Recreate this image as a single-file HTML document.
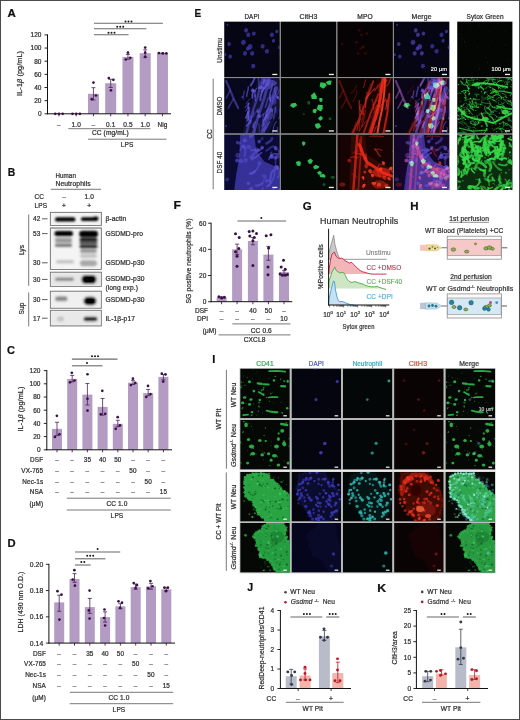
<!DOCTYPE html>
<html><head><meta charset="utf-8"><style>
html,body{margin:0;padding:0;background:#fff;}
svg.main{display:block;font-family:"Liberation Sans", sans-serif;}
svg.main text{stroke-width:0.22px;letter-spacing:0.1px;}
svg.main text:not([stroke]){stroke:#2e2e2e;}
</style></head><body>
<svg class="main" width="520" height="720" viewBox="0 0 520 720" fill="#2e2e2e" stroke="none">
<defs>
<filter id="blur06" x="-20%" y="-50%" width="140%" height="200%"><feGaussianBlur stdDeviation="0.9"/></filter>
<filter id="blurE" x="-10%" y="-10%" width="120%" height="120%"><feGaussianBlur stdDeviation="0.55"/></filter>
<filter id="blurI" x="-10%" y="-10%" width="120%" height="120%"><feGaussianBlur stdDeviation="0.7"/></filter>
<filter id="blur05" x="-10%" y="-10%" width="120%" height="120%"><feGaussianBlur stdDeviation="0.5"/></filter>
<filter id="blur04" x="-10%" y="-10%" width="120%" height="120%"><feGaussianBlur stdDeviation="0.4"/></filter>
<g id="e_dapi1"><ellipse cx="21.9" cy="8.8" rx="2.04" ry="2.28" fill="#4a44c8" opacity="0.62" transform="rotate(20 21.9 8.8)"/><ellipse cx="24.1" cy="13.2" rx="2.04" ry="2.28" fill="#4a44c8" opacity="0.62" transform="rotate(20 24.1 13.2)"/><ellipse cx="29.6" cy="12" rx="1.87" ry="2.09" fill="#4a44c8" opacity="0.62" transform="rotate(20 29.6 12)"/><ellipse cx="19.2" cy="20.8" rx="2.29" ry="2.56" fill="#4a44c8" opacity="0.62" transform="rotate(20 19.2 20.8)"/><ellipse cx="25.8" cy="25.2" rx="2.46" ry="2.75" fill="#4a44c8" opacity="0.62" transform="rotate(20 25.8 25.2)"/><ellipse cx="23.5" cy="27" rx="1.87" ry="2.09" fill="#4a44c8" opacity="0.62" transform="rotate(20 23.5 27)"/><ellipse cx="20.8" cy="31.8" rx="2.04" ry="2.28" fill="#4a44c8" opacity="0.62" transform="rotate(20 20.8 31.8)"/><ellipse cx="28" cy="31.8" rx="2.04" ry="2.28" fill="#4a44c8" opacity="0.62" transform="rotate(20 28 31.8)"/><ellipse cx="4.9" cy="22.5" rx="1.78" ry="1.99" fill="#4a44c8" opacity="0.62" transform="rotate(20 4.9 22.5)"/><ellipse cx="6" cy="35" rx="1.78" ry="1.99" fill="#4a44c8" opacity="0.62" transform="rotate(20 6 35)"/><ellipse cx="38.4" cy="24.7" rx="2.04" ry="2.28" fill="#4a44c8" opacity="0.62" transform="rotate(20 38.4 24.7)"/><ellipse cx="42.7" cy="29.6" rx="2.04" ry="2.28" fill="#4a44c8" opacity="0.62" transform="rotate(20 42.7 29.6)"/><ellipse cx="29" cy="44.4" rx="2.04" ry="2.28" fill="#4a44c8" opacity="0.62" transform="rotate(20 29 44.4)"/><ellipse cx="47.7" cy="13.2" rx="2.04" ry="2.28" fill="#4a44c8" opacity="0.62" transform="rotate(20 47.7 13.2)"/><ellipse cx="52.6" cy="9.9" rx="1.61" ry="1.8" fill="#4a44c8" opacity="0.62" transform="rotate(20 52.6 9.9)"/><ellipse cx="49.3" cy="19.2" rx="1.61" ry="1.8" fill="#4a44c8" opacity="0.62" transform="rotate(20 49.3 19.2)"/><ellipse cx="55.4" cy="25.8" rx="1.7" ry="1.9" fill="#4a44c8" opacity="0.62" transform="rotate(20 55.4 25.8)"/><ellipse cx="3.3" cy="3.3" rx="0.94" ry="1.04" fill="#4a44c8" opacity="0.62" transform="rotate(20 3.3 3.3)"/><ellipse cx="1" cy="33" rx="1.27" ry="1.42" fill="#4a44c8" opacity="0.62" transform="rotate(20 1 33)"/></g>
<g id="e_mpo1"><ellipse cx="21.9" cy="8.8" rx="1.44" ry="1.44" fill="#b01810" opacity="0.25"/><ellipse cx="24.1" cy="13.2" rx="1.44" ry="1.44" fill="#b01810" opacity="0.25"/><ellipse cx="29.6" cy="12" rx="1.32" ry="1.32" fill="#b01810" opacity="0.25"/><ellipse cx="19.2" cy="20.8" rx="1.62" ry="1.62" fill="#b01810" opacity="0.25"/><ellipse cx="25.8" cy="25.2" rx="1.74" ry="1.74" fill="#b01810" opacity="0.25"/><ellipse cx="23.5" cy="27" rx="1.32" ry="1.32" fill="#b01810" opacity="0.25"/><ellipse cx="20.8" cy="31.8" rx="1.44" ry="1.44" fill="#b01810" opacity="0.25"/><ellipse cx="28" cy="31.8" rx="1.44" ry="1.44" fill="#b01810" opacity="0.25"/><ellipse cx="4.9" cy="22.5" rx="1.26" ry="1.26" fill="#b01810" opacity="0.25"/></g>
<g id="e_cit1"></g>
<g id="e_syt1"><ellipse cx="25.15" cy="31.01" rx="0.58" ry="0.44" fill="#2a6a3a" opacity="0.35"/><ellipse cx="32.66" cy="10.23" rx="0.45" ry="0.49" fill="#2a6a3a" opacity="0.44"/><ellipse cx="5.23" cy="16.81" rx="0.33" ry="0.54" fill="#2a6a3a" opacity="0.41"/><ellipse cx="2.33" cy="54.41" rx="0.59" ry="0.5" fill="#2a6a3a" opacity="0.38"/><ellipse cx="8.76" cy="0.83" rx="0.46" ry="0.32" fill="#2a6a3a" opacity="0.26"/><ellipse cx="13.45" cy="1.67" rx="0.44" ry="0.43" fill="#2a6a3a" opacity="0.45"/><ellipse cx="28.86" cy="35.47" rx="0.45" ry="0.5" fill="#2a6a3a" opacity="0.34"/><ellipse cx="15.47" cy="55.27" rx="0.6" ry="0.55" fill="#2a6a3a" opacity="0.41"/><ellipse cx="17.53" cy="12.72" rx="0.39" ry="0.32" fill="#2a6a3a" opacity="0.43"/><ellipse cx="22.26" cy="46.9" rx="0.42" ry="0.59" fill="#2a6a3a" opacity="0.45"/><ellipse cx="0.03" cy="11.62" rx="0.57" ry="0.44" fill="#2a6a3a" opacity="0.49"/><ellipse cx="22.1" cy="4.05" rx="0.49" ry="0.53" fill="#2a6a3a" opacity="0.28"/><ellipse cx="4.85" cy="18.43" rx="0.59" ry="0.53" fill="#2a6a3a" opacity="0.24"/><ellipse cx="13.7" cy="5.6" rx="0.32" ry="0.54" fill="#2a6a3a" opacity="0.25"/><ellipse cx="31.1" cy="24.79" rx="0.36" ry="0.52" fill="#2a6a3a" opacity="0.24"/><ellipse cx="35.79" cy="6.45" rx="0.43" ry="0.36" fill="#2a6a3a" opacity="0.28"/><ellipse cx="53.98" cy="44.51" rx="0.39" ry="0.57" fill="#2a6a3a" opacity="0.26"/><ellipse cx="21.92" cy="47.33" rx="0.49" ry="0.33" fill="#2a6a3a" opacity="0.5"/><ellipse cx="11.86" cy="14.31" rx="0.53" ry="0.4" fill="#2a6a3a" opacity="0.29"/><ellipse cx="4.08" cy="4.99" rx="0.47" ry="0.37" fill="#2a6a3a" opacity="0.38"/><ellipse cx="20.67" cy="25.11" rx="0.59" ry="0.45" fill="#2a6a3a" opacity="0.37"/><ellipse cx="48.18" cy="10.13" rx="0.35" ry="0.57" fill="#2a6a3a" opacity="0.45"/><ellipse cx="13.87" cy="10.51" rx="0.52" ry="0.58" fill="#2a6a3a" opacity="0.26"/><ellipse cx="52.83" cy="48.87" rx="0.48" ry="0.43" fill="#2a6a3a" opacity="0.23"/><ellipse cx="2.15" cy="53.33" rx="0.37" ry="0.51" fill="#2a6a3a" opacity="0.28"/><ellipse cx="45.8" cy="33.04" rx="0.39" ry="0.35" fill="#2a6a3a" opacity="0.42"/><ellipse cx="3.82" cy="12.65" rx="0.47" ry="0.56" fill="#2a6a3a" opacity="0.38"/><ellipse cx="15.58" cy="50.82" rx="0.36" ry="0.3" fill="#2a6a3a" opacity="0.28"/><ellipse cx="24.78" cy="3.35" rx="0.35" ry="0.41" fill="#2a6a3a" opacity="0.37"/><ellipse cx="7.32" cy="20.06" rx="0.57" ry="0.59" fill="#2a6a3a" opacity="0.4"/><ellipse cx="38.43" cy="32.38" rx="0.34" ry="0.31" fill="#2a6a3a" opacity="0.21"/><ellipse cx="50.61" cy="38.83" rx="0.59" ry="0.31" fill="#2a6a3a" opacity="0.39"/><ellipse cx="26.81" cy="40.47" rx="0.4" ry="0.6" fill="#2a6a3a" opacity="0.22"/><ellipse cx="30.36" cy="40.83" rx="0.57" ry="0.52" fill="#2a6a3a" opacity="0.41"/><ellipse cx="44.11" cy="50.69" rx="0.41" ry="0.51" fill="#2a6a3a" opacity="0.47"/><ellipse cx="48.43" cy="23.11" rx="0.54" ry="0.56" fill="#2a6a3a" opacity="0.37"/><ellipse cx="34.75" cy="21.18" rx="0.47" ry="0.48" fill="#2a6a3a" opacity="0.22"/><ellipse cx="35.55" cy="55.03" rx="0.56" ry="0.52" fill="#2a6a3a" opacity="0.32"/><ellipse cx="40.87" cy="32.18" rx="0.43" ry="0.55" fill="#2a6a3a" opacity="0.23"/><ellipse cx="41.71" cy="1.65" rx="0.48" ry="0.44" fill="#2a6a3a" opacity="0.27"/></g>
<g id="e_dapi2"><path d="M38,1 L33,20 L27,38 L22,56" fill="none" stroke="#6258e0" stroke-width="2.4" stroke-linecap="round" stroke-linejoin="round" stroke-opacity="0.5"/><path d="M45,1 L40,20 L34,38 L29,56" fill="none" stroke="#6258e0" stroke-width="3" stroke-linecap="round" stroke-linejoin="round" stroke-opacity="0.55"/><path d="M52,10 L47,25 L42,40 L38,56" fill="none" stroke="#6258e0" stroke-width="4" stroke-linecap="round" stroke-linejoin="round" stroke-opacity="0.55"/><ellipse cx="45" cy="5" rx="8" ry="3.5" fill="#6258e0" opacity="0.6"/><ellipse cx="45" cy="36" rx="4" ry="6" fill="#6258e0" opacity="0.45"/><ellipse cx="50" cy="22" rx="2.5" ry="5" fill="#6258e0" opacity="0.4"/><path d="M2,3 L6,12 L10,22 L14,30" fill="none" stroke="#6258e0" stroke-width="2.2" stroke-linecap="round" stroke-linejoin="round" stroke-opacity="0.5"/><path d="M6,12 L2,20" fill="none" stroke="#6258e0" stroke-width="1.6" stroke-linecap="round" stroke-linejoin="round" stroke-opacity="0.45"/><path d="M9,21 L4,30" fill="none" stroke="#6258e0" stroke-width="1.6" stroke-linecap="round" stroke-linejoin="round" stroke-opacity="0.45"/><ellipse cx="18" cy="19" rx="1" ry="1" fill="#6258e0" opacity="0.5"/><ellipse cx="2" cy="48" rx="1.2" ry="1.2" fill="#6258e0" opacity="0.4"/><path d="M34,0 L56,0 L56,30 L44,56 L18,56 Z" fill="#6258e0" opacity="0.12"/><path d="M22.42,18.23 L22.94,14.87 L23.84,11.76 L24.2,8.82" fill="none" stroke="#6258e0" stroke-width="1.52" stroke-linecap="round" stroke-linejoin="round" stroke-opacity="0.61"/><path d="M53.25,55.15 L53.51,51.77 L53.15,49.19" fill="none" stroke="#6258e0" stroke-width="1.16" stroke-linecap="round" stroke-linejoin="round" stroke-opacity="0.52"/><path d="M26.51,42.18 L24.5,45.38 L22.18,47.92" fill="none" stroke="#6258e0" stroke-width="1.45" stroke-linecap="round" stroke-linejoin="round" stroke-opacity="0.78"/><path d="M55.52,31.24 L55.55,34.41 L55.49,38.2 L54.82,40.48" fill="none" stroke="#6258e0" stroke-width="1.35" stroke-linecap="round" stroke-linejoin="round" stroke-opacity="0.72"/><path d="M35.07,54.1 L35.16,50.68 L34.85,48.68 L34.73,45.42" fill="none" stroke="#6258e0" stroke-width="1.02" stroke-linecap="round" stroke-linejoin="round" stroke-opacity="0.52"/><path d="M53.31,16.91 L54.16,13.84 L55.11,10.94" fill="none" stroke="#6258e0" stroke-width="0.91" stroke-linecap="round" stroke-linejoin="round" stroke-opacity="0.57"/><path d="M51.45,28.65 L51.61,32.11 L51.72,34.11" fill="none" stroke="#6258e0" stroke-width="1.14" stroke-linecap="round" stroke-linejoin="round" stroke-opacity="0.62"/><path d="M36.6,48.75 L37.85,46.77 L38.56,43.94 L38.36,41.52" fill="none" stroke="#6258e0" stroke-width="0.9" stroke-linecap="round" stroke-linejoin="round" stroke-opacity="0.56"/><path d="M45.58,43.64 L43.61,47.04 L42.55,49.43 L41.47,51.22 L40.13,53.1" fill="none" stroke="#6258e0" stroke-width="1.11" stroke-linecap="round" stroke-linejoin="round" stroke-opacity="0.74"/><path d="M28.56,55.38 L27.27,57.52 L26.27,60.55 L25.15,63.88 L25.11,66.17" fill="none" stroke="#6258e0" stroke-width="1.57" stroke-linecap="round" stroke-linejoin="round" stroke-opacity="0.76"/><path d="M30.76,44.01 L29.19,47 L28.85,49.16" fill="none" stroke="#6258e0" stroke-width="1.83" stroke-linecap="round" stroke-linejoin="round" stroke-opacity="0.64"/><path d="M24.8,29.64 L24.37,31.93 L23.89,35.45 L24.46,38.22 L24.3,41.6" fill="none" stroke="#6258e0" stroke-width="1.92" stroke-linecap="round" stroke-linejoin="round" stroke-opacity="0.75"/><path d="M26.29,45.34 L26.87,43.21 L27.12,41.17 L26.9,38.07" fill="none" stroke="#6258e0" stroke-width="1.78" stroke-linecap="round" stroke-linejoin="round" stroke-opacity="0.41"/><path d="M30.78,18.57 L30.63,15.55 L31.32,12.48 L32.2,10.27" fill="none" stroke="#6258e0" stroke-width="1.02" stroke-linecap="round" stroke-linejoin="round" stroke-opacity="0.79"/><path d="M33.84,30.48 L32.12,33.46 L30.33,36.05 L29.49,37.95" fill="none" stroke="#6258e0" stroke-width="1.39" stroke-linecap="round" stroke-linejoin="round" stroke-opacity="0.4"/><path d="M23.87,30.5 L23.96,27.36 L24.55,24.94" fill="none" stroke="#6258e0" stroke-width="1.4" stroke-linecap="round" stroke-linejoin="round" stroke-opacity="0.66"/><path d="M24.03,25.05 L22.95,26.76 L20.77,29.46" fill="none" stroke="#6258e0" stroke-width="1.25" stroke-linecap="round" stroke-linejoin="round" stroke-opacity="0.51"/><path d="M44.36,19.49 L42.95,23.07 L42.29,26.3 L40.89,29.41" fill="none" stroke="#6258e0" stroke-width="1.34" stroke-linecap="round" stroke-linejoin="round" stroke-opacity="0.6"/><path d="M22.09,25.31 L23.78,22.61 L25.98,20.7" fill="none" stroke="#6258e0" stroke-width="0.99" stroke-linecap="round" stroke-linejoin="round" stroke-opacity="0.52"/><path d="M31.1,22.52 L31.15,20.19 L30.93,16.97" fill="none" stroke="#6258e0" stroke-width="1.54" stroke-linecap="round" stroke-linejoin="round" stroke-opacity="0.59"/><path d="M50.86,29.37 L50.77,32.48 L50.49,35.18 L49.67,38.46 L49.67,40.6" fill="none" stroke="#6258e0" stroke-width="1.54" stroke-linecap="round" stroke-linejoin="round" stroke-opacity="0.45"/><path d="M48.23,55.23 L48.84,52.83 L49.28,49.36 L50.25,46.38 L52.19,43.56" fill="none" stroke="#6258e0" stroke-width="1.07" stroke-linecap="round" stroke-linejoin="round" stroke-opacity="0.58"/><path d="M30.8,55.18 L30.61,51.89 L30.01,49.69 L29.37,46.2" fill="none" stroke="#6258e0" stroke-width="0.93" stroke-linecap="round" stroke-linejoin="round" stroke-opacity="0.47"/><path d="M22.68,42.89 L23.89,39.43 L24.12,36.08 L25.07,33.2" fill="none" stroke="#6258e0" stroke-width="1.86" stroke-linecap="round" stroke-linejoin="round" stroke-opacity="0.51"/><path d="M20.09,12.92 L19.69,15.03 L19.18,18.32 L19.17,20.92" fill="none" stroke="#6258e0" stroke-width="1.37" stroke-linecap="round" stroke-linejoin="round" stroke-opacity="0.45"/><path d="M39.82,0.48 L39.5,2.92 L39.1,5.91" fill="none" stroke="#6258e0" stroke-width="1.7" stroke-linecap="round" stroke-linejoin="round" stroke-opacity="0.68"/><path d="M21.45,32.9 L23.19,30.27 L23.95,27.73 L25.17,25.51" fill="none" stroke="#6258e0" stroke-width="1.06" stroke-linecap="round" stroke-linejoin="round" stroke-opacity="0.53"/><path d="M44.84,27.93 L43.73,30.83 L41.47,34.07 L39.66,35.86 L37.37,37.7" fill="none" stroke="#6258e0" stroke-width="0.94" stroke-linecap="round" stroke-linejoin="round" stroke-opacity="0.67"/><path d="M29.52,12.89 L28.27,16.01 L28.13,19.7" fill="none" stroke="#6258e0" stroke-width="1.67" stroke-linecap="round" stroke-linejoin="round" stroke-opacity="0.81"/><path d="M40.67,41.86 L41.31,39.51 L42.71,36.86" fill="none" stroke="#6258e0" stroke-width="1.75" stroke-linecap="round" stroke-linejoin="round" stroke-opacity="0.81"/><path d="M34.94,55.48 L33.4,58.39 L32.15,62.16 L31.55,64.27 L30.8,66.21" fill="none" stroke="#6258e0" stroke-width="0.92" stroke-linecap="round" stroke-linejoin="round" stroke-opacity="0.72"/><path d="M28.39,39.29 L29.07,35.65 L29.71,33.46" fill="none" stroke="#6258e0" stroke-width="1.16" stroke-linecap="round" stroke-linejoin="round" stroke-opacity="0.58"/><path d="M21.73,39.75 L23,37.17 L23.71,34.09" fill="none" stroke="#6258e0" stroke-width="1.99" stroke-linecap="round" stroke-linejoin="round" stroke-opacity="0.74"/><path d="M26.45,7.44 L27.86,5.19 L29.25,2.9 L30.27,0.3 L32.57,-2.51" fill="none" stroke="#6258e0" stroke-width="1.85" stroke-linecap="round" stroke-linejoin="round" stroke-opacity="0.76"/><path d="M45.77,16.43 L45.76,19.53 L45.94,22.59" fill="none" stroke="#6258e0" stroke-width="1.78" stroke-linecap="round" stroke-linejoin="round" stroke-opacity="0.82"/><path d="M44.35,42.28 L43.81,44.79 L42.44,47.86 L40.51,50 L38.47,52.18" fill="none" stroke="#6258e0" stroke-width="1.79" stroke-linecap="round" stroke-linejoin="round" stroke-opacity="0.41"/><path d="M39.07,42.9 L40.74,39.56 L42.05,36.79" fill="none" stroke="#6258e0" stroke-width="1.1" stroke-linecap="round" stroke-linejoin="round" stroke-opacity="0.51"/><path d="M39.25,43.67 L38.81,45.67 L38.39,47.88" fill="none" stroke="#6258e0" stroke-width="1.28" stroke-linecap="round" stroke-linejoin="round" stroke-opacity="0.42"/><path d="M36.22,21.87 L36.33,18.21 L37.4,15.12 L38.62,11.32 L40.29,9.08" fill="none" stroke="#6258e0" stroke-width="1.95" stroke-linecap="round" stroke-linejoin="round" stroke-opacity="0.75"/><path d="M48,6.05 L47.55,10.02 L46.47,12.78 L45.83,15.09" fill="none" stroke="#6258e0" stroke-width="1.6" stroke-linecap="round" stroke-linejoin="round" stroke-opacity="0.63"/><path d="M50.44,9.89 L50.58,13.49 L51.68,16.4 L53.25,18.82 L55.47,21.21" fill="none" stroke="#6258e0" stroke-width="1.2" stroke-linecap="round" stroke-linejoin="round" stroke-opacity="0.71"/><path d="M43.23,4.45 L41.99,7.48 L40.71,9.71 L39.32,11.21 L37.49,13.74" fill="none" stroke="#6258e0" stroke-width="1.91" stroke-linecap="round" stroke-linejoin="round" stroke-opacity="0.76"/><path d="M55.09,1.52 L56.1,-1.55 L58.28,-4.34" fill="none" stroke="#6258e0" stroke-width="1.12" stroke-linecap="round" stroke-linejoin="round" stroke-opacity="0.43"/><path d="M39.25,47.04 L39.39,44.95 L39.16,42.81 L39.27,39.42 L39.22,35.71" fill="none" stroke="#6258e0" stroke-width="1.68" stroke-linecap="round" stroke-linejoin="round" stroke-opacity="0.41"/><path d="M34.67,9.66 L34.79,5.82 L34.41,2.57 L34.02,0.55" fill="none" stroke="#6258e0" stroke-width="1.97" stroke-linecap="round" stroke-linejoin="round" stroke-opacity="0.4"/><g opacity="0.64"><ellipse cx="48.09" cy="32.85" rx="0.92" ry="1.2" fill="#6258e0" transform="rotate(6.494094594152628 48.09 32.85)"/><ellipse cx="47.37" cy="32.23" rx="1.33" ry="1.53" fill="#6258e0" transform="rotate(94.1338502958542 47.37 32.23)"/><ellipse cx="47.51" cy="31.49" rx="1.48" ry="1.73" fill="#6258e0" transform="rotate(127.42999299057578 47.51 31.49)"/></g><g opacity="0.59"><ellipse cx="29.53" cy="12.06" rx="0.83" ry="1.51" fill="#6258e0" transform="rotate(156.45601669560995 29.53 12.06)"/><ellipse cx="28.07" cy="11.97" rx="1.13" ry="1.83" fill="#6258e0" transform="rotate(22.45972845266386 28.07 11.97)"/><ellipse cx="28.62" cy="12.78" rx="0.73" ry="1.21" fill="#6258e0" transform="rotate(55.46791062591742 28.62 12.78)"/></g><g opacity="0.6"><ellipse cx="45.9" cy="9.07" rx="1.36" ry="1.07" fill="#6258e0" transform="rotate(35.0272542437054 45.9 9.07)"/><ellipse cx="44.93" cy="9.7" rx="1.01" ry="0.87" fill="#6258e0" transform="rotate(100.02656652123176 44.93 9.7)"/><ellipse cx="44.68" cy="10.28" rx="1.16" ry="0.74" fill="#6258e0" transform="rotate(172.2745831300631 44.68 10.28)"/></g><g opacity="0.84"><ellipse cx="53.71" cy="19.1" rx="1.11" ry="1" fill="#6258e0" transform="rotate(172.50062769630378 53.71 19.1)"/><ellipse cx="53.43" cy="20.12" rx="0.79" ry="0.83" fill="#6258e0" transform="rotate(100.27079451098236 53.43 20.12)"/><ellipse cx="52.67" cy="18.9" rx="0.82" ry="1.01" fill="#6258e0" transform="rotate(83.85441373689493 52.67 18.9)"/></g><g opacity="0.54"><ellipse cx="43.13" cy="0.49" rx="0.9" ry="1.4" fill="#6258e0" transform="rotate(172.78741535355115 43.13 0.49)"/><ellipse cx="42.91" cy="0.83" rx="1.36" ry="1.45" fill="#6258e0" transform="rotate(37.0875268742129 42.91 0.83)"/><ellipse cx="42.97" cy="1.38" rx="1.39" ry="1.19" fill="#6258e0" transform="rotate(141.34991479721924 42.97 1.38)"/></g><g opacity="0.66"><ellipse cx="33.35" cy="33.22" rx="1.4" ry="1.07" fill="#6258e0" transform="rotate(99.70840601160745 33.35 33.22)"/><ellipse cx="34" cy="33.79" rx="0.91" ry="0.83" fill="#6258e0" transform="rotate(156.79453340624352 34 33.79)"/><ellipse cx="34.11" cy="33.07" rx="1.71" ry="1.43" fill="#6258e0" transform="rotate(87.76014886251703 34.11 33.07)"/></g><g opacity="0.57"><ellipse cx="37.72" cy="8.11" rx="1.25" ry="1.2" fill="#6258e0" transform="rotate(99.95658130514458 37.72 8.11)"/><ellipse cx="38.28" cy="7.82" rx="0.88" ry="1.01" fill="#6258e0" transform="rotate(151.33900360476233 38.28 7.82)"/><ellipse cx="38.08" cy="8.43" rx="1.9" ry="1.44" fill="#6258e0" transform="rotate(75.207785749975 38.08 8.43)"/></g><g opacity="0.71"><ellipse cx="40.57" cy="2.33" rx="1.66" ry="1.46" fill="#6258e0" transform="rotate(104.19464870329233 40.57 2.33)"/><ellipse cx="40.67" cy="2.85" rx="1.08" ry="0.79" fill="#6258e0" transform="rotate(35.67258234534785 40.67 2.85)"/><ellipse cx="40.63" cy="2.53" rx="1.1" ry="1.09" fill="#6258e0" transform="rotate(146.2029217117023 40.63 2.53)"/></g><g opacity="0.84"><ellipse cx="36.13" cy="9.97" rx="0.63" ry="0.8" fill="#6258e0" transform="rotate(137.9525216304126 36.13 9.97)"/><ellipse cx="34.96" cy="9.45" rx="0.8" ry="1.19" fill="#6258e0" transform="rotate(66.00461611237773 34.96 9.45)"/><ellipse cx="34.83" cy="9.7" rx="1.41" ry="1.2" fill="#6258e0" transform="rotate(124.94722704464498 34.83 9.7)"/></g><g opacity="0.73"><ellipse cx="35.09" cy="37.3" rx="1.46" ry="1.33" fill="#6258e0" transform="rotate(51.40984681448549 35.09 37.3)"/><ellipse cx="35.03" cy="38.26" rx="1.71" ry="1.91" fill="#6258e0" transform="rotate(97.84965502742533 35.03 38.26)"/><ellipse cx="35.12" cy="38.16" rx="1.11" ry="1.25" fill="#6258e0" transform="rotate(108.88204770085918 35.12 38.16)"/></g><g opacity="0.72"><ellipse cx="36.58" cy="10.37" rx="0.87" ry="0.9" fill="#6258e0" transform="rotate(173.796462780237 36.58 10.37)"/><ellipse cx="36.72" cy="9.49" rx="1.5" ry="1.18" fill="#6258e0" transform="rotate(128.93126580128882 36.72 9.49)"/><ellipse cx="37.35" cy="9.43" rx="2.03" ry="1.76" fill="#6258e0" transform="rotate(31.548172879351576 37.35 9.43)"/></g><g opacity="0.7"><ellipse cx="28.34" cy="13.11" rx="0.86" ry="1.47" fill="#6258e0" transform="rotate(89.38049296698514 28.34 13.11)"/><ellipse cx="29.74" cy="12.77" rx="1.34" ry="1.48" fill="#6258e0" transform="rotate(36.691369274281875 29.74 12.77)"/><ellipse cx="28.48" cy="12.21" rx="1.3" ry="1.17" fill="#6258e0" transform="rotate(11.219468682217073 28.48 12.21)"/></g></g>
<g id="e_cit2"><path d="M44.67,4.88 L45.93,7.52 L42.58,10.57 L38.88,8.49 L39.69,4.13 Z" fill="#34d060" opacity="0.92"/><path d="M49.91,6.8 L47.03,6.71 L44.94,3.91 L48.4,2.31 L50.92,2.58 Z" fill="#34d060" opacity="0.92"/><path d="M35.97,18.08 L36.04,20.94 L30.99,20.87 L30.23,17.18 L33.73,14.25 Z" fill="#34d060" opacity="0.92"/><path d="M12.75,29.98 L9.37,28 L10.45,25.41 L14.61,24.76 L16.48,27.21 Z" fill="#34d060" opacity="0.92"/><path d="M40.58,24.17 L38.73,23.08 L38.47,19.82 L41.37,19.82 L41.9,22.05 Z" fill="#34d060" opacity="0.92"/><path d="M37.29,26.71 L41.86,26.93 L41.93,30.62 L40.23,33.36 L36.02,31.05 Z" fill="#34d060" opacity="0.92"/><path d="M35.17,30.57 L36.06,32.51 L34.66,35.41 L31.83,34.13 L32.25,31.28 Z" fill="#34d060" opacity="0.92"/><path d="M39.3,42.69 L37.35,40.28 L39.48,37.9 L41.9,39.02 L41.61,41.46 Z" fill="#34d060" opacity="0.92"/><path d="M36.94,50.94 L34.74,49.1 L34.18,45.86 L38.34,44.93 L40.46,48.66 Z" fill="#34d060" opacity="0.92"/><ellipse cx="28" cy="24.7" rx="1.5" ry="2" fill="#34d060" opacity="0.35"/><ellipse cx="49.3" cy="40.6" rx="1.5" ry="1.5" fill="#34d060" opacity="0.35"/><ellipse cx="23" cy="36" rx="1.2" ry="1.2" fill="#34d060" opacity="0.25"/></g>
<g id="e_mpo2"><path d="M40,0 L52,0 L56,20 L50,56 L14,56 L30,30 Z" fill="#f02a1a" opacity="0.08"/><path d="M46,0 L44,12 L42,25 L38,40 L33,56" fill="none" stroke="#f02a1a" stroke-width="3" stroke-linecap="round" stroke-linejoin="round" stroke-opacity="0.9"/><path d="M48,0 L47,14 L45,30 L42,44 L40,56" fill="none" stroke="#ff4a2a" stroke-width="2" stroke-linecap="round" stroke-linejoin="round" stroke-opacity="0.85"/><path d="M36,3 L28,25 L20,45 L15,56" fill="none" stroke="#f02a1a" stroke-width="1.8" stroke-linecap="round" stroke-linejoin="round" stroke-opacity="0.65"/><path d="M52,16 L50,35 L46,56" fill="none" stroke="#f02a1a" stroke-width="2" stroke-linecap="round" stroke-linejoin="round" stroke-opacity="0.7"/><path d="M41,16 L33,36 L26,56" fill="none" stroke="#f02a1a" stroke-width="1.8" stroke-linecap="round" stroke-linejoin="round" stroke-opacity="0.6"/><path d="M44,20 L36,40 L31,56" fill="none" stroke="#f02a1a" stroke-width="1.5" stroke-linecap="round" stroke-linejoin="round" stroke-opacity="0.55"/><ellipse cx="44" cy="10" rx="3" ry="6" fill="#f02a1a" opacity="0.45"/><path d="M2,3 L6,12 L10,22 L14,30" fill="none" stroke="#a01a10" stroke-width="2" stroke-linecap="round" stroke-linejoin="round" stroke-opacity="0.5"/><path d="M6,12 L2,20" fill="none" stroke="#a01a10" stroke-width="1.5" stroke-linecap="round" stroke-linejoin="round" stroke-opacity="0.4"/><path d="M9,21 L4,30" fill="none" stroke="#a01a10" stroke-width="1.5" stroke-linecap="round" stroke-linejoin="round" stroke-opacity="0.4"/><path d="M38.6,41.48 L39.7,38.21 L40.95,35.44 L42.47,31.53 L45.2,28.39" fill="none" stroke="#f02a1a" stroke-width="1.24" stroke-linecap="round" stroke-linejoin="round" stroke-opacity="0.55"/><path d="M48.51,20.64 L46.37,23.77 L43.87,27.21 L42.93,29.64" fill="none" stroke="#f02a1a" stroke-width="1.29" stroke-linecap="round" stroke-linejoin="round" stroke-opacity="0.59"/><path d="M41.48,29.28 L41.82,27.13 L42.05,24.11 L42.56,21.42 L43.65,18.92 L44.45,14.92" fill="none" stroke="#f02a1a" stroke-width="1.01" stroke-linecap="round" stroke-linejoin="round" stroke-opacity="0.46"/><path d="M28.04,29.77 L28.47,27.19 L28.47,24.31 L28.42,20.6 L29.73,16.6 L29.78,13.99" fill="none" stroke="#f02a1a" stroke-width="1.25" stroke-linecap="round" stroke-linejoin="round" stroke-opacity="0.67"/><path d="M37.48,12.49 L39.1,10.15 L40.98,6.93" fill="none" stroke="#f02a1a" stroke-width="1.27" stroke-linecap="round" stroke-linejoin="round" stroke-opacity="0.59"/><path d="M26.98,31.82 L26.21,34 L26.18,36.02 L25.31,40.24 L24.14,43.9" fill="none" stroke="#f02a1a" stroke-width="0.88" stroke-linecap="round" stroke-linejoin="round" stroke-opacity="0.49"/><path d="M24.64,48.76 L25.94,46.61 L27.79,44.12 L29.68,42.56" fill="none" stroke="#f02a1a" stroke-width="0.98" stroke-linecap="round" stroke-linejoin="round" stroke-opacity="0.51"/><path d="M29.5,20.41 L30.78,17.06 L31.05,12.74 L31.56,9.81 L33.49,5.88" fill="none" stroke="#f02a1a" stroke-width="0.68" stroke-linecap="round" stroke-linejoin="round" stroke-opacity="0.49"/><path d="M22.15,42.5 L22.06,45.6 L22.28,49.99 L22.06,52.55" fill="none" stroke="#f02a1a" stroke-width="1.05" stroke-linecap="round" stroke-linejoin="round" stroke-opacity="0.41"/><path d="M49.45,8.02 L52,4.35 L53.14,0.67 L53.05,-3.51 L52.9,-6.67" fill="none" stroke="#f02a1a" stroke-width="1.19" stroke-linecap="round" stroke-linejoin="round" stroke-opacity="0.55"/><path d="M39.37,27.01 L38.62,29 L37.12,33.09 L36.53,35.12" fill="none" stroke="#f02a1a" stroke-width="1.09" stroke-linecap="round" stroke-linejoin="round" stroke-opacity="0.6"/><path d="M35.94,31.57 L36.42,29.62 L35.95,25.32 L34.6,21.18" fill="none" stroke="#f02a1a" stroke-width="0.95" stroke-linecap="round" stroke-linejoin="round" stroke-opacity="0.59"/><path d="M18.44,43.86 L17.98,46.44 L16.87,49.4 L14.94,52.65 L14.01,54.54" fill="none" stroke="#f02a1a" stroke-width="0.81" stroke-linecap="round" stroke-linejoin="round" stroke-opacity="0.4"/><path d="M24.28,48.06 L25.69,43.96 L26.55,41.43 L27.05,38.41 L27.66,35.75 L28.32,31.71" fill="none" stroke="#f02a1a" stroke-width="1.07" stroke-linecap="round" stroke-linejoin="round" stroke-opacity="0.44"/><path d="M49.72,1.85 L48,4.71 L46.68,6.41" fill="none" stroke="#f02a1a" stroke-width="1.19" stroke-linecap="round" stroke-linejoin="round" stroke-opacity="0.7"/><path d="M19.53,12.38 L19.45,15.21 L18.02,19.04 L16.99,20.99 L15.54,23.84" fill="none" stroke="#f02a1a" stroke-width="0.88" stroke-linecap="round" stroke-linejoin="round" stroke-opacity="0.33"/><path d="M23.37,26.62 L22.52,30.22 L21.81,33.77 L22.34,37.34" fill="none" stroke="#f02a1a" stroke-width="1.18" stroke-linecap="round" stroke-linejoin="round" stroke-opacity="0.48"/><path d="M40.88,21.09 L39.55,22.99 L37.14,25.14 L34.93,26.98" fill="none" stroke="#f02a1a" stroke-width="0.94" stroke-linecap="round" stroke-linejoin="round" stroke-opacity="0.45"/><path d="M26.15,9.27 L26.91,7.39 L27.1,4.77 L28.46,1.68" fill="none" stroke="#f02a1a" stroke-width="0.86" stroke-linecap="round" stroke-linejoin="round" stroke-opacity="0.59"/><path d="M19.53,7.4 L17.52,11.14 L15.69,13.65 L13.34,15.35" fill="none" stroke="#f02a1a" stroke-width="0.72" stroke-linecap="round" stroke-linejoin="round" stroke-opacity="0.4"/><path d="M21.95,22.54 L21.96,25.06 L21.87,27.36 L22.56,30.89 L23.57,33.35 L25.92,36.57" fill="none" stroke="#f02a1a" stroke-width="1.24" stroke-linecap="round" stroke-linejoin="round" stroke-opacity="0.67"/><path d="M35.77,36.65 L34.77,38.53 L32.84,40.31" fill="none" stroke="#f02a1a" stroke-width="0.87" stroke-linecap="round" stroke-linejoin="round" stroke-opacity="0.37"/><path d="M24.83,47.9 L22.9,51.69 L21.35,53.72" fill="none" stroke="#f02a1a" stroke-width="0.7" stroke-linecap="round" stroke-linejoin="round" stroke-opacity="0.52"/><path d="M19.59,52.26 L20.47,48.72 L20.81,46.46 L21.91,43.41 L23.54,40.01" fill="none" stroke="#f02a1a" stroke-width="1.26" stroke-linecap="round" stroke-linejoin="round" stroke-opacity="0.56"/><path d="M50.79,20.64 L49.39,24.66 L49.02,28.45" fill="none" stroke="#f02a1a" stroke-width="1.11" stroke-linecap="round" stroke-linejoin="round" stroke-opacity="0.53"/><path d="M49.68,22.18 L49.44,24.7 L49.36,27.78 L48.24,31.24" fill="none" stroke="#f02a1a" stroke-width="1.29" stroke-linecap="round" stroke-linejoin="round" stroke-opacity="0.61"/><path d="M26.42,35.77 L26.39,32.84 L25.96,30.53 L24.45,26.33" fill="none" stroke="#f02a1a" stroke-width="0.75" stroke-linecap="round" stroke-linejoin="round" stroke-opacity="0.41"/><path d="M39.9,32.25 L41.48,29.08 L44.06,26.08 L47.02,23.88 L49.42,22.05" fill="none" stroke="#f02a1a" stroke-width="0.9" stroke-linecap="round" stroke-linejoin="round" stroke-opacity="0.58"/><path d="M39.13,48.13 L38,50.69 L36.77,53.66" fill="none" stroke="#f02a1a" stroke-width="1.23" stroke-linecap="round" stroke-linejoin="round" stroke-opacity="0.58"/><path d="M37.19,10.11 L36.11,11.89 L34.62,13.69 L31.64,16.66 L28.65,19.88" fill="none" stroke="#f02a1a" stroke-width="1.15" stroke-linecap="round" stroke-linejoin="round" stroke-opacity="0.62"/></g>
<g id="e_syt2"><path d="M15,7 L25,5 L35,6 L50,9" fill="none" stroke="#36d848" stroke-width="1.7" stroke-linecap="round" stroke-linejoin="round" stroke-opacity="0.95"/><path d="M35,13 L45,13 L55,15" fill="none" stroke="#36d848" stroke-width="1.2" stroke-linecap="round" stroke-linejoin="round" stroke-opacity="0.8"/><path d="M1,30 L9,38 L18,41 L26,42 L36,45 L45,40 L55,35" fill="none" stroke="#36d848" stroke-width="1.8" stroke-linecap="round" stroke-linejoin="round" stroke-opacity="0.95"/><path d="M24,35 L27,41 L30,48" fill="none" stroke="#36d848" stroke-width="1.5" stroke-linecap="round" stroke-linejoin="round" stroke-opacity="0.85"/><path d="M40,28 L47,30 L55,31" fill="none" stroke="#36d848" stroke-width="1.7" stroke-linecap="round" stroke-linejoin="round" stroke-opacity="0.85"/><path d="M2,50 L15,53 L30,52" fill="none" stroke="#36d848" stroke-width="1.2" stroke-linecap="round" stroke-linejoin="round" stroke-opacity="0.7"/><ellipse cx="28" cy="41" rx="3.5" ry="2" fill="#36d848" opacity="0.95"/><ellipse cx="48" cy="34" rx="3.5" ry="2.5" fill="#36d848" opacity="0.9"/><ellipse cx="20" cy="6" rx="3" ry="1.8" fill="#36d848" opacity="0.9"/><ellipse cx="6" cy="35" rx="2.5" ry="2.5" fill="#36d848" opacity="0.8"/><path d="M13.75,5.24 L11.35,3 L9.49,0.94" fill="none" stroke="#36d848" stroke-width="0.86" stroke-linecap="round" stroke-linejoin="round" stroke-opacity="0.47"/><path d="M15.25,4.67 L18.31,5.27 L19.39,6.55 L22.12,8.53" fill="none" stroke="#36d848" stroke-width="0.66" stroke-linecap="round" stroke-linejoin="round" stroke-opacity="0.86"/><path d="M34.42,38.87 L35.9,40.67 L37,43.89" fill="none" stroke="#36d848" stroke-width="0.89" stroke-linecap="round" stroke-linejoin="round" stroke-opacity="0.6"/><path d="M21.92,42.1 L20.83,40.51 L17.63,39.77" fill="none" stroke="#36d848" stroke-width="0.98" stroke-linecap="round" stroke-linejoin="round" stroke-opacity="0.78"/><path d="M21.35,10.24 L23.58,9.07 L24.67,5.87 L25.74,4.67 L27.6,4.48" fill="none" stroke="#36d848" stroke-width="0.88" stroke-linecap="round" stroke-linejoin="round" stroke-opacity="0.65"/><path d="M3.51,36.6 L4.89,38.45 L6.86,39.48" fill="none" stroke="#36d848" stroke-width="1.04" stroke-linecap="round" stroke-linejoin="round" stroke-opacity="0.61"/><path d="M53.05,1.21 L54.84,1.85 L57.23,2.17 L59.96,1.4 L62.08,0.96" fill="none" stroke="#36d848" stroke-width="1.08" stroke-linecap="round" stroke-linejoin="round" stroke-opacity="0.72"/><path d="M35.86,6.64 L32.63,7.47 L30.05,8.82 L27.41,10.52" fill="none" stroke="#36d848" stroke-width="0.84" stroke-linecap="round" stroke-linejoin="round" stroke-opacity="0.48"/><path d="M50.98,14.79 L53.42,14.74 L56.17,15.65 L57.54,16.75 L58.28,19.1" fill="none" stroke="#36d848" stroke-width="0.54" stroke-linecap="round" stroke-linejoin="round" stroke-opacity="0.67"/><path d="M33.17,26.45 L34.37,28.18 L37.43,29.77 L39.45,29.85 L41.76,29.12" fill="none" stroke="#36d848" stroke-width="0.97" stroke-linecap="round" stroke-linejoin="round" stroke-opacity="0.74"/><path d="M6.51,14.58 L7.71,16.22 L8.61,18.42 L8.77,21.37 L7.74,22.63" fill="none" stroke="#36d848" stroke-width="0.89" stroke-linecap="round" stroke-linejoin="round" stroke-opacity="0.79"/><path d="M22.04,41.88 L19.97,41.55 L18.12,40.91" fill="none" stroke="#36d848" stroke-width="0.78" stroke-linecap="round" stroke-linejoin="round" stroke-opacity="0.86"/><path d="M49.88,39.48 L51.65,40.05 L52.86,41.77 L53.99,43.04 L56.31,43.84" fill="none" stroke="#36d848" stroke-width="0.72" stroke-linecap="round" stroke-linejoin="round" stroke-opacity="0.82"/><path d="M1.15,33.61 L-0.54,32.99 L-2.54,31.17" fill="none" stroke="#36d848" stroke-width="0.84" stroke-linecap="round" stroke-linejoin="round" stroke-opacity="0.89"/><path d="M31.16,35.52 L29.03,33.87 L27.81,31.74 L27.48,29.56" fill="none" stroke="#36d848" stroke-width="0.9" stroke-linecap="round" stroke-linejoin="round" stroke-opacity="0.76"/><path d="M29.44,30.61 L31.09,29.66 L32.28,28.71 L33.14,25.85 L32,22.9" fill="none" stroke="#36d848" stroke-width="0.75" stroke-linecap="round" stroke-linejoin="round" stroke-opacity="0.7"/><path d="M4.97,30 L2.29,29.66 L-0.69,28.52" fill="none" stroke="#36d848" stroke-width="0.66" stroke-linecap="round" stroke-linejoin="round" stroke-opacity="0.55"/><path d="M50.18,55.21 L49.03,54.23 L48.18,52.36 L45.46,50.73 L42.99,50.4" fill="none" stroke="#36d848" stroke-width="0.82" stroke-linecap="round" stroke-linejoin="round" stroke-opacity="0.8"/><path d="M24.14,17.81 L26.64,19.78 L29.09,20.93 L31.33,21.42" fill="none" stroke="#36d848" stroke-width="0.6" stroke-linecap="round" stroke-linejoin="round" stroke-opacity="0.49"/><path d="M24.06,22.07 L26.95,21.62 L28.56,19.37 L30.84,18 L32.42,17.57" fill="none" stroke="#36d848" stroke-width="0.58" stroke-linecap="round" stroke-linejoin="round" stroke-opacity="0.6"/><path d="M9.96,40.41 L12,39.37 L14.5,39.33 L17.49,39.76" fill="none" stroke="#36d848" stroke-width="0.88" stroke-linecap="round" stroke-linejoin="round" stroke-opacity="0.47"/><path d="M18.54,47.31 L15.43,46.01 L12.99,44.78" fill="none" stroke="#36d848" stroke-width="1.03" stroke-linecap="round" stroke-linejoin="round" stroke-opacity="0.79"/><path d="M53.81,1.28 L51.88,0.48 L48.76,0.27" fill="none" stroke="#36d848" stroke-width="0.7" stroke-linecap="round" stroke-linejoin="round" stroke-opacity="0.62"/><path d="M50.71,0.89 L52.68,0.54 L54.21,-1.1 L54.69,-3.41 L53.92,-5.69" fill="none" stroke="#36d848" stroke-width="0.73" stroke-linecap="round" stroke-linejoin="round"/><path d="M46.31,2.92 L42.95,2.41 L41.19,3.27" fill="none" stroke="#36d848" stroke-width="0.69" stroke-linecap="round" stroke-linejoin="round" stroke-opacity="0.61"/><path d="M27.72,6.66 L29.84,5.28 L31.48,2.5" fill="none" stroke="#36d848" stroke-width="0.92" stroke-linecap="round" stroke-linejoin="round" stroke-opacity="0.82"/><path d="M44.77,15.08 L47.27,16.07 L48.91,17.41" fill="none" stroke="#36d848" stroke-width="0.71" stroke-linecap="round" stroke-linejoin="round" stroke-opacity="0.8"/><path d="M14.02,0.75 L16.38,-0.81 L17.12,-2.5" fill="none" stroke="#36d848" stroke-width="0.79" stroke-linecap="round" stroke-linejoin="round" stroke-opacity="0.75"/><path d="M3.26,3.07 L4.91,4.39 L6.07,6.26 L7.44,6.94" fill="none" stroke="#36d848" stroke-width="1.01" stroke-linecap="round" stroke-linejoin="round" stroke-opacity="0.76"/><path d="M41.05,25.72 L42.6,26.49 L44.35,26.15 L47.05,24.65" fill="none" stroke="#36d848" stroke-width="0.71" stroke-linecap="round" stroke-linejoin="round" stroke-opacity="0.82"/><path d="M38.35,1.71 L35.53,1.26 L34.05,0.77 L30.8,0.76 L28.22,-0.77" fill="none" stroke="#36d848" stroke-width="0.87" stroke-linecap="round" stroke-linejoin="round" stroke-opacity="0.83"/><path d="M33.07,32.06 L31.89,30.62 L31.61,28.98" fill="none" stroke="#36d848" stroke-width="1.08" stroke-linecap="round" stroke-linejoin="round" stroke-opacity="0.67"/><path d="M5.16,41.2 L2.04,40.62 L0.18,40.68 L-2.8,40.79 L-4.4,41.52" fill="none" stroke="#36d848" stroke-width="0.58" stroke-linecap="round" stroke-linejoin="round" stroke-opacity="0.56"/><path d="M43.74,23.6 L45.24,25.91 L45.96,27.29" fill="none" stroke="#36d848" stroke-width="0.62" stroke-linecap="round" stroke-linejoin="round" stroke-opacity="0.47"/><path d="M24.29,23.3 L25.3,24.43 L27.47,25.02 L30.9,25.36 L33,25.26" fill="none" stroke="#36d848" stroke-width="0.91" stroke-linecap="round" stroke-linejoin="round" stroke-opacity="0.53"/><path d="M33.6,42.69 L30.81,41.1 L28.75,38.62 L27.07,36.76" fill="none" stroke="#36d848" stroke-width="0.65" stroke-linecap="round" stroke-linejoin="round" stroke-opacity="0.61"/><path d="M3.37,28.62 L5.66,27.94 L6.88,25.69" fill="none" stroke="#36d848" stroke-width="0.91" stroke-linecap="round" stroke-linejoin="round" stroke-opacity="0.77"/><path d="M36.96,32.55 L35.03,33.69 L32.82,34.89" fill="none" stroke="#36d848" stroke-width="0.65" stroke-linecap="round" stroke-linejoin="round" stroke-opacity="0.75"/><path d="M4.45,34.68 L6.04,33.64 L7.5,32.94" fill="none" stroke="#36d848" stroke-width="0.62" stroke-linecap="round" stroke-linejoin="round" stroke-opacity="0.6"/><path d="M3.37,43.63 L5.8,43.95 L8.73,45.26 L10.43,48.2 L13.56,49.13" fill="none" stroke="#36d848" stroke-width="0.53" stroke-linecap="round" stroke-linejoin="round" stroke-opacity="0.8"/><path d="M15.51,28.6 L18.82,29.15 L21.53,28.84" fill="none" stroke="#36d848" stroke-width="0.78" stroke-linecap="round" stroke-linejoin="round" stroke-opacity="0.68"/><path d="M22.71,7.68 L24.06,9.36 L25.84,10.31 L26.44,11.79" fill="none" stroke="#36d848" stroke-width="1.07" stroke-linecap="round" stroke-linejoin="round" stroke-opacity="0.86"/><path d="M2.56,41.01 L4.43,39.8 L7.6,40.07" fill="none" stroke="#36d848" stroke-width="0.83" stroke-linecap="round" stroke-linejoin="round" stroke-opacity="0.98"/><path d="M10.02,36 L7.89,33.78 L7.17,30.89" fill="none" stroke="#36d848" stroke-width="0.5" stroke-linecap="round" stroke-linejoin="round" stroke-opacity="0.74"/><path d="M35.2,10.78 L37.33,11.36 L38.84,12.85 L38.93,15.11" fill="none" stroke="#36d848" stroke-width="1.06" stroke-linecap="round" stroke-linejoin="round" stroke-opacity="0.92"/><path d="M1.16,32.43 L2.98,31.5 L4.3,30.73" fill="none" stroke="#36d848" stroke-width="0.89" stroke-linecap="round" stroke-linejoin="round" stroke-opacity="0.49"/><path d="M17.27,1.44 L14.64,2.27 L11.77,2.13 L10.06,3.17 L8.15,5.65" fill="none" stroke="#36d848" stroke-width="0.8" stroke-linecap="round" stroke-linejoin="round" stroke-opacity="0.54"/><path d="M21.94,36.99 L18.83,38.13 L17.27,38.57 L14.34,38.24" fill="none" stroke="#36d848" stroke-width="0.7" stroke-linecap="round" stroke-linejoin="round" stroke-opacity="0.53"/><path d="M21.54,29.25 L20.01,29.17 L18.17,28.07 L15.82,25.51 L14.94,22.61" fill="none" stroke="#36d848" stroke-width="0.94" stroke-linecap="round" stroke-linejoin="round" stroke-opacity="0.89"/><path d="M46.63,19.5 L43.32,18.87 L40.47,20.01 L39.29,21.45" fill="none" stroke="#36d848" stroke-width="0.62" stroke-linecap="round" stroke-linejoin="round" stroke-opacity="0.7"/><path d="M1.14,37.27 L-0.38,36.5 L-2.76,36.34 L-5.01,36.72" fill="none" stroke="#36d848" stroke-width="1.03" stroke-linecap="round" stroke-linejoin="round" stroke-opacity="0.78"/><path d="M21.42,9.21 L19.11,8.6 L17.15,5.99" fill="none" stroke="#36d848" stroke-width="0.6" stroke-linecap="round" stroke-linejoin="round" stroke-opacity="0.85"/><path d="M2.74,38.26 L-0.42,36.95 L-2.54,35.72" fill="none" stroke="#36d848" stroke-width="0.79" stroke-linecap="round" stroke-linejoin="round" stroke-opacity="0.69"/><path d="M10.21,29.74 L8.32,29.12 L5.27,29.71 L4.02,31.03" fill="none" stroke="#36d848" stroke-width="0.63" stroke-linecap="round" stroke-linejoin="round" stroke-opacity="0.5"/><path d="M15.39,36.3 L14.08,35.47 L13.14,33.58 L11.05,31.17 L9.46,30.66" fill="none" stroke="#36d848" stroke-width="0.85" stroke-linecap="round" stroke-linejoin="round" stroke-opacity="0.66"/><path d="M36.92,3.83 L38.42,4.53 L39.6,5.49 L40.71,8.3 L43.34,10.5" fill="none" stroke="#36d848" stroke-width="1" stroke-linecap="round" stroke-linejoin="round" stroke-opacity="0.7"/><path d="M26.33,55.02 L27.97,53.97 L29.56,51.18" fill="none" stroke="#36d848" stroke-width="0.72" stroke-linecap="round" stroke-linejoin="round" stroke-opacity="0.91"/><path d="M16.87,23.93 L18.42,25.91 L20.7,26.17 L22.26,25.98 L25.3,26.8" fill="none" stroke="#36d848" stroke-width="0.91" stroke-linecap="round" stroke-linejoin="round" stroke-opacity="0.48"/><path d="M42.5,39.13 L44.02,39.21 L46.04,39.01" fill="none" stroke="#36d848" stroke-width="0.99" stroke-linecap="round" stroke-linejoin="round" stroke-opacity="0.91"/><path d="M2.49,14.7 L-0.13,15.61 L-3,14.25" fill="none" stroke="#36d848" stroke-width="0.71" stroke-linecap="round" stroke-linejoin="round" stroke-opacity="0.54"/><path d="M39.22,50.16 L41.13,49.42 L42.91,47.96" fill="none" stroke="#36d848" stroke-width="0.66" stroke-linecap="round" stroke-linejoin="round" stroke-opacity="0.52"/><path d="M31.81,35.26 L29.41,34.89 L27.39,34.9 L24.64,35.75" fill="none" stroke="#36d848" stroke-width="1.02" stroke-linecap="round" stroke-linejoin="round" stroke-opacity="0.6"/><path d="M52.21,30.88 L55.04,31.02 L57.21,33.46 L58.8,34.15 L60.52,33.72" fill="none" stroke="#36d848" stroke-width="0.71" stroke-linecap="round" stroke-linejoin="round" stroke-opacity="0.49"/><path d="M22.29,21.56 L18.96,21.78 L15.86,20.98 L13.01,21.08 L9.97,21.3" fill="none" stroke="#36d848" stroke-width="0.8" stroke-linecap="round" stroke-linejoin="round" stroke-opacity="0.54"/><path d="M23.33,4.5 L20.68,4.8 L18.98,6.6" fill="none" stroke="#36d848" stroke-width="0.61" stroke-linecap="round" stroke-linejoin="round" stroke-opacity="0.63"/><path d="M48.61,3.34 L49.87,4.76 L50.48,6.99" fill="none" stroke="#36d848" stroke-width="0.8" stroke-linecap="round" stroke-linejoin="round" stroke-opacity="0.86"/><path d="M45.55,27.68 L47.91,29.55 L48.17,31.5 L49.74,33.85 L52.24,35.63" fill="none" stroke="#36d848" stroke-width="1" stroke-linecap="round" stroke-linejoin="round" stroke-opacity="0.77"/><path d="M41.78,51.87 L44.1,51.15 L46.21,48.65 L46.32,46.6 L45.96,44.39" fill="none" stroke="#36d848" stroke-width="0.74" stroke-linecap="round" stroke-linejoin="round" stroke-opacity="0.6"/><path d="M47.79,36.21 L46.59,35.21 L44.69,33.11 L44.31,31.23 L42.19,29.81" fill="none" stroke="#36d848" stroke-width="0.75" stroke-linecap="round" stroke-linejoin="round" stroke-opacity="0.96"/><path d="M46.02,21.59 L49.29,21.78 L52.6,22.9 L54,24.07 L55.83,25.76" fill="none" stroke="#36d848" stroke-width="0.7" stroke-linecap="round" stroke-linejoin="round" stroke-opacity="0.59"/><path d="M33.92,1.48 L35.35,2.36 L36.57,5.63" fill="none" stroke="#36d848" stroke-width="0.62" stroke-linecap="round" stroke-linejoin="round" stroke-opacity="0.92"/><path d="M45.78,43.74 L48.5,45.22 L50.41,45.94 L53.02,47.8 L54.23,49.67" fill="none" stroke="#36d848" stroke-width="1.04" stroke-linecap="round" stroke-linejoin="round" stroke-opacity="0.57"/><path d="M44.14,2.62 L42.05,2.84 L40.34,4.04" fill="none" stroke="#36d848" stroke-width="0.92" stroke-linecap="round" stroke-linejoin="round" stroke-opacity="0.98"/><path d="M38.92,30.81 L42.24,29.88 L43.91,28.15 L46.22,27.95 L47.54,28.92" fill="none" stroke="#36d848" stroke-width="0.78" stroke-linecap="round" stroke-linejoin="round" stroke-opacity="0.89"/><path d="M13.34,7.31 L11.96,5.66 L9.47,3.55" fill="none" stroke="#36d848" stroke-width="0.57" stroke-linecap="round" stroke-linejoin="round" stroke-opacity="0.81"/><path d="M39.29,23.79 L36.68,21.89 L34.64,21.08 L31.55,20.08 L30.18,19.41" fill="none" stroke="#36d848" stroke-width="0.96" stroke-linecap="round" stroke-linejoin="round" stroke-opacity="0.68"/><path d="M32.17,37.66 L34.87,39.75 L36.4,42.17" fill="none" stroke="#36d848" stroke-width="1.07" stroke-linecap="round" stroke-linejoin="round" stroke-opacity="0.77"/><path d="M31.5,17.95 L33.65,19.04 L35.42,19.09" fill="none" stroke="#36d848" stroke-width="0.6" stroke-linecap="round" stroke-linejoin="round" stroke-opacity="0.97"/><path d="M26.47,3.75 L28.29,2.73 L30.62,1.85 L32.54,1.69" fill="none" stroke="#36d848" stroke-width="0.73" stroke-linecap="round" stroke-linejoin="round" stroke-opacity="0.91"/><path d="M8.43,6.79 L10.11,7.66 L10.87,9.14 L11.45,11.4" fill="none" stroke="#36d848" stroke-width="1.01" stroke-linecap="round" stroke-linejoin="round" stroke-opacity="0.94"/><path d="M17.04,46.04 L19.24,46.12 L21.77,44.97" fill="none" stroke="#36d848" stroke-width="0.62" stroke-linecap="round" stroke-linejoin="round" stroke-opacity="0.98"/><path d="M44.18,10.12 L46.46,9.15 L48.91,6.79 L49.99,4.24 L50.78,2.02" fill="none" stroke="#36d848" stroke-width="0.56" stroke-linecap="round" stroke-linejoin="round" stroke-opacity="0.63"/><path d="M18.04,21.52 L15.12,22.48 L13.43,23.86 L11.52,25.71 L10.22,28.93" fill="none" stroke="#36d848" stroke-width="0.61" stroke-linecap="round" stroke-linejoin="round" stroke-opacity="0.54"/><path d="M2.26,33.07 L4.86,32.71 L7.92,31.7 L9.88,30.67" fill="none" stroke="#36d848" stroke-width="0.68" stroke-linecap="round" stroke-linejoin="round" stroke-opacity="0.67"/><path d="M8.66,25.22 L11.27,26.61 L13.87,28.29 L16.99,28.82" fill="none" stroke="#36d848" stroke-width="0.55" stroke-linecap="round" stroke-linejoin="round" stroke-opacity="0.72"/><path d="M16.65,54.61 L17.97,56.05 L18.36,59.42 L19.5,60.59 L21.28,62.86" fill="none" stroke="#36d848" stroke-width="0.92" stroke-linecap="round" stroke-linejoin="round" stroke-opacity="0.59"/><path d="M54.95,25.91 L56.91,25.36 L58.23,23.72" fill="none" stroke="#36d848" stroke-width="0.69" stroke-linecap="round" stroke-linejoin="round" stroke-opacity="0.74"/><path d="M4.59,52.55 L7.43,53.86 L9.4,54.94" fill="none" stroke="#36d848" stroke-width="0.7" stroke-linecap="round" stroke-linejoin="round" stroke-opacity="0.66"/><path d="M39.81,39.14 L38.17,37.13 L35.39,35.82 L33.82,36.22 L31.05,36.98" fill="none" stroke="#36d848" stroke-width="0.59" stroke-linecap="round" stroke-linejoin="round" stroke-opacity="0.72"/><path d="M34.36,34.06 L32.51,31.42 L29.66,29.43" fill="none" stroke="#36d848" stroke-width="1.02" stroke-linecap="round" stroke-linejoin="round" stroke-opacity="0.72"/><path d="M12.26,23.52 L13.57,24.9 L14.45,26.52 L15.45,29.87" fill="none" stroke="#36d848" stroke-width="0.99" stroke-linecap="round" stroke-linejoin="round" stroke-opacity="0.77"/><path d="M40.29,6.93 L41.22,8.26 L41.34,10.91" fill="none" stroke="#36d848" stroke-width="0.64" stroke-linecap="round" stroke-linejoin="round" stroke-opacity="0.85"/><path d="M36.08,52.3 L38.61,50.72 L40.23,50.41 L43.25,50.04" fill="none" stroke="#36d848" stroke-width="0.85" stroke-linecap="round" stroke-linejoin="round" stroke-opacity="0.57"/><path d="M36.19,17.93 L38.91,16.5 L42.25,16.93 L44.13,18.89 L44.13,20.91" fill="none" stroke="#36d848" stroke-width="0.96" stroke-linecap="round" stroke-linejoin="round" stroke-opacity="0.93"/><path d="M42.28,0.36 L43.66,-0.57 L44.93,-1.7" fill="none" stroke="#36d848" stroke-width="0.99" stroke-linecap="round" stroke-linejoin="round" stroke-opacity="0.5"/><path d="M7.38,54.26 L5.74,54.45 L2.72,54.15 L0.59,54.83 L-0.43,56.79" fill="none" stroke="#36d848" stroke-width="0.78" stroke-linecap="round" stroke-linejoin="round" stroke-opacity="0.65"/><path d="M10.89,12.38 L9.28,12.88 L7.11,12.29 L4.28,13.67" fill="none" stroke="#36d848" stroke-width="0.98" stroke-linecap="round" stroke-linejoin="round" stroke-opacity="0.95"/><path d="M12.19,7.93 L10.97,6.04 L9.34,3.93 L9.33,1.11" fill="none" stroke="#36d848" stroke-width="0.93" stroke-linecap="round" stroke-linejoin="round" stroke-opacity="0.65"/><path d="M21.79,16.4 L19.29,16 L17.39,16.12" fill="none" stroke="#36d848" stroke-width="0.86" stroke-linecap="round" stroke-linejoin="round" stroke-opacity="0.61"/><path d="M33.36,15.25 L35.57,14.62 L37.53,13.55 L39.53,13.81 L41.58,15.12" fill="none" stroke="#36d848" stroke-width="1.03" stroke-linecap="round" stroke-linejoin="round" stroke-opacity="0.76"/><path d="M34.72,18.3 L32.05,19.96 L30.39,20.6" fill="none" stroke="#36d848" stroke-width="0.6" stroke-linecap="round" stroke-linejoin="round" stroke-opacity="0.76"/><path d="M50.8,22.97 L53.68,24.22 L55.34,26.91 L56.7,27.71 L57.2,29.59" fill="none" stroke="#36d848" stroke-width="1.08" stroke-linecap="round" stroke-linejoin="round" stroke-opacity="0.73"/><path d="M18.52,46.04 L17.08,44.65 L15.77,42.18" fill="none" stroke="#36d848" stroke-width="1.07" stroke-linecap="round" stroke-linejoin="round" stroke-opacity="0.5"/><path d="M3.21,31.5 L1.52,31.25 L-0.48,30.25" fill="none" stroke="#36d848" stroke-width="0.8" stroke-linecap="round" stroke-linejoin="round" stroke-opacity="0.65"/><path d="M42.4,50.66 L44.02,51.9 L44.76,54.43" fill="none" stroke="#36d848" stroke-width="0.92" stroke-linecap="round" stroke-linejoin="round" stroke-opacity="0.55"/><path d="M17.74,55.15 L16.33,53.55 L14.75,53.46" fill="none" stroke="#36d848" stroke-width="0.67" stroke-linecap="round" stroke-linejoin="round" stroke-opacity="0.63"/><path d="M52.93,8.1 L55.53,9.56 L57.91,9.9 L60.89,10.57 L63.55,12.28" fill="none" stroke="#36d848" stroke-width="0.65" stroke-linecap="round" stroke-linejoin="round" stroke-opacity="0.83"/><path d="M5.66,46.29 L4.05,45.19 L1.51,44.36" fill="none" stroke="#36d848" stroke-width="0.7" stroke-linecap="round" stroke-linejoin="round" stroke-opacity="0.63"/><path d="M16.45,32.03 L14.07,30.36 L13.64,28.79 L12,25.95" fill="none" stroke="#36d848" stroke-width="1.03" stroke-linecap="round" stroke-linejoin="round" stroke-opacity="0.79"/><path d="M53.7,26.23 L51.49,25.72 L49.8,24.62 L48.7,22.86 L46.25,21.2" fill="none" stroke="#36d848" stroke-width="0.76" stroke-linecap="round" stroke-linejoin="round" stroke-opacity="0.58"/><ellipse cx="43.3" cy="13.03" rx="0.55" ry="0.41" fill="#36d848" opacity="0.48"/><ellipse cx="41.16" cy="24.45" rx="0.44" ry="0.41" fill="#36d848" opacity="0.91"/><ellipse cx="3.95" cy="27.17" rx="0.66" ry="0.58" fill="#36d848" opacity="0.5"/><ellipse cx="18.68" cy="24.29" rx="0.62" ry="0.85" fill="#36d848" opacity="0.89"/><ellipse cx="3.5" cy="15.25" rx="0.41" ry="0.66" fill="#36d848" opacity="0.75"/><ellipse cx="28.14" cy="4.91" rx="0.56" ry="0.49" fill="#36d848" opacity="0.8"/><ellipse cx="45.15" cy="34.49" rx="0.66" ry="0.85" fill="#36d848" opacity="0.72"/><ellipse cx="11.15" cy="50.34" rx="0.71" ry="0.84" fill="#36d848" opacity="0.57"/><ellipse cx="30.56" cy="35.54" rx="0.67" ry="0.44" fill="#36d848" opacity="0.47"/><ellipse cx="19.87" cy="1.14" rx="0.42" ry="0.74" fill="#36d848" opacity="0.86"/><ellipse cx="41.6" cy="22.37" rx="0.83" ry="0.6" fill="#36d848" opacity="0.39"/><ellipse cx="16.84" cy="49.11" rx="0.84" ry="0.81" fill="#36d848" opacity="0.58"/><ellipse cx="9.59" cy="22.83" rx="0.66" ry="0.57" fill="#36d848" opacity="0.42"/><ellipse cx="6.16" cy="35.58" rx="0.42" ry="0.51" fill="#36d848" opacity="0.49"/><ellipse cx="10.49" cy="9.91" rx="0.81" ry="0.64" fill="#36d848" opacity="0.5"/><ellipse cx="47.22" cy="4.66" rx="0.41" ry="0.53" fill="#36d848" opacity="0.81"/><ellipse cx="40.35" cy="1.73" rx="0.83" ry="0.65" fill="#36d848" opacity="0.6"/><ellipse cx="42.6" cy="9.53" rx="0.65" ry="0.49" fill="#36d848" opacity="0.64"/><ellipse cx="36.54" cy="5.47" rx="0.76" ry="0.64" fill="#36d848" opacity="0.74"/><ellipse cx="31.25" cy="17.59" rx="0.68" ry="0.67" fill="#36d848" opacity="0.67"/><ellipse cx="21.85" cy="1.98" rx="0.52" ry="0.67" fill="#36d848" opacity="0.36"/><ellipse cx="32.32" cy="5.17" rx="0.62" ry="0.69" fill="#36d848" opacity="0.39"/><ellipse cx="9.62" cy="37.19" rx="0.66" ry="0.88" fill="#36d848" opacity="0.36"/><ellipse cx="34.55" cy="14.64" rx="0.65" ry="0.73" fill="#36d848" opacity="0.76"/><ellipse cx="4.47" cy="5.63" rx="0.75" ry="0.89" fill="#36d848" opacity="0.37"/><ellipse cx="24.28" cy="54.69" rx="0.47" ry="0.78" fill="#36d848" opacity="0.56"/><ellipse cx="27.28" cy="14.99" rx="0.7" ry="0.86" fill="#36d848" opacity="0.86"/><ellipse cx="21.53" cy="43.34" rx="0.55" ry="0.61" fill="#36d848" opacity="0.77"/><ellipse cx="3.8" cy="31.63" rx="0.68" ry="0.86" fill="#36d848" opacity="0.73"/><ellipse cx="24.79" cy="19.75" rx="0.51" ry="0.58" fill="#36d848" opacity="0.79"/><ellipse cx="34.79" cy="47.42" rx="0.41" ry="0.57" fill="#36d848" opacity="0.37"/><ellipse cx="47.59" cy="47.14" rx="0.46" ry="0.71" fill="#36d848" opacity="0.78"/><ellipse cx="10.43" cy="39.18" rx="0.7" ry="0.59" fill="#36d848" opacity="0.48"/><ellipse cx="18.6" cy="21.14" rx="0.57" ry="0.62" fill="#36d848" opacity="0.88"/><ellipse cx="51.68" cy="35.41" rx="0.72" ry="0.78" fill="#36d848" opacity="0.86"/><ellipse cx="51.33" cy="41.83" rx="0.78" ry="0.62" fill="#36d848" opacity="0.66"/><ellipse cx="54.35" cy="27.26" rx="0.7" ry="0.86" fill="#36d848" opacity="0.66"/><ellipse cx="54.46" cy="51.59" rx="0.57" ry="0.73" fill="#36d848" opacity="0.84"/><ellipse cx="16.67" cy="29.03" rx="0.68" ry="0.83" fill="#36d848" opacity="0.49"/><ellipse cx="29.77" cy="45.38" rx="0.62" ry="0.51" fill="#36d848" opacity="0.7"/><ellipse cx="46.15" cy="43.8" rx="0.65" ry="0.51" fill="#36d848" opacity="0.94"/><ellipse cx="4.23" cy="28.02" rx="0.76" ry="0.87" fill="#36d848" opacity="0.72"/><ellipse cx="50.43" cy="9.7" rx="0.56" ry="0.86" fill="#36d848" opacity="0.46"/><ellipse cx="1.23" cy="32.2" rx="0.68" ry="0.57" fill="#36d848" opacity="0.77"/><ellipse cx="17.59" cy="37.97" rx="0.44" ry="0.43" fill="#36d848" opacity="0.92"/><ellipse cx="39.53" cy="53.49" rx="0.55" ry="0.57" fill="#36d848" opacity="0.82"/><ellipse cx="49.38" cy="19.32" rx="0.48" ry="0.66" fill="#36d848" opacity="0.91"/><ellipse cx="51.43" cy="0.49" rx="0.42" ry="0.58" fill="#36d848" opacity="0.38"/><ellipse cx="44.25" cy="44.83" rx="0.78" ry="0.83" fill="#36d848" opacity="0.37"/><ellipse cx="25.84" cy="6.32" rx="0.44" ry="0.52" fill="#36d848" opacity="0.8"/><ellipse cx="47.02" cy="54.04" rx="0.62" ry="0.48" fill="#36d848" opacity="0.46"/><ellipse cx="35.84" cy="1.65" rx="0.58" ry="0.74" fill="#36d848" opacity="0.66"/><ellipse cx="44.77" cy="33.59" rx="0.43" ry="0.65" fill="#36d848" opacity="0.41"/><ellipse cx="29.57" cy="50.56" rx="0.73" ry="0.86" fill="#36d848" opacity="0.82"/><ellipse cx="46.13" cy="19.71" rx="0.78" ry="0.67" fill="#36d848" opacity="0.77"/><ellipse cx="44.23" cy="38.69" rx="0.51" ry="0.74" fill="#36d848" opacity="0.57"/><ellipse cx="53.23" cy="22.58" rx="0.77" ry="0.71" fill="#36d848" opacity="0.61"/><ellipse cx="12.88" cy="29.9" rx="0.71" ry="0.82" fill="#36d848" opacity="0.88"/><ellipse cx="38.61" cy="45.78" rx="0.68" ry="0.77" fill="#36d848" opacity="0.87"/><ellipse cx="27.81" cy="28.18" rx="0.6" ry="0.82" fill="#36d848" opacity="0.8"/><ellipse cx="46.38" cy="44.96" rx="0.69" ry="0.45" fill="#36d848" opacity="0.42"/><ellipse cx="4.76" cy="36.58" rx="0.58" ry="0.43" fill="#36d848" opacity="0.91"/><ellipse cx="54.35" cy="48.28" rx="0.45" ry="0.46" fill="#36d848" opacity="0.6"/><ellipse cx="21.07" cy="7.35" rx="0.61" ry="0.56" fill="#36d848" opacity="0.39"/><ellipse cx="9.32" cy="33.71" rx="0.82" ry="0.45" fill="#36d848" opacity="0.61"/><ellipse cx="30.22" cy="16.41" rx="0.47" ry="0.86" fill="#36d848" opacity="0.47"/><ellipse cx="33.85" cy="35.9" rx="0.72" ry="0.89" fill="#36d848" opacity="0.44"/><ellipse cx="30.64" cy="21.75" rx="0.68" ry="0.49" fill="#36d848" opacity="0.91"/><ellipse cx="8.25" cy="19.97" rx="0.66" ry="0.62" fill="#36d848" opacity="0.91"/><ellipse cx="34.85" cy="9.71" rx="0.73" ry="0.42" fill="#36d848" opacity="0.73"/><ellipse cx="45.38" cy="6.38" rx="0.43" ry="0.49" fill="#36d848" opacity="0.61"/><ellipse cx="27.82" cy="14.02" rx="0.76" ry="0.84" fill="#36d848" opacity="0.78"/><ellipse cx="38.97" cy="27.98" rx="0.87" ry="0.42" fill="#36d848" opacity="0.54"/><ellipse cx="37.44" cy="29.05" rx="0.64" ry="0.66" fill="#36d848" opacity="0.9"/><ellipse cx="13.44" cy="40.33" rx="0.5" ry="0.76" fill="#36d848" opacity="0.38"/><ellipse cx="29.31" cy="29.74" rx="0.6" ry="0.61" fill="#36d848" opacity="0.43"/><ellipse cx="27.51" cy="40.72" rx="0.69" ry="0.5" fill="#36d848" opacity="0.42"/><ellipse cx="6.2" cy="47.37" rx="0.59" ry="0.41" fill="#36d848" opacity="0.35"/><ellipse cx="19.52" cy="25.79" rx="0.53" ry="0.87" fill="#36d848" opacity="0.66"/><ellipse cx="51.98" cy="39.69" rx="0.67" ry="0.43" fill="#36d848" opacity="0.74"/><ellipse cx="45.7" cy="8.79" rx="0.5" ry="0.77" fill="#36d848" opacity="0.48"/><ellipse cx="26.25" cy="39.01" rx="0.81" ry="0.56" fill="#36d848" opacity="0.75"/><ellipse cx="35.66" cy="44.42" rx="0.62" ry="0.81" fill="#36d848" opacity="0.59"/><ellipse cx="33.17" cy="9.51" rx="0.65" ry="0.75" fill="#36d848" opacity="0.87"/><ellipse cx="35.5" cy="43.63" rx="0.66" ry="0.45" fill="#36d848" opacity="0.53"/><ellipse cx="19.3" cy="17.71" rx="0.8" ry="0.73" fill="#36d848" opacity="0.52"/><ellipse cx="44.64" cy="40.03" rx="0.59" ry="0.56" fill="#36d848" opacity="0.48"/><ellipse cx="14.3" cy="41.42" rx="0.43" ry="0.42" fill="#36d848" opacity="0.59"/><ellipse cx="29.57" cy="46.15" rx="0.68" ry="0.48" fill="#36d848" opacity="0.39"/><ellipse cx="22.74" cy="44.63" rx="0.72" ry="0.54" fill="#36d848" opacity="0.73"/><ellipse cx="45.54" cy="53.39" rx="0.44" ry="0.43" fill="#36d848" opacity="0.46"/><ellipse cx="20.3" cy="3.66" rx="0.58" ry="0.56" fill="#36d848" opacity="0.39"/><ellipse cx="35.08" cy="28.83" rx="0.57" ry="0.78" fill="#36d848" opacity="0.79"/><ellipse cx="24.58" cy="24.72" rx="0.69" ry="0.85" fill="#36d848" opacity="0.56"/><ellipse cx="39.4" cy="5.86" rx="0.72" ry="0.85" fill="#36d848" opacity="0.64"/><ellipse cx="45.87" cy="8.72" rx="0.74" ry="0.79" fill="#36d848" opacity="0.56"/><ellipse cx="15.28" cy="25.88" rx="0.57" ry="0.84" fill="#36d848" opacity="0.65"/><ellipse cx="21.63" cy="45.2" rx="0.49" ry="0.75" fill="#36d848" opacity="0.61"/><ellipse cx="39.19" cy="33.26" rx="0.8" ry="0.45" fill="#36d848" opacity="0.55"/><ellipse cx="2.95" cy="23.13" rx="0.53" ry="0.85" fill="#36d848" opacity="0.42"/><ellipse cx="42.51" cy="35.24" rx="0.5" ry="0.82" fill="#36d848" opacity="0.68"/><ellipse cx="16.05" cy="2.52" rx="0.49" ry="0.76" fill="#36d848" opacity="0.67"/><ellipse cx="20.49" cy="46.47" rx="0.45" ry="0.57" fill="#36d848" opacity="0.71"/><ellipse cx="17.64" cy="20.34" rx="0.46" ry="0.5" fill="#36d848" opacity="0.48"/><ellipse cx="33.58" cy="19.23" rx="0.41" ry="0.58" fill="#36d848" opacity="0.36"/><ellipse cx="52.45" cy="51.71" rx="0.49" ry="0.84" fill="#36d848" opacity="0.36"/><ellipse cx="37.99" cy="41.09" rx="0.7" ry="0.69" fill="#36d848" opacity="0.47"/><ellipse cx="39.51" cy="38.61" rx="0.56" ry="0.68" fill="#36d848" opacity="0.77"/><ellipse cx="42.72" cy="45.67" rx="0.77" ry="0.73" fill="#36d848" opacity="0.93"/><ellipse cx="16.47" cy="20.65" rx="0.71" ry="0.84" fill="#36d848" opacity="0.77"/><ellipse cx="33.39" cy="12.49" rx="0.71" ry="0.6" fill="#36d848" opacity="0.57"/><ellipse cx="21.26" cy="44.36" rx="0.61" ry="0.68" fill="#36d848" opacity="0.92"/><ellipse cx="24.62" cy="52.23" rx="0.69" ry="0.7" fill="#36d848" opacity="0.52"/><ellipse cx="30.34" cy="13.76" rx="0.51" ry="0.48" fill="#36d848" opacity="0.5"/><ellipse cx="12.16" cy="15.37" rx="0.81" ry="0.89" fill="#36d848" opacity="0.91"/><ellipse cx="13.27" cy="20.33" rx="0.77" ry="0.69" fill="#36d848" opacity="0.93"/><ellipse cx="48.56" cy="10.24" rx="0.84" ry="0.44" fill="#36d848" opacity="0.77"/><ellipse cx="18.15" cy="8.08" rx="0.74" ry="0.62" fill="#36d848" opacity="0.5"/><ellipse cx="48.16" cy="18.73" rx="0.84" ry="0.71" fill="#36d848" opacity="0.55"/><ellipse cx="25.43" cy="15.91" rx="0.84" ry="0.56" fill="#36d848" opacity="0.36"/><ellipse cx="49.8" cy="50.64" rx="0.52" ry="0.42" fill="#36d848" opacity="0.53"/><ellipse cx="29.9" cy="39.73" rx="0.5" ry="0.84" fill="#36d848" opacity="0.49"/><ellipse cx="30.18" cy="1.82" rx="0.45" ry="0.43" fill="#36d848" opacity="0.47"/><ellipse cx="47.68" cy="33.67" rx="0.43" ry="0.46" fill="#36d848" opacity="0.7"/><ellipse cx="23.26" cy="28.06" rx="0.51" ry="0.46" fill="#36d848" opacity="0.37"/><ellipse cx="35.94" cy="33.99" rx="0.84" ry="0.7" fill="#36d848" opacity="0.93"/><ellipse cx="5.65" cy="42.32" rx="0.69" ry="0.75" fill="#36d848" opacity="0.36"/><ellipse cx="17.87" cy="41.21" rx="0.67" ry="0.69" fill="#36d848" opacity="0.76"/><ellipse cx="32.27" cy="36.47" rx="0.82" ry="0.45" fill="#36d848" opacity="0.74"/><ellipse cx="35.8" cy="19.25" rx="0.74" ry="0.89" fill="#36d848" opacity="0.9"/><ellipse cx="19.28" cy="27.71" rx="0.89" ry="0.64" fill="#36d848" opacity="0.78"/><ellipse cx="22" cy="35.81" rx="0.47" ry="0.85" fill="#36d848" opacity="0.37"/><ellipse cx="0.62" cy="29.67" rx="0.55" ry="0.89" fill="#36d848" opacity="0.93"/><ellipse cx="41.12" cy="39.67" rx="0.56" ry="0.74" fill="#36d848" opacity="0.79"/><ellipse cx="8.64" cy="49.45" rx="0.71" ry="0.42" fill="#36d848" opacity="0.71"/><ellipse cx="12.7" cy="28.17" rx="0.78" ry="0.6" fill="#36d848" opacity="0.5"/><ellipse cx="51.84" cy="31.21" rx="0.73" ry="0.72" fill="#36d848" opacity="0.41"/><ellipse cx="28.89" cy="10.77" rx="0.7" ry="0.73" fill="#36d848" opacity="0.4"/><ellipse cx="49.8" cy="46.96" rx="0.82" ry="0.59" fill="#36d848" opacity="0.81"/><ellipse cx="13.53" cy="43.62" rx="0.83" ry="0.56" fill="#36d848" opacity="0.84"/><ellipse cx="48.38" cy="36.87" rx="0.81" ry="0.83" fill="#36d848" opacity="0.91"/><ellipse cx="37.47" cy="6.18" rx="0.6" ry="0.75" fill="#36d848" opacity="0.6"/><ellipse cx="53.09" cy="17.51" rx="0.59" ry="0.76" fill="#36d848" opacity="0.74"/><ellipse cx="51.87" cy="42.67" rx="0.5" ry="0.72" fill="#36d848" opacity="0.93"/><ellipse cx="28.71" cy="14.24" rx="0.75" ry="0.83" fill="#36d848" opacity="0.54"/><ellipse cx="12.56" cy="50.87" rx="0.68" ry="0.51" fill="#36d848" opacity="0.89"/><ellipse cx="20.22" cy="43.63" rx="0.51" ry="0.47" fill="#36d848" opacity="0.6"/><ellipse cx="46.78" cy="12.31" rx="0.69" ry="0.82" fill="#36d848" opacity="0.38"/><ellipse cx="1.46" cy="6.48" rx="0.63" ry="0.72" fill="#36d848" opacity="0.82"/><ellipse cx="55.19" cy="54.37" rx="0.49" ry="0.54" fill="#36d848" opacity="0.7"/><ellipse cx="43.78" cy="39.94" rx="0.58" ry="0.52" fill="#36d848" opacity="0.55"/><ellipse cx="5.64" cy="0.54" rx="0.73" ry="0.86" fill="#36d848" opacity="0.77"/><ellipse cx="1.31" cy="41.27" rx="0.7" ry="0.84" fill="#36d848" opacity="0.51"/><ellipse cx="35.81" cy="0.65" rx="0.85" ry="0.57" fill="#36d848" opacity="0.61"/><ellipse cx="12" cy="32.67" rx="0.81" ry="0.51" fill="#36d848" opacity="0.88"/><ellipse cx="24.4" cy="13.53" rx="0.55" ry="0.8" fill="#36d848" opacity="0.66"/><ellipse cx="47.14" cy="10.68" rx="0.5" ry="0.59" fill="#36d848" opacity="0.57"/><ellipse cx="54.02" cy="16.17" rx="0.7" ry="0.64" fill="#36d848" opacity="0.62"/><ellipse cx="50.93" cy="1.23" rx="0.59" ry="0.57" fill="#36d848" opacity="0.58"/><ellipse cx="42.27" cy="0.59" rx="0.64" ry="0.46" fill="#36d848" opacity="0.55"/><ellipse cx="29.18" cy="50.53" rx="0.84" ry="0.85" fill="#36d848" opacity="0.5"/><ellipse cx="44.63" cy="53.64" rx="0.44" ry="0.43" fill="#36d848" opacity="0.54"/><ellipse cx="24.41" cy="9.58" rx="0.61" ry="0.73" fill="#36d848" opacity="0.85"/><ellipse cx="50.83" cy="1.71" rx="0.57" ry="0.52" fill="#36d848" opacity="0.44"/><ellipse cx="42.74" cy="15.66" rx="0.5" ry="0.64" fill="#36d848" opacity="0.48"/><ellipse cx="11.53" cy="13.22" rx="0.77" ry="0.5" fill="#36d848" opacity="0.89"/><ellipse cx="18.09" cy="43.34" rx="0.72" ry="0.5" fill="#36d848" opacity="0.42"/><ellipse cx="48.26" cy="46.07" rx="0.45" ry="0.85" fill="#36d848" opacity="0.62"/><ellipse cx="50.73" cy="41.71" rx="0.42" ry="0.52" fill="#36d848" opacity="0.64"/><ellipse cx="48.93" cy="45.57" rx="0.5" ry="0.83" fill="#36d848" opacity="0.41"/><ellipse cx="32.15" cy="8.9" rx="0.44" ry="0.68" fill="#36d848" opacity="0.81"/><ellipse cx="33.32" cy="6.81" rx="0.44" ry="0.48" fill="#36d848" opacity="0.42"/><ellipse cx="1.06" cy="30.02" rx="0.62" ry="0.84" fill="#36d848" opacity="0.74"/><ellipse cx="35.96" cy="22.42" rx="0.54" ry="0.58" fill="#36d848" opacity="0.84"/><ellipse cx="23.65" cy="26.27" rx="0.49" ry="0.85" fill="#36d848" opacity="0.47"/><ellipse cx="7.65" cy="37.54" rx="0.54" ry="0.88" fill="#36d848" opacity="0.43"/><ellipse cx="50.25" cy="25.33" rx="0.43" ry="0.42" fill="#36d848" opacity="0.95"/><ellipse cx="11.07" cy="41.27" rx="0.66" ry="0.7" fill="#36d848" opacity="0.47"/><ellipse cx="12.32" cy="10.09" rx="0.87" ry="0.52" fill="#36d848" opacity="0.79"/><ellipse cx="19.32" cy="17.89" rx="0.68" ry="0.42" fill="#36d848" opacity="0.63"/><ellipse cx="21.29" cy="9.81" rx="0.69" ry="0.75" fill="#36d848" opacity="0.67"/><ellipse cx="54.51" cy="6.28" rx="0.61" ry="0.41" fill="#36d848" opacity="0.7"/><ellipse cx="24.64" cy="47.92" rx="0.83" ry="0.7" fill="#36d848" opacity="0.87"/><ellipse cx="52.67" cy="33.89" rx="0.76" ry="0.57" fill="#36d848" opacity="0.71"/><ellipse cx="36.9" cy="22.28" rx="0.74" ry="0.52" fill="#36d848" opacity="0.61"/><ellipse cx="18.46" cy="32.51" rx="0.79" ry="0.48" fill="#36d848" opacity="0.95"/><ellipse cx="43.79" cy="20.62" rx="0.85" ry="0.47" fill="#36d848" opacity="0.43"/><ellipse cx="14.19" cy="52.48" rx="0.73" ry="0.51" fill="#36d848" opacity="0.62"/><ellipse cx="7.51" cy="19.49" rx="0.56" ry="0.53" fill="#36d848" opacity="0.82"/><ellipse cx="14.81" cy="42.88" rx="0.77" ry="0.75" fill="#36d848" opacity="0.56"/><ellipse cx="11.78" cy="16.45" rx="0.66" ry="0.75" fill="#36d848" opacity="0.79"/><ellipse cx="18.95" cy="44.11" rx="0.8" ry="0.69" fill="#36d848" opacity="0.58"/><ellipse cx="11.93" cy="33.01" rx="0.64" ry="0.84" fill="#36d848" opacity="0.94"/><ellipse cx="48.7" cy="6.26" rx="0.66" ry="0.58" fill="#36d848" opacity="0.36"/><ellipse cx="41.03" cy="15.6" rx="0.64" ry="0.47" fill="#36d848" opacity="0.55"/><ellipse cx="17.15" cy="7.11" rx="0.89" ry="0.54" fill="#36d848" opacity="0.95"/><ellipse cx="54.51" cy="2.58" rx="0.62" ry="0.66" fill="#36d848" opacity="0.72"/><ellipse cx="8.24" cy="41.31" rx="0.64" ry="0.65" fill="#36d848" opacity="0.93"/><ellipse cx="0.92" cy="41.06" rx="0.8" ry="0.87" fill="#36d848" opacity="0.72"/><ellipse cx="37.82" cy="32.7" rx="0.54" ry="0.89" fill="#36d848" opacity="0.7"/><ellipse cx="35.16" cy="50.21" rx="0.86" ry="0.48" fill="#36d848" opacity="0.46"/><ellipse cx="6.67" cy="35.34" rx="0.68" ry="0.44" fill="#36d848" opacity="0.52"/><ellipse cx="25.57" cy="11.73" rx="0.67" ry="0.44" fill="#36d848" opacity="0.72"/><ellipse cx="16.24" cy="51.77" rx="0.48" ry="0.55" fill="#36d848" opacity="0.59"/><ellipse cx="36.75" cy="13.29" rx="0.78" ry="0.71" fill="#36d848" opacity="0.7"/><ellipse cx="11.57" cy="31.82" rx="0.41" ry="0.8" fill="#36d848" opacity="0.55"/><ellipse cx="52.71" cy="33.16" rx="0.55" ry="0.62" fill="#36d848" opacity="0.77"/><ellipse cx="7.69" cy="45.47" rx="0.83" ry="0.63" fill="#36d848" opacity="0.37"/><ellipse cx="23.11" cy="26.3" rx="0.57" ry="0.77" fill="#36d848" opacity="0.51"/><ellipse cx="12.21" cy="35.06" rx="0.74" ry="0.69" fill="#36d848" opacity="0.63"/><ellipse cx="5.09" cy="33.23" rx="0.79" ry="0.41" fill="#36d848" opacity="0.65"/><ellipse cx="22.75" cy="42.51" rx="0.77" ry="0.87" fill="#36d848" opacity="0.91"/><ellipse cx="9.17" cy="3.93" rx="0.44" ry="0.64" fill="#36d848" opacity="0.86"/><ellipse cx="51.81" cy="3.91" rx="0.64" ry="0.76" fill="#36d848" opacity="0.8"/><ellipse cx="20.05" cy="39.07" rx="0.49" ry="0.74" fill="#36d848" opacity="0.94"/><ellipse cx="8.35" cy="14.3" rx="0.71" ry="0.86" fill="#36d848" opacity="0.93"/><ellipse cx="13.78" cy="28.73" rx="0.88" ry="0.52" fill="#36d848" opacity="0.68"/><ellipse cx="18.48" cy="50.6" rx="0.83" ry="0.51" fill="#36d848" opacity="0.49"/><ellipse cx="51.86" cy="33.36" rx="0.61" ry="0.41" fill="#36d848" opacity="0.93"/><ellipse cx="15.44" cy="49.11" rx="0.44" ry="0.41" fill="#36d848" opacity="0.64"/></g>
<g id="e_dapi3"><path d="M16,0 L30,0 L32,16 L40,27 L56,34 L56,56 L10,56 L12,40 L15,24 Z" fill="#4a42c8" opacity="0.68"/><ellipse cx="35" cy="7" rx="1.8" ry="1.8" fill="#6258e0" opacity="0.6"/><ellipse cx="38" cy="13" rx="1.8" ry="1.8" fill="#6258e0" opacity="0.6"/><ellipse cx="13" cy="26" rx="2" ry="2" fill="#6258e0" opacity="0.6"/><ellipse cx="3" cy="45" rx="2" ry="2" fill="#6258e0" opacity="0.35"/><path d="M49.89,53.88 L47.06,56.47 L45.17,59.48 L43.63,61.6" fill="none" stroke="#6258e0" stroke-width="1.95" stroke-linecap="round" stroke-linejoin="round" stroke-opacity="0.4"/><path d="M53.73,42.85 L55.2,40.07 L55.23,37.74 L55.93,35.31 L57.33,33.86" fill="none" stroke="#6258e0" stroke-width="2.21" stroke-linecap="round" stroke-linejoin="round" stroke-opacity="0.48"/><path d="M30.41,36.93 L28.57,37.95 L25.66,38.92" fill="none" stroke="#6258e0" stroke-width="2.35" stroke-linecap="round" stroke-linejoin="round" stroke-opacity="0.51"/><path d="M28.49,20.16 L30.57,18.53 L33.07,17.45" fill="none" stroke="#6258e0" stroke-width="2.25" stroke-linecap="round" stroke-linejoin="round" stroke-opacity="0.45"/><path d="M37.32,18.1 L34.65,19.97 L31.72,22.47 L29.27,23.72 L27.24,25.26" fill="none" stroke="#6258e0" stroke-width="1.81" stroke-linecap="round" stroke-linejoin="round" stroke-opacity="0.58"/><path d="M19.18,0.34 L20.94,-0.82 L22.66,-2.19 L25.61,-4.77" fill="none" stroke="#6258e0" stroke-width="1.67" stroke-linecap="round" stroke-linejoin="round" stroke-opacity="0.53"/><path d="M45.21,22.96 L46.99,20.56 L50.13,19.1 L53.33,19.24 L55.94,19.51" fill="none" stroke="#6258e0" stroke-width="1.54" stroke-linecap="round" stroke-linejoin="round" stroke-opacity="0.58"/><path d="M37.83,13.74 L35.05,15.58 L31.65,15.97 L29.13,15.44 L27.03,15.69" fill="none" stroke="#6258e0" stroke-width="2.08" stroke-linecap="round" stroke-linejoin="round" stroke-opacity="0.51"/><path d="M40.63,43.14 L39.38,45.47 L38.78,47.44 L38.48,50.68" fill="none" stroke="#6258e0" stroke-width="1.53" stroke-linecap="round" stroke-linejoin="round" stroke-opacity="0.34"/><path d="M20.31,21.12 L21.33,17.54 L20.64,13.7" fill="none" stroke="#6258e0" stroke-width="2.15" stroke-linecap="round" stroke-linejoin="round" stroke-opacity="0.47"/><path d="M38.68,53.21 L37.64,56.82 L36.57,59.8" fill="none" stroke="#6258e0" stroke-width="1.94" stroke-linecap="round" stroke-linejoin="round" stroke-opacity="0.43"/><path d="M51.8,23.35 L51.29,26.93 L51.38,29.46" fill="none" stroke="#6258e0" stroke-width="1.87" stroke-linecap="round" stroke-linejoin="round" stroke-opacity="0.4"/><path d="M34.36,31.22 L33.08,34.05 L30.95,36.61 L29.71,38.36 L27.12,39.74" fill="none" stroke="#6258e0" stroke-width="1.69" stroke-linecap="round" stroke-linejoin="round" stroke-opacity="0.51"/><path d="M37.67,49.03 L34.89,50.62 L31.72,50.88" fill="none" stroke="#6258e0" stroke-width="2.46" stroke-linecap="round" stroke-linejoin="round" stroke-opacity="0.53"/><path d="M45.4,46.86 L46.46,43.24 L46.53,40.91 L47.71,37.53 L50.25,34.99" fill="none" stroke="#6258e0" stroke-width="2.25" stroke-linecap="round" stroke-linejoin="round" stroke-opacity="0.58"/><path d="M50.65,36.38 L50.21,40.25 L49.04,43.95 L48.15,45.74" fill="none" stroke="#6258e0" stroke-width="1.55" stroke-linecap="round" stroke-linejoin="round" stroke-opacity="0.55"/><path d="M15.96,15.71 L17.28,12.92 L17.31,10.73" fill="none" stroke="#6258e0" stroke-width="1.54" stroke-linecap="round" stroke-linejoin="round" stroke-opacity="0.42"/><path d="M47.88,3.57 L46.98,5.63 L44.41,7.71 L42.14,8.76" fill="none" stroke="#6258e0" stroke-width="2.46" stroke-linecap="round" stroke-linejoin="round" stroke-opacity="0.48"/><path d="M55.72,38.4 L56.62,34.77 L58.39,31.86 L60.46,29.61 L62.53,27.78" fill="none" stroke="#6258e0" stroke-width="1.42" stroke-linecap="round" stroke-linejoin="round" stroke-opacity="0.42"/><path d="M47.22,47.15 L45.09,50.48 L43.1,51.67" fill="none" stroke="#6258e0" stroke-width="2.46" stroke-linecap="round" stroke-linejoin="round" stroke-opacity="0.57"/><path d="M42.12,16.13 L45.08,14.23 L46.75,12.74 L49.25,11.69" fill="none" stroke="#6258e0" stroke-width="2.04" stroke-linecap="round" stroke-linejoin="round" stroke-opacity="0.4"/><path d="M44.5,24.81 L46.54,21.79 L47.25,17.86" fill="none" stroke="#6258e0" stroke-width="1.79" stroke-linecap="round" stroke-linejoin="round" stroke-opacity="0.47"/><g opacity="0.38"><ellipse cx="23.8" cy="12.52" rx="2.4" ry="1.75" fill="#6258e0" transform="rotate(90.03600053157913 23.8 12.52)"/><ellipse cx="24" cy="12.84" rx="0.85" ry="0.98" fill="#6258e0" transform="rotate(80.18566774387368 24 12.84)"/><ellipse cx="24.73" cy="12.27" rx="1.95" ry="2.39" fill="#6258e0" transform="rotate(123.97264801485697 24.73 12.27)"/></g><g opacity="0.38"><ellipse cx="38.22" cy="3.57" rx="1.61" ry="0.95" fill="#6258e0" transform="rotate(100.07526806019015 38.22 3.57)"/><ellipse cx="37.77" cy="4.66" rx="1.57" ry="0.88" fill="#6258e0" transform="rotate(3.4201847998150336 37.77 4.66)"/><ellipse cx="37.74" cy="4.47" rx="0.95" ry="1.26" fill="#6258e0" transform="rotate(100.96086095915979 37.74 4.47)"/></g><g opacity="0.52"><ellipse cx="17.66" cy="26.79" rx="1.64" ry="1.14" fill="#6258e0" transform="rotate(78.88818007308774 17.66 26.79)"/><ellipse cx="16.14" cy="26.13" rx="1.46" ry="2.06" fill="#6258e0" transform="rotate(14.469381839583557 16.14 26.13)"/><ellipse cx="16.4" cy="26.92" rx="1.68" ry="1.17" fill="#6258e0" transform="rotate(19.540221064403674 16.4 26.92)"/></g><g opacity="0.54"><ellipse cx="23.7" cy="48.06" rx="1.03" ry="1.28" fill="#6258e0" transform="rotate(57.098903822854496 23.7 48.06)"/><ellipse cx="24.05" cy="49.48" rx="1.04" ry="1.11" fill="#6258e0" transform="rotate(107.97509915568148 24.05 49.48)"/><ellipse cx="24.38" cy="48.77" rx="1.94" ry="1.23" fill="#6258e0" transform="rotate(166.0974007515564 24.38 48.77)"/></g><g opacity="0.57"><ellipse cx="19.37" cy="11.63" rx="1.71" ry="1.71" fill="#6258e0" transform="rotate(17.412207444653415 19.37 11.63)"/><ellipse cx="19.73" cy="12.47" rx="1.43" ry="1.99" fill="#6258e0" transform="rotate(105.41194308155332 19.73 12.47)"/><ellipse cx="19" cy="12.46" rx="0.87" ry="1.35" fill="#6258e0" transform="rotate(126.56770377242698 19 12.46)"/></g><g opacity="0.53"><ellipse cx="52.3" cy="31.55" rx="1.02" ry="1.22" fill="#6258e0" transform="rotate(77.17099241024687 52.3 31.55)"/><ellipse cx="53.39" cy="33.14" rx="1.74" ry="1.39" fill="#6258e0" transform="rotate(63.04427723413032 53.39 33.14)"/><ellipse cx="52.18" cy="32.09" rx="1.66" ry="1.21" fill="#6258e0" transform="rotate(41.82348960769849 52.18 32.09)"/></g><g opacity="0.57"><ellipse cx="20.67" cy="6.08" rx="1.41" ry="2.34" fill="#6258e0" transform="rotate(77.04145134327109 20.67 6.08)"/><ellipse cx="20.08" cy="4.62" rx="1.33" ry="1.01" fill="#6258e0" transform="rotate(107.32924900111618 20.08 4.62)"/><ellipse cx="21.46" cy="6" rx="1.41" ry="1.22" fill="#6258e0" transform="rotate(106.84888460960944 21.46 6)"/></g><g opacity="0.58"><ellipse cx="52.95" cy="32.74" rx="2.04" ry="1.95" fill="#6258e0" transform="rotate(110.62702443663304 52.95 32.74)"/><ellipse cx="51.75" cy="32.73" rx="1.62" ry="1.5" fill="#6258e0" transform="rotate(59.20702379911653 51.75 32.73)"/><ellipse cx="52.32" cy="32.99" rx="2.5" ry="2.11" fill="#6258e0" transform="rotate(48.06025186709972 52.32 32.99)"/></g><g opacity="0.45"><ellipse cx="55.16" cy="16.69" rx="1.37" ry="1.78" fill="#6258e0" transform="rotate(145.63084847877198 55.16 16.69)"/><ellipse cx="56.35" cy="17.15" rx="0.8" ry="0.93" fill="#6258e0" transform="rotate(106.55666168569304 56.35 17.15)"/><ellipse cx="55.67" cy="17.14" rx="1.79" ry="2.25" fill="#6258e0" transform="rotate(140.7707298454297 55.67 17.14)"/></g><g opacity="0.62"><ellipse cx="55.81" cy="54.89" rx="1.04" ry="1.93" fill="#6258e0" transform="rotate(147.67484394788963 55.81 54.89)"/><ellipse cx="55.77" cy="55.17" rx="1.48" ry="1.03" fill="#6258e0" transform="rotate(94.9573376100812 55.77 55.17)"/><ellipse cx="55.4" cy="55.24" rx="1.39" ry="1.28" fill="#6258e0" transform="rotate(136.34160660522537 55.4 55.24)"/></g><g opacity="0.55"><ellipse cx="33.27" cy="15.26" rx="1.6" ry="0.98" fill="#6258e0" transform="rotate(105.06448627266843 33.27 15.26)"/><ellipse cx="34.63" cy="15.98" rx="1.2" ry="1.6" fill="#6258e0" transform="rotate(56.451747997272875 34.63 15.98)"/><ellipse cx="33.77" cy="15.47" rx="0.98" ry="1.18" fill="#6258e0" transform="rotate(156.76896518731243 33.77 15.47)"/></g><g opacity="0.49"><ellipse cx="28.57" cy="21.75" rx="1.5" ry="1.56" fill="#6258e0" transform="rotate(159.50992936532037 28.57 21.75)"/><ellipse cx="27.57" cy="21.65" rx="0.91" ry="0.96" fill="#6258e0" transform="rotate(150.96059775555074 27.57 21.65)"/><ellipse cx="26.95" cy="22.56" rx="1.89" ry="1.82" fill="#6258e0" transform="rotate(144.79380454874314 26.95 22.56)"/></g><g opacity="0.4"><ellipse cx="32.61" cy="15.28" rx="2.31" ry="1.57" fill="#6258e0" transform="rotate(164.98932672465784 32.61 15.28)"/><ellipse cx="31.87" cy="15.38" rx="1.08" ry="1.67" fill="#6258e0" transform="rotate(67.12512313089837 31.87 15.38)"/><ellipse cx="32.12" cy="14.9" rx="2.01" ry="2.32" fill="#6258e0" transform="rotate(156.33204470364473 32.12 14.9)"/></g><g opacity="0.5"><ellipse cx="52.66" cy="20.92" rx="1.27" ry="1.65" fill="#6258e0" transform="rotate(75.22381780488901 52.66 20.92)"/><ellipse cx="53.85" cy="22.06" rx="1.34" ry="1.39" fill="#6258e0" transform="rotate(158.48374743397733 53.85 22.06)"/><ellipse cx="53.6" cy="22.28" rx="1.82" ry="1.5" fill="#6258e0" transform="rotate(105.30075383581774 53.6 22.28)"/></g><g opacity="0.53"><ellipse cx="14.79" cy="8.26" rx="1.19" ry="2.31" fill="#6258e0" transform="rotate(119.5063546166898 14.79 8.26)"/><ellipse cx="14.34" cy="8.22" rx="1.28" ry="1.36" fill="#6258e0" transform="rotate(106.0691001103589 14.34 8.22)"/><ellipse cx="13.34" cy="8.19" rx="1.59" ry="1.85" fill="#6258e0" transform="rotate(123.20385747911887 13.34 8.19)"/></g><g opacity="0.58"><ellipse cx="27.38" cy="2.34" rx="0.95" ry="1.12" fill="#6258e0" transform="rotate(39.032215972259564 27.38 2.34)"/><ellipse cx="26.17" cy="1.47" rx="1.49" ry="1.73" fill="#6258e0" transform="rotate(18.02908843633316 26.17 1.47)"/><ellipse cx="27.68" cy="0.66" rx="2.58" ry="1.49" fill="#6258e0" transform="rotate(149.8425115534867 27.68 0.66)"/></g><g opacity="0.37"><ellipse cx="39.25" cy="41.69" rx="2.07" ry="1.29" fill="#6258e0" transform="rotate(26.54030858202668 39.25 41.69)"/><ellipse cx="39.82" cy="41.25" rx="1.3" ry="2.04" fill="#6258e0" transform="rotate(91.8933612762682 39.82 41.25)"/><ellipse cx="40.8" cy="41.9" rx="1.99" ry="1.91" fill="#6258e0" transform="rotate(163.53273498865934 40.8 41.9)"/></g><g opacity="0.5"><ellipse cx="41.76" cy="46.27" rx="1.29" ry="1.42" fill="#6258e0" transform="rotate(116.18672094334052 41.76 46.27)"/><ellipse cx="42.77" cy="46.14" rx="1.67" ry="1.73" fill="#6258e0" transform="rotate(121.7486052103883 42.77 46.14)"/><ellipse cx="43.33" cy="45.97" rx="1.4" ry="1.11" fill="#6258e0" transform="rotate(171.34698680438504 43.33 45.97)"/></g><g opacity="0.42"><ellipse cx="13.53" cy="21.55" rx="2.44" ry="1.67" fill="#6258e0" transform="rotate(20.5530572320677 13.53 21.55)"/><ellipse cx="14.16" cy="20.24" rx="1.77" ry="1.69" fill="#6258e0" transform="rotate(35.254498853331526 14.16 20.24)"/><ellipse cx="13.71" cy="20.52" rx="2.47" ry="2.22" fill="#6258e0" transform="rotate(41.68771165088422 13.71 20.52)"/></g><g opacity="0.69"><ellipse cx="50.96" cy="13.05" rx="1.38" ry="2.02" fill="#6258e0" transform="rotate(8.36520594957312 50.96 13.05)"/><ellipse cx="51.72" cy="13.37" rx="1.44" ry="1.12" fill="#6258e0" transform="rotate(123.18442524742217 51.72 13.37)"/><ellipse cx="51.84" cy="14.02" rx="1.77" ry="1.69" fill="#6258e0" transform="rotate(119.16136658788825 51.84 14.02)"/></g><g opacity="0.48"><ellipse cx="35.04" cy="27.86" rx="1.47" ry="1.06" fill="#6258e0" transform="rotate(2.4871964798505353 35.04 27.86)"/><ellipse cx="35.25" cy="28.87" rx="2.03" ry="1.99" fill="#6258e0" transform="rotate(6.053419638954032 35.25 28.87)"/><ellipse cx="36.38" cy="28.01" rx="0.93" ry="0.9" fill="#6258e0" transform="rotate(22.66526446600038 36.38 28.01)"/></g><g opacity="0.41"><ellipse cx="22.45" cy="25.56" rx="1.28" ry="1.25" fill="#6258e0" transform="rotate(164.0242265807047 22.45 25.56)"/><ellipse cx="21.32" cy="25.8" rx="2.31" ry="2.35" fill="#6258e0" transform="rotate(3.298056819386699 21.32 25.8)"/><ellipse cx="21.25" cy="25.54" rx="1.18" ry="0.93" fill="#6258e0" transform="rotate(178.90732884676063 21.25 25.54)"/></g><g opacity="0.62"><ellipse cx="27.34" cy="53.71" rx="1.31" ry="1.75" fill="#6258e0" transform="rotate(20.417494957388737 27.34 53.71)"/><ellipse cx="27.02" cy="54.81" rx="1.77" ry="2.25" fill="#6258e0" transform="rotate(142.61404539557608 27.02 54.81)"/><ellipse cx="26.2" cy="55.31" rx="1.72" ry="1.2" fill="#6258e0" transform="rotate(137.96112236894385 26.2 55.31)"/></g><g opacity="0.69"><ellipse cx="47.12" cy="21.6" rx="1.34" ry="1.1" fill="#6258e0" transform="rotate(1.4986433705657243 47.12 21.6)"/><ellipse cx="46.85" cy="21.31" rx="0.98" ry="0.91" fill="#6258e0" transform="rotate(160.52502847020904 46.85 21.31)"/><ellipse cx="47.67" cy="21.8" rx="1.68" ry="2.51" fill="#6258e0" transform="rotate(8.76430836771946 47.67 21.8)"/></g><g opacity="0.62"><ellipse cx="50.13" cy="22.64" rx="1.41" ry="1.09" fill="#6258e0" transform="rotate(34.7533858567426 50.13 22.64)"/><ellipse cx="50.61" cy="22.92" rx="1.14" ry="1.49" fill="#6258e0" transform="rotate(77.29847203863311 50.61 22.92)"/><ellipse cx="51.34" cy="23.18" rx="2.02" ry="1.37" fill="#6258e0" transform="rotate(128.69320965601366 51.34 23.18)"/></g></g>
<g id="e_cit3"><path d="M24.77,7.57 L24,10.51 L22.13,11.33 L21.21,8.17 L22.2,6.74 Z" fill="#34d060" opacity="0.9"/><path d="M19.34,31.66 L16.2,30.86 L15.08,27.29 L18.32,26.25 L20.32,28.18 Z" fill="#34d060" opacity="0.9"/><path d="M32.24,25.96 L30.75,29.02 L28.55,29.3 L26.53,26.11 L29.6,23.93 Z" fill="#34d060" opacity="0.9"/><path d="M38.54,31.71 L37.78,33.63 L33.7,34.62 L32.27,32.44 L34.47,30.1 Z" fill="#34d060" opacity="0.9"/><path d="M38.93,36.2 L41.14,37.85 L40.46,39.92 L37.87,40.25 L36.31,37.85 Z" fill="#34d060" opacity="0.9"/><path d="M39.12,42.52 L38.79,40.21 L42.83,39.11 L44.99,41.39 L43.85,43.15 Z" fill="#34d060" opacity="0.9"/><ellipse cx="52" cy="42.7" rx="2" ry="1.5" fill="#34d060" opacity="0.35"/><ellipse cx="43.3" cy="49.9" rx="1.5" ry="1.5" fill="#34d060" opacity="0.35"/></g>
<g id="e_mpo3"><path d="M14,0 L28,0 L30,20 L45,30 L56,34 L56,56 L12,56 Z" fill="#f02a1a" opacity="0.12"/><path d="M20,1 L19,15 L18,30 L16,56" fill="none" stroke="#f02a1a" stroke-width="2.5" stroke-linecap="round" stroke-linejoin="round" stroke-opacity="0.7"/><path d="M24,2 L23,25 L21,56" fill="none" stroke="#f02a1a" stroke-width="1.8" stroke-linecap="round" stroke-linejoin="round" stroke-opacity="0.5"/><path d="M22,10 L26,20 L30,28 L38,33 L45,38 L56,42" fill="none" stroke="#f02a1a" stroke-width="3" stroke-linecap="round" stroke-linejoin="round" stroke-opacity="0.9"/><ellipse cx="44" cy="38" rx="9" ry="5" fill="#f02a1a" opacity="0.6"/><ellipse cx="42" cy="50" rx="7" ry="4" fill="#f02a1a" opacity="0.45"/><ellipse cx="28" cy="24" rx="2" ry="2" fill="#f02a1a" opacity="0.7"/><ellipse cx="12" cy="26" rx="2" ry="2" fill="#f02a1a" opacity="0.5"/><ellipse cx="5" cy="50" rx="3" ry="2" fill="#f02a1a" opacity="0.4"/><path d="M42.9,42.18 L41.67,40.45 L39.93,37.13 L39.95,33.87 L41.52,30.77" fill="none" stroke="#f02a1a" stroke-width="1.58" stroke-linecap="round" stroke-linejoin="round" stroke-opacity="0.57"/><path d="M14.59,39.09 L17.2,40.57 L19.7,42.35" fill="none" stroke="#f02a1a" stroke-width="1.13" stroke-linecap="round" stroke-linejoin="round" stroke-opacity="0.37"/><path d="M54.49,36.68 L57.2,36.65 L60.02,38.39 L62.05,38.77 L64.23,38.82" fill="none" stroke="#f02a1a" stroke-width="1.4" stroke-linecap="round" stroke-linejoin="round" stroke-opacity="0.6"/><path d="M52.48,33.32 L53.95,35.16 L56.52,36.63 L58.86,36.21 L61.23,35.26" fill="none" stroke="#f02a1a" stroke-width="1.37" stroke-linecap="round" stroke-linejoin="round" stroke-opacity="0.37"/><path d="M43.02,21.61 L40.67,19.3 L40.1,17.13 L37.28,14.36" fill="none" stroke="#f02a1a" stroke-width="1.25" stroke-linecap="round" stroke-linejoin="round" stroke-opacity="0.61"/><path d="M53.34,35.74 L55.66,38.1 L58.24,41.04 L61.12,41.75" fill="none" stroke="#f02a1a" stroke-width="1.04" stroke-linecap="round" stroke-linejoin="round" stroke-opacity="0.43"/><path d="M24.86,20.26 L21.2,18.99 L18.34,18.52" fill="none" stroke="#f02a1a" stroke-width="1.66" stroke-linecap="round" stroke-linejoin="round" stroke-opacity="0.56"/><path d="M18.95,55.21 L21.47,56.11 L23.73,57.76 L26.49,59.87 L29.64,61.54" fill="none" stroke="#f02a1a" stroke-width="1.51" stroke-linecap="round" stroke-linejoin="round" stroke-opacity="0.37"/><path d="M46.42,1.92 L42.65,1.72 L39.22,1.49 L35.26,1.45 L32.55,1.99" fill="none" stroke="#f02a1a" stroke-width="1.08" stroke-linecap="round" stroke-linejoin="round" stroke-opacity="0.47"/><path d="M47.19,30.3 L44.73,29.91 L42.19,29.51" fill="none" stroke="#f02a1a" stroke-width="1.25" stroke-linecap="round" stroke-linejoin="round" stroke-opacity="0.46"/><path d="M31.66,30.66 L28.67,28.27 L27.87,25.39 L28.72,21.84 L28.35,19.63" fill="none" stroke="#f02a1a" stroke-width="1.53" stroke-linecap="round" stroke-linejoin="round" stroke-opacity="0.61"/><path d="M25.2,13.77 L22.39,11.46 L21.67,8.74 L22.33,6.78 L22.66,4.78" fill="none" stroke="#f02a1a" stroke-width="1.51" stroke-linecap="round" stroke-linejoin="round" stroke-opacity="0.43"/><path d="M23.25,16.42 L20.69,16.07 L18.5,16.21 L15.7,18.58" fill="none" stroke="#f02a1a" stroke-width="1.15" stroke-linecap="round" stroke-linejoin="round" stroke-opacity="0.39"/><path d="M44.73,15.67 L41.6,14.67 L38.1,14.46" fill="none" stroke="#f02a1a" stroke-width="1.32" stroke-linecap="round" stroke-linejoin="round" stroke-opacity="0.46"/><path d="M55.44,16.48 L57.84,18.99 L59.41,22.62" fill="none" stroke="#f02a1a" stroke-width="1.74" stroke-linecap="round" stroke-linejoin="round" stroke-opacity="0.47"/><path d="M21.23,22.55 L18.89,22.8 L16.33,22.06 L13.49,23.01" fill="none" stroke="#f02a1a" stroke-width="1.05" stroke-linecap="round" stroke-linejoin="round" stroke-opacity="0.61"/><g opacity="0.88"><ellipse cx="35.42" cy="40.92" rx="0.98" ry="1.22" fill="#ff4020" transform="rotate(37.77702060210962 35.42 40.92)"/><ellipse cx="35.16" cy="41.05" rx="1.77" ry="1.27" fill="#ff4020" transform="rotate(77.44600161962738 35.16 41.05)"/><ellipse cx="34.67" cy="40.22" rx="1.08" ry="0.98" fill="#ff4020" transform="rotate(11.619744873288528 34.67 40.22)"/></g><g opacity="0.53"><ellipse cx="28.88" cy="31.37" rx="1.9" ry="1.93" fill="#ff4020" transform="rotate(96.79950930730911 28.88 31.37)"/><ellipse cx="29.1" cy="32.7" rx="1.46" ry="1.09" fill="#ff4020" transform="rotate(127.80197538806955 29.1 32.7)"/><ellipse cx="29.03" cy="31.6" rx="0.94" ry="0.93" fill="#ff4020" transform="rotate(46.76217578663366 29.03 31.6)"/></g><g opacity="0.74"><ellipse cx="51.44" cy="43.69" rx="0.88" ry="1.08" fill="#ff4020" transform="rotate(101.95846531792655 51.44 43.69)"/><ellipse cx="51.74" cy="44.09" rx="1.49" ry="2.13" fill="#ff4020" transform="rotate(127.21733188815159 51.74 44.09)"/><ellipse cx="51.91" cy="44.43" rx="0.92" ry="0.91" fill="#ff4020" transform="rotate(128.90179753802983 51.91 44.43)"/></g><g opacity="0.88"><ellipse cx="26.47" cy="50.94" rx="1.5" ry="1.23" fill="#ff4020" transform="rotate(32.519824965631635 26.47 50.94)"/><ellipse cx="26.36" cy="51.48" rx="1.23" ry="1.92" fill="#ff4020" transform="rotate(33.34349163768823 26.36 51.48)"/><ellipse cx="27.04" cy="50.35" rx="1.38" ry="1.11" fill="#ff4020" transform="rotate(5.609434275829532 27.04 50.35)"/></g><g opacity="0.9"><ellipse cx="25.26" cy="42.8" rx="0.69" ry="1.24" fill="#ff4020" transform="rotate(99.16660014316741 25.26 42.8)"/><ellipse cx="26.12" cy="43.56" rx="0.94" ry="1.78" fill="#ff4020" transform="rotate(1.0314107069064238 26.12 43.56)"/><ellipse cx="25.95" cy="42.74" rx="1.12" ry="1.02" fill="#ff4020" transform="rotate(68.22955385870739 25.95 42.74)"/></g><g opacity="0.57"><ellipse cx="46.45" cy="43.02" rx="1.27" ry="1.29" fill="#ff4020" transform="rotate(88.7410854452454 46.45 43.02)"/><ellipse cx="47.39" cy="43.25" rx="1.93" ry="2.02" fill="#ff4020" transform="rotate(120.10538987986138 47.39 43.25)"/><ellipse cx="46.95" cy="42.95" rx="1.33" ry="1.38" fill="#ff4020" transform="rotate(24.548737778835832 46.95 42.95)"/></g><g opacity="0.87"><ellipse cx="43.88" cy="33.91" rx="1.29" ry="1.05" fill="#ff4020" transform="rotate(69.11818297670925 43.88 33.91)"/><ellipse cx="43.06" cy="34.75" rx="1.22" ry="1.79" fill="#ff4020" transform="rotate(122.1166432646859 43.06 34.75)"/><ellipse cx="44.09" cy="34.67" rx="0.96" ry="1.01" fill="#ff4020" transform="rotate(73.37041752489509 44.09 34.67)"/></g><g opacity="0.89"><ellipse cx="45.29" cy="27.89" rx="1.33" ry="0.74" fill="#ff4020" transform="rotate(106.65901274252809 45.29 27.89)"/><ellipse cx="46.37" cy="27.82" rx="0.94" ry="0.94" fill="#ff4020" transform="rotate(177.01031468108624 46.37 27.82)"/><ellipse cx="46.36" cy="28.76" rx="1.42" ry="1.21" fill="#ff4020" transform="rotate(103.31578786208162 46.36 28.76)"/></g><g opacity="0.86"><ellipse cx="37.48" cy="48.8" rx="1.22" ry="1.07" fill="#ff4020" transform="rotate(20.590198541615486 37.48 48.8)"/><ellipse cx="37.37" cy="48.43" rx="0.95" ry="1.16" fill="#ff4020" transform="rotate(96.80070426938613 37.37 48.43)"/><ellipse cx="36.06" cy="48.85" rx="1.38" ry="1.94" fill="#ff4020" transform="rotate(96.22130857031878 36.06 48.85)"/></g><g opacity="0.61"><ellipse cx="27.6" cy="37.84" rx="1.01" ry="0.82" fill="#ff4020" transform="rotate(49.0117596095008 27.6 37.84)"/><ellipse cx="27.24" cy="37.39" rx="1.33" ry="1.24" fill="#ff4020" transform="rotate(139.48676329406902 27.24 37.39)"/><ellipse cx="28" cy="37.27" rx="0.83" ry="1.17" fill="#ff4020" transform="rotate(140.12610138449685 28 37.27)"/></g><g opacity="0.9"><ellipse cx="52.86" cy="34.06" rx="1.07" ry="2.03" fill="#ff4020" transform="rotate(52.23869019220354 52.86 34.06)"/><ellipse cx="53.89" cy="33.52" rx="1.42" ry="1.69" fill="#ff4020" transform="rotate(27.980150032159926 53.89 33.52)"/><ellipse cx="53.83" cy="33.79" rx="1.33" ry="1.33" fill="#ff4020" transform="rotate(138.63419177718123 53.83 33.79)"/></g><g opacity="0.55"><ellipse cx="49.2" cy="51.1" rx="1.89" ry="2.11" fill="#ff4020" transform="rotate(54.81911643820322 49.2 51.1)"/><ellipse cx="49.92" cy="52.19" rx="1.6" ry="1.19" fill="#ff4020" transform="rotate(15.451938873255504 49.92 52.19)"/><ellipse cx="48.95" cy="52.25" rx="1.22" ry="1.19" fill="#ff4020" transform="rotate(25.940918217903565 48.95 52.25)"/></g><g opacity="0.74"><ellipse cx="40.8" cy="49.51" rx="1.15" ry="0.79" fill="#ff4020" transform="rotate(97.23810274463672 40.8 49.51)"/><ellipse cx="41.91" cy="50.35" rx="1.62" ry="1.62" fill="#ff4020" transform="rotate(90.01999896379604 41.91 50.35)"/><ellipse cx="41.5" cy="50.18" rx="2.15" ry="1.39" fill="#ff4020" transform="rotate(150.97402731679261 41.5 50.18)"/></g><g opacity="0.72"><ellipse cx="33.08" cy="36.59" rx="2.32" ry="1.84" fill="#ff4020" transform="rotate(42.278218330883966 33.08 36.59)"/><ellipse cx="33.15" cy="36.72" rx="2.11" ry="1.56" fill="#ff4020" transform="rotate(75.46828412363308 33.15 36.72)"/><ellipse cx="32.13" cy="36.59" rx="1.13" ry="1.16" fill="#ff4020" transform="rotate(151.73083984431977 32.13 36.59)"/></g></g>
<g id="e_syt3"><path d="M0,5 L40,0 L56,10 L56,56 L0,56 Z" fill="#36d848" opacity="0.14"/><path d="M24.91,21.42 L21.99,21.32 L20.53,22.54 L19.12,23.92" fill="none" stroke="#36d848" stroke-width="2.5" stroke-linecap="round" stroke-linejoin="round" stroke-opacity="0.81"/><path d="M9.02,17.41 L8.57,15.66 L6.31,14.63" fill="none" stroke="#36d848" stroke-width="2.32" stroke-linecap="round" stroke-linejoin="round" stroke-opacity="0.93"/><path d="M11.44,33.41 L10.52,36.69 L8.74,38.97" fill="none" stroke="#36d848" stroke-width="2.12" stroke-linecap="round" stroke-linejoin="round" stroke-opacity="0.73"/><path d="M3.99,42.67 L4.71,40.05 L3.88,36.71" fill="none" stroke="#36d848" stroke-width="1.62" stroke-linecap="round" stroke-linejoin="round" stroke-opacity="0.87"/><path d="M24.34,53.8 L25.68,55.41 L27.31,57.54 L29.52,58.49" fill="none" stroke="#36d848" stroke-width="2.41" stroke-linecap="round" stroke-linejoin="round" stroke-opacity="0.74"/><path d="M46.25,12.65 L46.35,16.12 L45.08,17.83" fill="none" stroke="#36d848" stroke-width="1.25" stroke-linecap="round" stroke-linejoin="round" stroke-opacity="0.77"/><path d="M17.71,34.37 L14.76,33.38 L12.06,34.24 L10.24,34.92" fill="none" stroke="#36d848" stroke-width="1.36" stroke-linecap="round" stroke-linejoin="round" stroke-opacity="0.56"/><path d="M37.52,8.83 L36.44,6.22 L35.44,3.88" fill="none" stroke="#36d848" stroke-width="2.47" stroke-linecap="round" stroke-linejoin="round" stroke-opacity="0.74"/><path d="M35.07,42.82 L35.93,44.74 L37.23,46.09" fill="none" stroke="#36d848" stroke-width="1.82" stroke-linecap="round" stroke-linejoin="round" stroke-opacity="0.86"/><path d="M32.01,50.87 L31.67,47.56 L30.86,45.96 L31.39,44.42" fill="none" stroke="#36d848" stroke-width="1.51" stroke-linecap="round" stroke-linejoin="round" stroke-opacity="0.52"/><path d="M28.92,55.35 L30.52,55.28 L31.72,53.72" fill="none" stroke="#36d848" stroke-width="1.53" stroke-linecap="round" stroke-linejoin="round" stroke-opacity="0.85"/><path d="M17.09,38.12 L15.24,36.44 L14.13,34.61" fill="none" stroke="#36d848" stroke-width="1.49" stroke-linecap="round" stroke-linejoin="round" stroke-opacity="0.94"/><path d="M3.74,1.29 L3,3.06 L3,4.84 L1.76,5.91" fill="none" stroke="#36d848" stroke-width="2.36" stroke-linecap="round" stroke-linejoin="round" stroke-opacity="0.67"/><path d="M14.3,9.51 L17.68,9.96 L19.11,11.93 L22.36,12.71 L23.43,13.94" fill="none" stroke="#36d848" stroke-width="1.69" stroke-linecap="round" stroke-linejoin="round" stroke-opacity="0.7"/><path d="M49.34,51.63 L49,50.01 L50.7,47.15 L52.27,45.35" fill="none" stroke="#36d848" stroke-width="1.55" stroke-linecap="round" stroke-linejoin="round" stroke-opacity="0.84"/><path d="M36.76,1.89 L39.48,3.17 L42.75,2.32" fill="none" stroke="#36d848" stroke-width="1.94" stroke-linecap="round" stroke-linejoin="round" stroke-opacity="0.84"/><path d="M29.21,20.1 L28.23,17.95 L27.95,14.84 L26.19,13.08" fill="none" stroke="#36d848" stroke-width="2.52" stroke-linecap="round" stroke-linejoin="round" stroke-opacity="0.77"/><path d="M11.68,26.42 L10.73,29.41 L9.29,32.29" fill="none" stroke="#36d848" stroke-width="2.35" stroke-linecap="round" stroke-linejoin="round" stroke-opacity="0.57"/><path d="M28.12,38.81 L27.34,36.75 L24.38,35.39 L22.02,33.9 L20.35,32.73" fill="none" stroke="#36d848" stroke-width="2.02" stroke-linecap="round" stroke-linejoin="round" stroke-opacity="0.6"/><path d="M28.18,35.53 L25.45,35.9 L22.79,34.9" fill="none" stroke="#36d848" stroke-width="1.79" stroke-linecap="round" stroke-linejoin="round" stroke-opacity="0.95"/><path d="M9.93,0.24 L8.51,-2.14 L6.68,-4.38 L5.05,-6.89 L4.5,-10.3" fill="none" stroke="#36d848" stroke-width="1.5" stroke-linecap="round" stroke-linejoin="round" stroke-opacity="0.96"/><path d="M9.15,23.27 L11.01,25.48 L12.02,27.73 L14.35,28.96 L17.15,28.06" fill="none" stroke="#36d848" stroke-width="2.12" stroke-linecap="round" stroke-linejoin="round" stroke-opacity="0.87"/><path d="M35,45.79 L32.37,46 L29.52,45.36 L27.97,44.11" fill="none" stroke="#36d848" stroke-width="2.36" stroke-linecap="round" stroke-linejoin="round" stroke-opacity="0.56"/><path d="M13.62,11.19 L14.37,8.52 L17.34,7.16 L20.65,7.06 L23.48,6.66" fill="none" stroke="#36d848" stroke-width="1.39" stroke-linecap="round" stroke-linejoin="round" stroke-opacity="0.93"/><path d="M34.52,1.23 L35.82,-1.35 L34.72,-4.35 L35.34,-7.36 L37.72,-9.55" fill="none" stroke="#36d848" stroke-width="2.06" stroke-linecap="round" stroke-linejoin="round" stroke-opacity="0.99"/><path d="M47.34,11.15 L46.15,9.96 L45.14,7.15" fill="none" stroke="#36d848" stroke-width="2.21" stroke-linecap="round" stroke-linejoin="round" stroke-opacity="0.89"/><path d="M49.08,49.97 L49.42,46.51 L47.99,44.65" fill="none" stroke="#36d848" stroke-width="1.53" stroke-linecap="round" stroke-linejoin="round" stroke-opacity="0.53"/><path d="M3.89,0.79 L3.93,-2.28 L3.33,-4.89 L4.27,-6.99" fill="none" stroke="#36d848" stroke-width="1.89" stroke-linecap="round" stroke-linejoin="round"/><path d="M21.42,4.16 L20.09,3.15 L19.63,0.99" fill="none" stroke="#36d848" stroke-width="1.39" stroke-linecap="round" stroke-linejoin="round" stroke-opacity="0.96"/><path d="M3.04,47.14 L-0.01,46.67 L-3.33,45.56 L-5.61,45.13 L-7.84,44.23" fill="none" stroke="#36d848" stroke-width="1.93" stroke-linecap="round" stroke-linejoin="round" stroke-opacity="0.68"/><path d="M45.67,2.78 L42.59,1.7 L40.95,2.69 L37.95,3.71" fill="none" stroke="#36d848" stroke-width="1.91" stroke-linecap="round" stroke-linejoin="round" stroke-opacity="0.95"/><path d="M29.04,14.41 L27.78,15.81 L25.77,16.01 L23.19,16.78 L20.56,15.6" fill="none" stroke="#36d848" stroke-width="1.36" stroke-linecap="round" stroke-linejoin="round" stroke-opacity="0.98"/><path d="M3.9,41.52 L5.8,40.65 L7.17,39.2" fill="none" stroke="#36d848" stroke-width="1.89" stroke-linecap="round" stroke-linejoin="round" stroke-opacity="0.64"/><path d="M8.92,11.14 L12.07,11.39 L13.84,13.03 L15.61,14.71" fill="none" stroke="#36d848" stroke-width="1.25" stroke-linecap="round" stroke-linejoin="round" stroke-opacity="0.59"/><path d="M36.56,15.83 L35.79,17.16 L33.48,18.08 L31.27,17.86" fill="none" stroke="#36d848" stroke-width="1.84" stroke-linecap="round" stroke-linejoin="round" stroke-opacity="0.98"/><path d="M54.69,52.12 L55.56,49.92 L56.35,46.69 L56.07,45.11" fill="none" stroke="#36d848" stroke-width="2.43" stroke-linecap="round" stroke-linejoin="round" stroke-opacity="0.77"/><path d="M35.28,52.76 L32.79,53.9 L30.65,52.85" fill="none" stroke="#36d848" stroke-width="1.28" stroke-linecap="round" stroke-linejoin="round" stroke-opacity="0.8"/><path d="M28.48,4.42 L27.03,6.5 L26.39,9.68 L28.57,12.34 L28.17,14.61" fill="none" stroke="#36d848" stroke-width="1.64" stroke-linecap="round" stroke-linejoin="round" stroke-opacity="0.96"/><path d="M43.16,5.01 L43.35,1.68 L44.47,0.3" fill="none" stroke="#36d848" stroke-width="2.49" stroke-linecap="round" stroke-linejoin="round" stroke-opacity="0.86"/><path d="M0.13,29.02 L1.3,27.57 L0.71,24.9 L0.22,21.83" fill="none" stroke="#36d848" stroke-width="2" stroke-linecap="round" stroke-linejoin="round" stroke-opacity="0.56"/><path d="M53.39,55.78 L52.31,57.41 L52.59,59.46 L54.58,61.86" fill="none" stroke="#36d848" stroke-width="2.27" stroke-linecap="round" stroke-linejoin="round" stroke-opacity="0.54"/><path d="M51.05,3.96 L52.41,4.72 L54.73,5.18 L56.43,7.95 L57.97,10.75" fill="none" stroke="#36d848" stroke-width="1.77" stroke-linecap="round" stroke-linejoin="round" stroke-opacity="0.99"/><path d="M44.53,25.38 L44.42,22.92 L45.61,21.14" fill="none" stroke="#36d848" stroke-width="2.19" stroke-linecap="round" stroke-linejoin="round" stroke-opacity="0.73"/><path d="M39.2,15.83 L42,14.99 L43.12,12.71 L43.19,10.94 L42.33,9.66" fill="none" stroke="#36d848" stroke-width="1.79" stroke-linecap="round" stroke-linejoin="round" stroke-opacity="0.71"/><path d="M16.82,52.21 L19.78,51.39 L21.53,49.2 L22.31,47.25 L22.24,44.41" fill="none" stroke="#36d848" stroke-width="1.76" stroke-linecap="round" stroke-linejoin="round" stroke-opacity="0.83"/><path d="M4.24,21.74 L6.99,23.52 L8.77,23.53 L10.64,21.44" fill="none" stroke="#36d848" stroke-width="2.38" stroke-linecap="round" stroke-linejoin="round" stroke-opacity="0.89"/><path d="M3.08,4.07 L0.93,6.08 L1.11,9.32" fill="none" stroke="#36d848" stroke-width="1.67" stroke-linecap="round" stroke-linejoin="round" stroke-opacity="0.87"/><path d="M44.44,50.66 L41.8,52.31 L39.88,52.73 L37.26,54.99 L35.59,57.93" fill="none" stroke="#36d848" stroke-width="1.55" stroke-linecap="round" stroke-linejoin="round" stroke-opacity="0.85"/><path d="M40.14,12.14 L40.53,14.25 L41.71,15.93 L41.99,18.67" fill="none" stroke="#36d848" stroke-width="1.69" stroke-linecap="round" stroke-linejoin="round" stroke-opacity="0.98"/><path d="M42.45,40.45 L42.02,42.67 L42.01,44.52 L41.88,46.04 L44.11,48.45" fill="none" stroke="#36d848" stroke-width="1.8" stroke-linecap="round" stroke-linejoin="round" stroke-opacity="0.58"/><path d="M0.63,26.19 L-1.47,28.45 L-3.98,28.33" fill="none" stroke="#36d848" stroke-width="1.39" stroke-linecap="round" stroke-linejoin="round" stroke-opacity="0.58"/><path d="M46.11,19.77 L45.44,16.85 L42.51,15.05 L39.92,15.38 L37.68,16.29" fill="none" stroke="#36d848" stroke-width="2.39" stroke-linecap="round" stroke-linejoin="round" stroke-opacity="0.66"/><path d="M51.81,54.44 L53.04,56.93 L55.7,58.55 L58.39,60.04" fill="none" stroke="#36d848" stroke-width="1.64" stroke-linecap="round" stroke-linejoin="round" stroke-opacity="0.82"/><path d="M5.27,24.97 L8.2,23.77 L9.84,24.22 L11.32,23.44" fill="none" stroke="#36d848" stroke-width="1.35" stroke-linecap="round" stroke-linejoin="round" stroke-opacity="0.96"/><path d="M47.7,13.8 L46.82,15.06 L46.99,17.28" fill="none" stroke="#36d848" stroke-width="2.28" stroke-linecap="round" stroke-linejoin="round" stroke-opacity="0.75"/><path d="M26.98,4.14 L28.55,5.71 L30.88,6.23 L32.74,7.78 L35.55,8.78" fill="none" stroke="#36d848" stroke-width="2.4" stroke-linecap="round" stroke-linejoin="round" stroke-opacity="0.51"/><path d="M31.15,11.4 L28.94,13.99 L26.37,16.24" fill="none" stroke="#36d848" stroke-width="1.56" stroke-linecap="round" stroke-linejoin="round" stroke-opacity="0.6"/><path d="M32.52,10.89 L30.87,13.3 L31.42,16.03 L31,17.66 L29.1,18.62" fill="none" stroke="#36d848" stroke-width="2.28" stroke-linecap="round" stroke-linejoin="round" stroke-opacity="0.68"/><path d="M1.66,39.74 L1.71,36.6 L1.41,34.81 L-0.5,33.25" fill="none" stroke="#36d848" stroke-width="2.35" stroke-linecap="round" stroke-linejoin="round" stroke-opacity="0.73"/><path d="M10.04,7.84 L10.91,6.18 L13.2,4.63" fill="none" stroke="#36d848" stroke-width="2.38" stroke-linecap="round" stroke-linejoin="round" stroke-opacity="0.65"/><path d="M32.65,25.2 L33.34,27.38 L34.16,30.01 L33.96,33.1" fill="none" stroke="#36d848" stroke-width="1.95" stroke-linecap="round" stroke-linejoin="round" stroke-opacity="0.59"/><path d="M29.51,1.37 L28.41,2.48 L27.21,3.41" fill="none" stroke="#36d848" stroke-width="2.58" stroke-linecap="round" stroke-linejoin="round" stroke-opacity="0.8"/><path d="M15.66,1.52 L12.69,0.97 L10.26,1.73 L7.54,2.35 L5.17,3.09" fill="none" stroke="#36d848" stroke-width="1.33" stroke-linecap="round" stroke-linejoin="round" stroke-opacity="0.92"/><path d="M47.24,50.68 L49.54,51.78 L51.82,52.26 L55.11,51.84 L57.07,49.68" fill="none" stroke="#36d848" stroke-width="2.32" stroke-linecap="round" stroke-linejoin="round" stroke-opacity="0.65"/><path d="M32.89,19.54 L31.55,16.57 L30.98,14.89" fill="none" stroke="#36d848" stroke-width="2.38" stroke-linecap="round" stroke-linejoin="round" stroke-opacity="0.89"/><path d="M52.35,8.48 L52.87,10.87 L54.86,12.32 L57.91,13.16" fill="none" stroke="#36d848" stroke-width="1.68" stroke-linecap="round" stroke-linejoin="round" stroke-opacity="0.88"/><path d="M46.01,6.65 L42.74,6.26 L39.75,6.76 L38.03,6.26" fill="none" stroke="#36d848" stroke-width="1.77" stroke-linecap="round" stroke-linejoin="round" stroke-opacity="0.89"/><path d="M39.16,12.55 L36.76,12.25 L34.65,10.87 L32.43,8.27 L32.46,6.73" fill="none" stroke="#36d848" stroke-width="2.15" stroke-linecap="round" stroke-linejoin="round" stroke-opacity="0.8"/><path d="M0.32,40.13 L-1.7,38.08 L-2.52,35.71 L-3.31,33.63" fill="none" stroke="#36d848" stroke-width="2.53" stroke-linecap="round" stroke-linejoin="round" stroke-opacity="0.98"/><path d="M34.57,39.32 L32.05,40.84 L30.39,43.65 L30.41,45.53 L32.11,47.19" fill="none" stroke="#36d848" stroke-width="1.49" stroke-linecap="round" stroke-linejoin="round" stroke-opacity="0.62"/><path d="M49.81,29.78 L48.16,30.73 L45.72,30.62 L44.12,30.37 L41.61,29.74" fill="none" stroke="#36d848" stroke-width="1.84" stroke-linecap="round" stroke-linejoin="round" stroke-opacity="0.73"/><path d="M19.3,12.13 L20.57,14.74 L20.82,17.61 L19.58,19.3" fill="none" stroke="#36d848" stroke-width="2.46" stroke-linecap="round" stroke-linejoin="round" stroke-opacity="0.96"/><path d="M37.66,6.24 L36.3,7.12 L34.04,7.29 L31.41,7.11" fill="none" stroke="#36d848" stroke-width="2.33" stroke-linecap="round" stroke-linejoin="round" stroke-opacity="0.94"/><path d="M11.06,12.45 L12.59,12.21 L14.79,13.49 L16.05,14.85" fill="none" stroke="#36d848" stroke-width="1.46" stroke-linecap="round" stroke-linejoin="round" stroke-opacity="0.69"/><path d="M12.8,30.28 L10.95,32.01 L9.41,32.87" fill="none" stroke="#36d848" stroke-width="2.2" stroke-linecap="round" stroke-linejoin="round" stroke-opacity="0.91"/><path d="M21.39,53.58 L18.07,53.89 L15.9,52.04 L13.73,52.04 L11.86,53.31" fill="none" stroke="#36d848" stroke-width="2.59" stroke-linecap="round" stroke-linejoin="round" stroke-opacity="0.83"/><path d="M10.53,10.22 L8.47,7.66 L7.28,4.98 L7.94,2.13" fill="none" stroke="#36d848" stroke-width="1.86" stroke-linecap="round" stroke-linejoin="round" stroke-opacity="0.7"/><path d="M43.65,7.8 L45.11,9.77 L44.65,11.9" fill="none" stroke="#36d848" stroke-width="2.29" stroke-linecap="round" stroke-linejoin="round" stroke-opacity="0.85"/><path d="M27.59,8.34 L26.46,11.1 L26.25,13.8 L27.27,14.9 L28.79,15.55" fill="none" stroke="#36d848" stroke-width="2.4" stroke-linecap="round" stroke-linejoin="round" stroke-opacity="0.75"/><path d="M25.56,4.98 L23.75,6.58 L21.72,7.77" fill="none" stroke="#36d848" stroke-width="1.62" stroke-linecap="round" stroke-linejoin="round" stroke-opacity="0.71"/><path d="M28.05,53.79 L26.8,52.33 L23.85,51.83" fill="none" stroke="#36d848" stroke-width="1.99" stroke-linecap="round" stroke-linejoin="round" stroke-opacity="0.51"/><path d="M6.52,19.31 L7.3,21.16 L6.71,24.32" fill="none" stroke="#36d848" stroke-width="1.58" stroke-linecap="round" stroke-linejoin="round" stroke-opacity="0.87"/><path d="M41.66,50.53 L42.77,49.33 L42.51,45.89 L42.61,42.47" fill="none" stroke="#36d848" stroke-width="2.06" stroke-linecap="round" stroke-linejoin="round" stroke-opacity="0.55"/><path d="M55.4,48.48 L52.83,48.53 L50.72,49.58" fill="none" stroke="#36d848" stroke-width="2.55" stroke-linecap="round" stroke-linejoin="round" stroke-opacity="0.73"/><path d="M7.35,11.12 L7.63,14.27 L6.43,16.77 L3.94,18.13 L2.84,20.64" fill="none" stroke="#36d848" stroke-width="2.42" stroke-linecap="round" stroke-linejoin="round" stroke-opacity="0.66"/><path d="M53.34,28.21 L56.12,28.26 L57.87,26.56" fill="none" stroke="#36d848" stroke-width="1.53" stroke-linecap="round" stroke-linejoin="round" stroke-opacity="0.54"/><path d="M43.08,4.54 L43.96,2.69 L44.3,1.07 L44.4,-2.41" fill="none" stroke="#36d848" stroke-width="1.96" stroke-linecap="round" stroke-linejoin="round" stroke-opacity="0.59"/><path d="M19.73,44.77 L22.24,45.43 L23.52,47.89" fill="none" stroke="#36d848" stroke-width="1.46" stroke-linecap="round" stroke-linejoin="round" stroke-opacity="0.52"/><path d="M27.35,41.45 L26.93,39.8 L27.64,37.28" fill="none" stroke="#36d848" stroke-width="2.49" stroke-linecap="round" stroke-linejoin="round" stroke-opacity="0.64"/><path d="M37.06,55.94 L38.73,54.93 L40.41,53.63" fill="none" stroke="#36d848" stroke-width="2.11" stroke-linecap="round" stroke-linejoin="round" stroke-opacity="0.64"/><path d="M9.83,39.15 L9.53,37.38 L8.23,36.32 L7.57,34.48 L8.14,31.87" fill="none" stroke="#36d848" stroke-width="1.35" stroke-linecap="round" stroke-linejoin="round" stroke-opacity="0.8"/><path d="M19.42,19.54 L20.84,18.16 L22.38,17.23 L23.53,15.27 L22.82,11.98" fill="none" stroke="#36d848" stroke-width="1.58" stroke-linecap="round" stroke-linejoin="round" stroke-opacity="0.73"/><path d="M2.52,51.74 L1.05,53.34 L-0.44,56 L-0.91,59 L-0.65,61.12" fill="none" stroke="#36d848" stroke-width="1.73" stroke-linecap="round" stroke-linejoin="round" stroke-opacity="0.51"/><path d="M9.88,4.87 L12.57,5.13 L14.67,6.32" fill="none" stroke="#36d848" stroke-width="1.6" stroke-linecap="round" stroke-linejoin="round" stroke-opacity="0.73"/><path d="M35.88,27.17 L37.1,29.44 L38.95,31.81 L41.31,34.12 L43.73,35.35" fill="none" stroke="#36d848" stroke-width="2.08" stroke-linecap="round" stroke-linejoin="round" stroke-opacity="0.57"/><path d="M6.27,18.65 L8.21,17.52 L10.73,17.34" fill="none" stroke="#36d848" stroke-width="2.2" stroke-linecap="round" stroke-linejoin="round" stroke-opacity="0.7"/><path d="M40.86,17.21 L43.06,16.41 L43.83,14.79 L45.56,13.63 L47.96,13.49" fill="none" stroke="#36d848" stroke-width="2.54" stroke-linecap="round" stroke-linejoin="round" stroke-opacity="0.78"/><path d="M20.46,26.36 L20.68,28.28 L19.16,30.08 L18.79,31.66 L17.92,34.31" fill="none" stroke="#36d848" stroke-width="2.67" stroke-linecap="round" stroke-linejoin="round" stroke-opacity="0.65"/><path d="M16.19,20.79 L15.36,23.21 L16.32,25.73" fill="none" stroke="#36d848" stroke-width="1.79" stroke-linecap="round" stroke-linejoin="round" stroke-opacity="0.69"/><path d="M14.34,20.65 L12.1,22.78 L9.09,24.25 L5.76,25.22" fill="none" stroke="#36d848" stroke-width="2.57" stroke-linecap="round" stroke-linejoin="round" stroke-opacity="0.82"/><path d="M43.96,3.23 L41.87,3.74 L38.52,3.24" fill="none" stroke="#36d848" stroke-width="1.52" stroke-linecap="round" stroke-linejoin="round" stroke-opacity="0.91"/><path d="M38.06,13.87 L37.99,17.35 L38.14,19.45 L40.61,21.3" fill="none" stroke="#36d848" stroke-width="2.46" stroke-linecap="round" stroke-linejoin="round" stroke-opacity="0.76"/><path d="M33.09,4.19 L34.54,3.73 L37.23,3.08 L39.12,3.36" fill="none" stroke="#36d848" stroke-width="2.67" stroke-linecap="round" stroke-linejoin="round" stroke-opacity="0.78"/><path d="M5.39,12.59 L5.97,14 L8.23,16.11 L9.39,18.37 L10.38,21.62" fill="none" stroke="#36d848" stroke-width="1.69" stroke-linecap="round" stroke-linejoin="round" stroke-opacity="0.91"/><path d="M8.96,9.72 L8.65,11.31 L7.1,13.73 L6.34,16.82 L5.82,19.77" fill="none" stroke="#36d848" stroke-width="1.95" stroke-linecap="round" stroke-linejoin="round" stroke-opacity="0.68"/><path d="M8.87,5.39 L7.48,7.71 L7.91,10.98 L6.72,13.72 L6.04,16.25" fill="none" stroke="#36d848" stroke-width="2.24" stroke-linecap="round" stroke-linejoin="round" stroke-opacity="0.75"/><path d="M7.07,23.48 L7.67,26.39 L6.39,29.01" fill="none" stroke="#36d848" stroke-width="2.53" stroke-linecap="round" stroke-linejoin="round" stroke-opacity="0.99"/><path d="M42.6,15.94 L43.49,14.45 L43.45,12.75 L43.75,9.85 L44.78,7.52" fill="none" stroke="#36d848" stroke-width="2.18" stroke-linecap="round" stroke-linejoin="round"/><path d="M39.91,16.08 L39.24,18.29 L38.35,21.68 L37.55,23.26" fill="none" stroke="#36d848" stroke-width="2.44" stroke-linecap="round" stroke-linejoin="round" stroke-opacity="0.65"/><path d="M21.9,27.65 L24.35,28.55 L26.83,30.31 L28.74,32.48" fill="none" stroke="#36d848" stroke-width="2.76" stroke-linecap="round" stroke-linejoin="round" stroke-opacity="0.8"/><path d="M5.83,17.34 L5.22,15.3 L5.68,13.32" fill="none" stroke="#36d848" stroke-width="2.45" stroke-linecap="round" stroke-linejoin="round" stroke-opacity="0.8"/><path d="M42.09,24.18 L44.44,24.73 L46.98,23.56 L49.1,24.13" fill="none" stroke="#36d848" stroke-width="1.85" stroke-linecap="round" stroke-linejoin="round" stroke-opacity="0.97"/><path d="M13.31,7.29 L14.03,8.61 L15.27,11.38 L15.62,14.23 L14.47,17.5" fill="none" stroke="#36d848" stroke-width="2.76" stroke-linecap="round" stroke-linejoin="round" stroke-opacity="0.89"/><path d="M19.92,16.71 L22.49,14.36 L24.33,13.84" fill="none" stroke="#36d848" stroke-width="2.71" stroke-linecap="round" stroke-linejoin="round" stroke-opacity="0.76"/><path d="M38.18,22.67 L39.76,22.43 L41.96,20.25 L44.86,19.31" fill="none" stroke="#36d848" stroke-width="2.39" stroke-linecap="round" stroke-linejoin="round" stroke-opacity="0.86"/><path d="M19.25,21.07 L20.6,20.23 L22.25,20.55 L24.28,20.43" fill="none" stroke="#36d848" stroke-width="1.65" stroke-linecap="round" stroke-linejoin="round" stroke-opacity="0.79"/><path d="M16.47,3.03 L13.41,3.73 L10.83,5.39 L10.02,6.8 L7.58,7.54" fill="none" stroke="#36d848" stroke-width="2.13" stroke-linecap="round" stroke-linejoin="round" stroke-opacity="0.96"/><path d="M37.9,5.96 L39.41,4.53 L41.27,3.9" fill="none" stroke="#36d848" stroke-width="1.86" stroke-linecap="round" stroke-linejoin="round" stroke-opacity="0.92"/><path d="M38.92,18.25 L40.31,18.89 L41.16,22.2 L40.27,23.58" fill="none" stroke="#36d848" stroke-width="1.93" stroke-linecap="round" stroke-linejoin="round" stroke-opacity="0.97"/><path d="M15.5,15.65 L18.78,16.76 L20.23,16.03 L22.18,16.43 L24.38,18.55" fill="none" stroke="#36d848" stroke-width="1.73" stroke-linecap="round" stroke-linejoin="round" stroke-opacity="0.8"/><path d="M11.72,18.01 L10.67,21.06 L10.8,23.65" fill="none" stroke="#36d848" stroke-width="2.31" stroke-linecap="round" stroke-linejoin="round" stroke-opacity="0.64"/><path d="M5.15,17.52 L4.99,15.49 L5.35,13.5" fill="none" stroke="#36d848" stroke-width="1.74" stroke-linecap="round" stroke-linejoin="round" stroke-opacity="0.64"/><path d="M31.88,8.67 L30.26,11.18 L30.63,13.61 L30.14,15.36 L28.32,17.52" fill="none" stroke="#36d848" stroke-width="2.75" stroke-linecap="round" stroke-linejoin="round" stroke-opacity="0.7"/><path d="M30.19,25.83 L31.73,28.57 L33.36,31.34 L33.57,33.1 L32.46,36.06" fill="none" stroke="#36d848" stroke-width="2.69" stroke-linecap="round" stroke-linejoin="round" stroke-opacity="0.68"/><path d="M10.33,24.25 L10.49,22.68 L10.21,20.5" fill="none" stroke="#36d848" stroke-width="2.35" stroke-linecap="round" stroke-linejoin="round" stroke-opacity="0.76"/><path d="M18.26,21.72 L17.72,18.73 L17,15.57 L17.78,13.13 L20.91,11.71" fill="none" stroke="#36d848" stroke-width="2.32" stroke-linecap="round" stroke-linejoin="round" stroke-opacity="0.79"/><path d="M10.17,7.14 L8.89,4.45 L9.03,1.07 L8.85,-1.23" fill="none" stroke="#36d848" stroke-width="2.42" stroke-linecap="round" stroke-linejoin="round" stroke-opacity="0.69"/><path d="M8.97,22.47 L7.6,24.41 L7.11,26.26 L8.17,28.93 L9.01,31.28" fill="none" stroke="#36d848" stroke-width="2.58" stroke-linecap="round" stroke-linejoin="round" stroke-opacity="0.87"/><path d="M40.72,2.88 L38.59,1.68 L35.67,1.89" fill="none" stroke="#36d848" stroke-width="2.64" stroke-linecap="round" stroke-linejoin="round" stroke-opacity="0.97"/><path d="M15.51,23.67 L17.98,25.94 L20.31,26.15 L21.78,25.13 L22.4,23.61" fill="none" stroke="#36d848" stroke-width="2.41" stroke-linecap="round" stroke-linejoin="round"/><path d="M27.66,5.83 L29,8.66 L28.17,11.33" fill="none" stroke="#36d848" stroke-width="2.51" stroke-linecap="round" stroke-linejoin="round" stroke-opacity="0.9"/><path d="M15.12,12.47 L14.85,9.77 L14.82,8.27 L14.11,6.79" fill="none" stroke="#36d848" stroke-width="2.3" stroke-linecap="round" stroke-linejoin="round" stroke-opacity="0.68"/><path d="M21.16,16.85 L18.33,16.82 L15.86,14.96" fill="none" stroke="#36d848" stroke-width="2.54" stroke-linecap="round" stroke-linejoin="round" stroke-opacity="0.62"/><path d="M37.48,24.89 L34.88,23.85 L33.14,24.51 L31.07,25.28" fill="none" stroke="#36d848" stroke-width="2.14" stroke-linecap="round" stroke-linejoin="round" stroke-opacity="0.96"/><path d="M23.37,7.27 L24.13,4.8 L26.31,2.77" fill="none" stroke="#36d848" stroke-width="1.68" stroke-linecap="round" stroke-linejoin="round" stroke-opacity="0.63"/><g opacity="0.87"><ellipse cx="44.2" cy="0.55" rx="1.61" ry="1.4" fill="#36d848" transform="rotate(146.66638582910994 44.2 0.55)"/><ellipse cx="44.66" cy="1.15" rx="2.06" ry="2.19" fill="#36d848" transform="rotate(142.83250909028533 44.66 1.15)"/><ellipse cx="42.36" cy="0.26" rx="2.25" ry="2.13" fill="#36d848" transform="rotate(106.3049622139637 42.36 0.26)"/></g><g opacity="0.71"><ellipse cx="7.45" cy="36.77" rx="1.02" ry="0.84" fill="#36d848" transform="rotate(38.0972345752308 7.45 36.77)"/><ellipse cx="6.66" cy="37.92" rx="1.33" ry="1.1" fill="#36d848" transform="rotate(44.050826382954476 6.66 37.92)"/><ellipse cx="7.28" cy="36.19" rx="1.9" ry="2.39" fill="#36d848" transform="rotate(24.19994183823802 7.28 36.19)"/></g><g opacity="0.67"><ellipse cx="40.05" cy="19.22" rx="1.32" ry="2.03" fill="#36d848" transform="rotate(15.237735530117533 40.05 19.22)"/><ellipse cx="40.85" cy="19.12" rx="0.8" ry="0.98" fill="#36d848" transform="rotate(35.56766466028131 40.85 19.12)"/><ellipse cx="40.42" cy="20.02" rx="0.97" ry="1.78" fill="#36d848" transform="rotate(171.35399604911504 40.42 20.02)"/></g><g opacity="0.72"><ellipse cx="15.76" cy="1.23" rx="1.77" ry="2.39" fill="#36d848" transform="rotate(25.4934465931291 15.76 1.23)"/><ellipse cx="16" cy="0.38" rx="1.07" ry="1.05" fill="#36d848" transform="rotate(149.85340548642262 16 0.38)"/><ellipse cx="16.19" cy="0.21" rx="1.48" ry="2.37" fill="#36d848" transform="rotate(150.91861033532751 16.19 0.21)"/></g><g opacity="1.0"><ellipse cx="44.5" cy="55.67" rx="1.45" ry="0.83" fill="#36d848" transform="rotate(28.548132190404296 44.5 55.67)"/><ellipse cx="44.84" cy="54.14" rx="1.06" ry="1.14" fill="#36d848" transform="rotate(156.97954970080684 44.84 54.14)"/><ellipse cx="44.17" cy="55.88" rx="1.84" ry="1.99" fill="#36d848" transform="rotate(55.19607499363621 44.17 55.88)"/></g><g opacity="0.78"><ellipse cx="36.88" cy="4.49" rx="1.79" ry="1.36" fill="#36d848" transform="rotate(115.13848679874933 36.88 4.49)"/><ellipse cx="36.66" cy="2.77" rx="2.16" ry="1.55" fill="#36d848" transform="rotate(112.96048881589724 36.66 2.77)"/><ellipse cx="37.3" cy="4.27" rx="1.37" ry="1.1" fill="#36d848" transform="rotate(164.00805849291592 37.3 4.27)"/></g><g opacity="0.84"><ellipse cx="12.51" cy="52.73" rx="2.1" ry="2.23" fill="#36d848" transform="rotate(65.09477568658575 12.51 52.73)"/><ellipse cx="11.64" cy="52.37" rx="1.68" ry="1.34" fill="#36d848" transform="rotate(121.49019192926976 11.64 52.37)"/><ellipse cx="12.24" cy="52" rx="1.33" ry="1.12" fill="#36d848" transform="rotate(91.78987845619548 12.24 52)"/></g><g opacity="0.65"><ellipse cx="28.54" cy="27.59" rx="2.17" ry="1.27" fill="#36d848" transform="rotate(59.54121375994896 28.54 27.59)"/><ellipse cx="28.73" cy="27" rx="1.54" ry="1.19" fill="#36d848" transform="rotate(9.231314133151994 28.73 27)"/><ellipse cx="29.13" cy="28.24" rx="1.15" ry="1.46" fill="#36d848" transform="rotate(108.04186700542907 29.13 28.24)"/></g><g opacity="0.72"><ellipse cx="46.27" cy="51.76" rx="2.08" ry="2.34" fill="#36d848" transform="rotate(172.2736471011247 46.27 51.76)"/><ellipse cx="47.28" cy="53.03" rx="1.87" ry="1.25" fill="#36d848" transform="rotate(29.541688417942837 47.28 53.03)"/><ellipse cx="46.8" cy="52.78" rx="1.85" ry="1.57" fill="#36d848" transform="rotate(167.03488982766117 46.8 52.78)"/></g><g opacity="0.86"><ellipse cx="52.24" cy="26.85" rx="2.31" ry="1.93" fill="#36d848" transform="rotate(118.80958506849844 52.24 26.85)"/><ellipse cx="53.82" cy="27.93" rx="1.81" ry="2.75" fill="#36d848" transform="rotate(143.0826849825478 53.82 27.93)"/><ellipse cx="52.85" cy="25.85" rx="0.9" ry="1.21" fill="#36d848" transform="rotate(25.297887326147915 52.85 25.85)"/></g><ellipse cx="20.84" cy="13.9" rx="0.83" ry="0.61" fill="#36d848" opacity="0.66"/><ellipse cx="39.36" cy="17.97" rx="0.74" ry="0.79" fill="#36d848" opacity="0.39"/><ellipse cx="1.15" cy="3.57" rx="0.93" ry="0.92" fill="#36d848" opacity="0.62"/><ellipse cx="40.19" cy="6.65" rx="0.67" ry="0.77" fill="#36d848" opacity="0.32"/><ellipse cx="21.6" cy="22.05" rx="0.82" ry="0.86" fill="#36d848" opacity="0.43"/><ellipse cx="13.1" cy="30.06" rx="0.72" ry="0.99" fill="#36d848" opacity="0.77"/><ellipse cx="10.13" cy="19.5" rx="0.8" ry="0.88" fill="#36d848" opacity="0.54"/><ellipse cx="53.19" cy="2.44" rx="0.85" ry="0.89" fill="#36d848" opacity="0.74"/><ellipse cx="21.27" cy="24.99" rx="0.9" ry="0.78" fill="#36d848" opacity="0.54"/><ellipse cx="55.38" cy="9.58" rx="0.96" ry="0.85" fill="#36d848" opacity="0.78"/><ellipse cx="5.26" cy="24.72" rx="0.57" ry="0.89" fill="#36d848" opacity="0.58"/><ellipse cx="34.08" cy="10.64" rx="0.75" ry="0.57" fill="#36d848" opacity="0.66"/><ellipse cx="48.78" cy="38.2" rx="0.99" ry="0.89" fill="#36d848" opacity="0.77"/><ellipse cx="18.15" cy="44.73" rx="0.5" ry="0.65" fill="#36d848" opacity="0.45"/><ellipse cx="0.28" cy="30.26" rx="0.96" ry="0.54" fill="#36d848" opacity="0.53"/><ellipse cx="31.59" cy="10.03" rx="0.94" ry="0.59" fill="#36d848" opacity="0.47"/><ellipse cx="14.89" cy="2" rx="0.64" ry="0.56" fill="#36d848" opacity="0.79"/><ellipse cx="51.25" cy="23.3" rx="0.75" ry="0.51" fill="#36d848" opacity="0.77"/><ellipse cx="2.49" cy="37.44" rx="0.68" ry="0.67" fill="#36d848" opacity="0.48"/><ellipse cx="41.43" cy="17.54" rx="0.63" ry="0.56" fill="#36d848" opacity="0.38"/><ellipse cx="44.14" cy="44.64" rx="0.73" ry="0.95" fill="#36d848" opacity="0.36"/><ellipse cx="5.47" cy="5.15" rx="0.58" ry="0.59" fill="#36d848" opacity="0.7"/><ellipse cx="9.58" cy="30.22" rx="0.89" ry="0.59" fill="#36d848" opacity="0.8"/><ellipse cx="6.12" cy="35.3" rx="0.99" ry="0.58" fill="#36d848" opacity="0.72"/><ellipse cx="44.89" cy="25.94" rx="0.56" ry="0.69" fill="#36d848" opacity="0.34"/><ellipse cx="29.03" cy="16.36" rx="0.54" ry="0.97" fill="#36d848" opacity="0.56"/><ellipse cx="38.32" cy="13.96" rx="0.75" ry="0.74" fill="#36d848" opacity="0.71"/><ellipse cx="6.56" cy="18.92" rx="0.77" ry="0.78" fill="#36d848" opacity="0.46"/><ellipse cx="29.67" cy="3.66" rx="0.66" ry="0.57" fill="#36d848" opacity="0.45"/><ellipse cx="36.52" cy="23.84" rx="0.96" ry="0.9" fill="#36d848" opacity="0.41"/><ellipse cx="7.92" cy="33.35" rx="0.65" ry="0.74" fill="#36d848" opacity="0.34"/><ellipse cx="30.85" cy="42.46" rx="0.69" ry="0.88" fill="#36d848" opacity="0.73"/><ellipse cx="55.05" cy="46.16" rx="0.85" ry="0.56" fill="#36d848" opacity="0.59"/><ellipse cx="18.43" cy="23.98" rx="0.7" ry="0.74" fill="#36d848" opacity="0.33"/><ellipse cx="37.84" cy="14.59" rx="0.63" ry="0.61" fill="#36d848" opacity="0.4"/><ellipse cx="15.02" cy="4.31" rx="0.59" ry="0.73" fill="#36d848" opacity="0.78"/><ellipse cx="13.47" cy="1.29" rx="0.82" ry="0.5" fill="#36d848" opacity="0.4"/><ellipse cx="9.72" cy="40.55" rx="0.65" ry="0.7" fill="#36d848" opacity="0.41"/><ellipse cx="31.18" cy="21.19" rx="0.94" ry="0.71" fill="#36d848" opacity="0.8"/><ellipse cx="7.67" cy="29.47" rx="0.61" ry="0.81" fill="#36d848" opacity="0.74"/><ellipse cx="13.5" cy="15.19" rx="0.65" ry="0.79" fill="#36d848" opacity="0.47"/><ellipse cx="31.16" cy="42.5" rx="0.71" ry="0.89" fill="#36d848" opacity="0.64"/><ellipse cx="35.67" cy="4.81" rx="0.71" ry="0.73" fill="#36d848" opacity="0.42"/><ellipse cx="25.98" cy="10.6" rx="0.86" ry="0.53" fill="#36d848" opacity="0.6"/><ellipse cx="53.4" cy="25.59" rx="0.66" ry="0.5" fill="#36d848" opacity="0.36"/><ellipse cx="18.99" cy="16.6" rx="0.77" ry="0.63" fill="#36d848" opacity="0.46"/><ellipse cx="28.48" cy="13.1" rx="0.64" ry="0.67" fill="#36d848" opacity="0.73"/><ellipse cx="44.2" cy="38.15" rx="0.7" ry="0.79" fill="#36d848" opacity="0.46"/><ellipse cx="41.23" cy="44.72" rx="0.91" ry="0.63" fill="#36d848" opacity="0.71"/><ellipse cx="0.05" cy="37.48" rx="0.98" ry="0.93" fill="#36d848" opacity="0.37"/><ellipse cx="30.75" cy="53.65" rx="1" ry="0.77" fill="#36d848" opacity="0.5"/><ellipse cx="23.6" cy="22.22" rx="0.8" ry="0.69" fill="#36d848" opacity="0.73"/><ellipse cx="37.5" cy="18.07" rx="0.62" ry="0.51" fill="#36d848" opacity="0.65"/><ellipse cx="5.67" cy="46.05" rx="0.75" ry="0.61" fill="#36d848" opacity="0.75"/><ellipse cx="51.8" cy="11.95" rx="0.81" ry="0.75" fill="#36d848" opacity="0.34"/><ellipse cx="39.61" cy="50.96" rx="0.52" ry="0.9" fill="#36d848" opacity="0.43"/><ellipse cx="27.81" cy="23.19" rx="0.97" ry="0.93" fill="#36d848" opacity="0.4"/><ellipse cx="51.9" cy="35.21" rx="0.92" ry="0.81" fill="#36d848" opacity="0.37"/><ellipse cx="22.89" cy="52.15" rx="0.61" ry="0.67" fill="#36d848" opacity="0.39"/><ellipse cx="37.87" cy="27.36" rx="0.51" ry="0.66" fill="#36d848" opacity="0.48"/><ellipse cx="52.41" cy="27.88" rx="0.71" ry="0.87" fill="#36d848" opacity="0.31"/><ellipse cx="11.44" cy="0.52" rx="0.67" ry="0.98" fill="#36d848" opacity="0.54"/><ellipse cx="44.28" cy="6.63" rx="0.93" ry="1" fill="#36d848" opacity="0.44"/><ellipse cx="4.89" cy="22.98" rx="0.53" ry="0.54" fill="#36d848" opacity="0.42"/><ellipse cx="37.17" cy="4.53" rx="0.65" ry="0.61" fill="#36d848" opacity="0.7"/><ellipse cx="17.87" cy="32.46" rx="0.59" ry="0.83" fill="#36d848" opacity="0.55"/><ellipse cx="52.71" cy="17.71" rx="0.93" ry="0.97" fill="#36d848" opacity="0.79"/><ellipse cx="18.95" cy="35.86" rx="0.97" ry="0.78" fill="#36d848" opacity="0.38"/><ellipse cx="1.97" cy="0.81" rx="0.81" ry="0.57" fill="#36d848" opacity="0.75"/><ellipse cx="24.29" cy="26.19" rx="0.97" ry="0.96" fill="#36d848" opacity="0.55"/><ellipse cx="36.01" cy="48.75" rx="0.88" ry="0.51" fill="#36d848" opacity="0.63"/><ellipse cx="8.41" cy="8.2" rx="0.81" ry="0.77" fill="#36d848" opacity="0.45"/><ellipse cx="53.29" cy="21.08" rx="0.81" ry="0.58" fill="#36d848" opacity="0.33"/><ellipse cx="23.88" cy="30.4" rx="0.55" ry="0.61" fill="#36d848" opacity="0.46"/><ellipse cx="43.99" cy="20.05" rx="0.66" ry="0.61" fill="#36d848" opacity="0.73"/><ellipse cx="42.58" cy="20.07" rx="0.67" ry="0.88" fill="#36d848" opacity="0.68"/><ellipse cx="8.88" cy="2.84" rx="0.63" ry="0.68" fill="#36d848" opacity="0.77"/><ellipse cx="37.52" cy="49.84" rx="0.53" ry="0.88" fill="#36d848" opacity="0.36"/><ellipse cx="52.35" cy="18.36" rx="0.78" ry="0.91" fill="#36d848" opacity="0.5"/><ellipse cx="14.28" cy="54.99" rx="0.77" ry="0.81" fill="#36d848" opacity="0.62"/></g>
<g id="i_cd1"><path d="M29,2.5 L37,2.2 L45,3" fill="none" stroke="#2aa844" stroke-width="1.8" stroke-linecap="round" stroke-linejoin="round"/><path d="M17.6,14.7 L21.6,15.2" fill="none" stroke="#2aa844" stroke-width="2.2" stroke-linecap="round" stroke-linejoin="round"/><path d="M23.5,15.7 L28.4,16" fill="none" stroke="#2aa844" stroke-width="2" stroke-linecap="round" stroke-linejoin="round"/><ellipse cx="9.3" cy="13.2" rx="1.5" ry="1.5" fill="#2aa844"/><path d="M41,17.6 L45,17.8" fill="none" stroke="#2aa844" stroke-width="2.2" stroke-linecap="round" stroke-linejoin="round"/><ellipse cx="33.8" cy="11.8" rx="1.2" ry="1.2" fill="#2aa844"/><ellipse cx="47.5" cy="12.7" rx="1.2" ry="1.5" fill="#2aa844"/><ellipse cx="13.7" cy="22.5" rx="1.3" ry="1.3" fill="#2aa844"/><path d="M18.6,23.5 L23.5,26.5" fill="none" stroke="#2aa844" stroke-width="1.8" stroke-linecap="round" stroke-linejoin="round"/><ellipse cx="4.4" cy="28.9" rx="1.7" ry="1.3" fill="#2aa844"/><ellipse cx="10.8" cy="30.9" rx="1.5" ry="1.3" fill="#2aa844"/><ellipse cx="19.6" cy="31.4" rx="1.2" ry="1.2" fill="#2aa844"/><path d="M28.4,28.9 L32,28.4 L37.3,28.5" fill="none" stroke="#2aa844" stroke-width="1.7" stroke-linecap="round" stroke-linejoin="round"/><ellipse cx="2.5" cy="34.3" rx="1.7" ry="1.3" fill="#2aa844"/><ellipse cx="9.3" cy="35.8" rx="1.5" ry="1.3" fill="#2aa844"/><path d="M26.5,42 L31,43.2 L37.3,43.6" fill="none" stroke="#2aa844" stroke-width="1.9" stroke-linecap="round" stroke-linejoin="round"/><ellipse cx="11.8" cy="43.6" rx="1.3" ry="1.1" fill="#2aa844"/><path d="M3,46.6 L7.8,46" fill="none" stroke="#2aa844" stroke-width="1.8" stroke-linecap="round" stroke-linejoin="round"/><ellipse cx="47" cy="39.7" rx="1.2" ry="1.2" fill="#2aa844"/><ellipse cx="0.5" cy="18.6" rx="0.8" ry="1.2" fill="#2aa844"/><g opacity="0.88"><ellipse cx="40.44" cy="10.53" rx="0.52" ry="0.53" fill="#2aa844" transform="rotate(75.89610085364704 40.44 10.53)"/><ellipse cx="40.66" cy="10.36" rx="0.51" ry="0.47" fill="#2aa844" transform="rotate(39.74194470892313 40.66 10.36)"/></g><g opacity="0.64"><ellipse cx="34.89" cy="44.51" rx="0.67" ry="0.85" fill="#2aa844" transform="rotate(73.3399134243248 34.89 44.51)"/><ellipse cx="35.39" cy="43.78" rx="0.62" ry="0.82" fill="#2aa844" transform="rotate(38.7503193418319 35.39 43.78)"/></g><g opacity="0.88"><ellipse cx="11.36" cy="46.68" rx="0.59" ry="0.58" fill="#2aa844" transform="rotate(124.73507787404579 11.36 46.68)"/><ellipse cx="11.64" cy="46.59" rx="0.97" ry="0.58" fill="#2aa844" transform="rotate(122.82370282984405 11.64 46.59)"/></g><g opacity="0.81"><ellipse cx="35.58" cy="7.82" rx="0.51" ry="0.56" fill="#2aa844" transform="rotate(175.30267553733324 35.58 7.82)"/><ellipse cx="35.01" cy="7.79" rx="0.78" ry="0.47" fill="#2aa844" transform="rotate(137.54959729502588 35.01 7.79)"/></g><g opacity="0.69"><ellipse cx="19.14" cy="34.23" rx="1.15" ry="0.66" fill="#2aa844" transform="rotate(168.85879813459073 19.14 34.23)"/><ellipse cx="18.68" cy="33.76" rx="0.67" ry="0.55" fill="#2aa844" transform="rotate(10.348347101269912 18.68 33.76)"/></g><g opacity="0.53"><ellipse cx="18.14" cy="42.7" rx="0.82" ry="0.76" fill="#2aa844" transform="rotate(137.05563933504843 18.14 42.7)"/><ellipse cx="18.21" cy="42.75" rx="0.54" ry="0.5" fill="#2aa844" transform="rotate(46.2627759504348 18.21 42.75)"/></g><g opacity="0.55"><ellipse cx="6.08" cy="46.07" rx="0.58" ry="0.66" fill="#2aa844" transform="rotate(168.43449876924714 6.08 46.07)"/><ellipse cx="6.02" cy="45.79" rx="0.44" ry="0.58" fill="#2aa844" transform="rotate(63.09173440029639 6.02 45.79)"/></g><g opacity="0.73"><ellipse cx="9.89" cy="31.3" rx="0.59" ry="0.73" fill="#2aa844" transform="rotate(69.92950001658059 9.89 31.3)"/><ellipse cx="10.52" cy="31.21" rx="0.79" ry="0.54" fill="#2aa844" transform="rotate(149.30138524281017 10.52 31.21)"/></g><g opacity="0.72"><ellipse cx="26.32" cy="28.74" rx="0.4" ry="0.5" fill="#2aa844" transform="rotate(166.17290154119274 26.32 28.74)"/><ellipse cx="26.48" cy="28.91" rx="0.79" ry="0.82" fill="#2aa844" transform="rotate(42.16832602178784 26.48 28.91)"/></g><g opacity="0.53"><ellipse cx="4.39" cy="16.89" rx="0.49" ry="0.53" fill="#2aa844" transform="rotate(103.4048579961813 4.39 16.89)"/><ellipse cx="4.93" cy="16.53" rx="0.56" ry="0.57" fill="#2aa844" transform="rotate(13.333790312015648 4.93 16.53)"/></g><g opacity="0.75"><ellipse cx="0.86" cy="13.16" rx="0.63" ry="0.44" fill="#2aa844" transform="rotate(81.14758775533804 0.86 13.16)"/><ellipse cx="1.11" cy="13.73" rx="0.53" ry="0.77" fill="#2aa844" transform="rotate(34.4274196417151 1.11 13.73)"/></g><g opacity="0.82"><ellipse cx="43.9" cy="12.47" rx="0.85" ry="0.86" fill="#2aa844" transform="rotate(72.76053749685784 43.9 12.47)"/><ellipse cx="44.08" cy="12.5" rx="0.72" ry="0.92" fill="#2aa844" transform="rotate(140.73186775912217 44.08 12.5)"/></g><g opacity="0.67"><ellipse cx="21.4" cy="22.19" rx="0.66" ry="0.73" fill="#2aa844" transform="rotate(132.85134209896398 21.4 22.19)"/><ellipse cx="21.51" cy="21.46" rx="0.8" ry="0.9" fill="#2aa844" transform="rotate(69.2257368089285 21.51 21.46)"/></g><g opacity="0.83"><ellipse cx="23.15" cy="20.8" rx="0.81" ry="0.81" fill="#2aa844" transform="rotate(112.50330557187976 23.15 20.8)"/><ellipse cx="23.09" cy="21.1" rx="0.61" ry="0.78" fill="#2aa844" transform="rotate(74.81318873168493 23.09 21.1)"/></g><g opacity="0.5"><ellipse cx="12.8" cy="0.48" rx="0.61" ry="0.52" fill="#2aa844" transform="rotate(80.90337774158372 12.8 0.48)"/><ellipse cx="12.13" cy="0.4" rx="0.37" ry="0.48" fill="#2aa844" transform="rotate(152.292707921076 12.13 0.4)"/></g><g opacity="0.7"><ellipse cx="23.52" cy="19.07" rx="0.71" ry="0.93" fill="#2aa844" transform="rotate(6.428052711541117 23.52 19.07)"/><ellipse cx="23.7" cy="18.96" rx="0.39" ry="0.54" fill="#2aa844" transform="rotate(55.45212876522703 23.7 18.96)"/></g><g opacity="0.8"><ellipse cx="41.36" cy="43.86" rx="0.46" ry="0.37" fill="#2aa844" transform="rotate(130.95742958358375 41.36 43.86)"/><ellipse cx="42.06" cy="44.35" rx="0.86" ry="0.83" fill="#2aa844" transform="rotate(178.46146540485566 42.06 44.35)"/></g><g opacity="0.62"><ellipse cx="18.86" cy="38" rx="1.08" ry="0.94" fill="#2aa844" transform="rotate(91.79857175250993 18.86 38)"/><ellipse cx="18.51" cy="37.13" rx="0.56" ry="0.42" fill="#2aa844" transform="rotate(3.1407584344447748 18.51 37.13)"/></g><g opacity="0.53"><ellipse cx="29.31" cy="32.8" rx="0.67" ry="0.47" fill="#2aa844" transform="rotate(8.578810676987182 29.31 32.8)"/><ellipse cx="29.09" cy="32.74" rx="0.53" ry="0.81" fill="#2aa844" transform="rotate(151.36305457221525 29.09 32.74)"/></g><g opacity="0.57"><ellipse cx="23.53" cy="24.93" rx="0.81" ry="0.53" fill="#2aa844" transform="rotate(21.90348697067709 23.53 24.93)"/><ellipse cx="23.48" cy="25.58" rx="0.57" ry="0.63" fill="#2aa844" transform="rotate(52.81133578521469 23.48 25.58)"/></g><g opacity="0.74"><ellipse cx="2.48" cy="39.21" rx="0.87" ry="0.63" fill="#2aa844" transform="rotate(159.1199844490004 2.48 39.21)"/><ellipse cx="1.93" cy="39.98" rx="0.82" ry="0.65" fill="#2aa844" transform="rotate(75.55584507394195 1.93 39.98)"/></g><g opacity="0.69"><ellipse cx="30.74" cy="25.26" rx="0.54" ry="0.41" fill="#2aa844" transform="rotate(128.4237845042767 30.74 25.26)"/><ellipse cx="30.47" cy="24.91" rx="0.77" ry="0.85" fill="#2aa844" transform="rotate(171.77147600826518 30.47 24.91)"/></g><ellipse cx="28.83" cy="9.66" rx="0.59" ry="0.58" fill="#2aa844" opacity="0.49"/><ellipse cx="32.91" cy="10.64" rx="0.37" ry="0.39" fill="#2aa844" opacity="0.58"/><ellipse cx="10.53" cy="48.17" rx="0.32" ry="0.36" fill="#2aa844" opacity="0.34"/><ellipse cx="38.19" cy="18.18" rx="0.44" ry="0.4" fill="#2aa844" opacity="0.55"/><ellipse cx="20.03" cy="10.33" rx="0.43" ry="0.39" fill="#2aa844" opacity="0.34"/><ellipse cx="40.84" cy="33.74" rx="0.5" ry="0.56" fill="#2aa844" opacity="0.46"/><ellipse cx="18.81" cy="20.98" rx="0.42" ry="0.5" fill="#2aa844" opacity="0.3"/><ellipse cx="23.02" cy="26.54" rx="0.4" ry="0.31" fill="#2aa844" opacity="0.58"/><ellipse cx="0.47" cy="27.99" rx="0.35" ry="0.31" fill="#2aa844" opacity="0.37"/><ellipse cx="3.26" cy="7.48" rx="0.51" ry="0.52" fill="#2aa844" opacity="0.45"/><ellipse cx="32.36" cy="23.57" rx="0.45" ry="0.56" fill="#2aa844" opacity="0.42"/><ellipse cx="43.15" cy="34.28" rx="0.51" ry="0.3" fill="#2aa844" opacity="0.33"/><ellipse cx="1.59" cy="17.15" rx="0.58" ry="0.56" fill="#2aa844" opacity="0.64"/><ellipse cx="5.9" cy="35" rx="0.53" ry="0.54" fill="#2aa844" opacity="0.62"/><ellipse cx="6.96" cy="8.87" rx="0.54" ry="0.52" fill="#2aa844" opacity="0.66"/><ellipse cx="22.15" cy="44.12" rx="0.34" ry="0.59" fill="#2aa844" opacity="0.65"/><ellipse cx="16.74" cy="3.35" rx="0.46" ry="0.51" fill="#2aa844" opacity="0.44"/><ellipse cx="2.85" cy="13.82" rx="0.55" ry="0.33" fill="#2aa844" opacity="0.67"/><ellipse cx="12.4" cy="10.14" rx="0.33" ry="0.59" fill="#2aa844" opacity="0.66"/><ellipse cx="15.83" cy="4.74" rx="0.5" ry="0.57" fill="#2aa844" opacity="0.3"/><ellipse cx="31.4" cy="42.49" rx="0.44" ry="0.47" fill="#2aa844" opacity="0.62"/><ellipse cx="11.83" cy="13.55" rx="0.5" ry="0.47" fill="#2aa844" opacity="0.51"/><ellipse cx="16.58" cy="46.47" rx="0.39" ry="0.5" fill="#2aa844" opacity="0.66"/><ellipse cx="19.88" cy="2.69" rx="0.37" ry="0.32" fill="#2aa844" opacity="0.36"/><ellipse cx="5.97" cy="16.99" rx="0.41" ry="0.43" fill="#2aa844" opacity="0.57"/><ellipse cx="33.56" cy="34.09" rx="0.41" ry="0.5" fill="#2aa844" opacity="0.52"/><ellipse cx="6.33" cy="27.07" rx="0.4" ry="0.5" fill="#2aa844" opacity="0.59"/><ellipse cx="11.94" cy="21.58" rx="0.44" ry="0.39" fill="#2aa844" opacity="0.32"/><ellipse cx="2.46" cy="49.24" rx="0.52" ry="0.43" fill="#2aa844" opacity="0.57"/><ellipse cx="13.34" cy="35.23" rx="0.59" ry="0.53" fill="#2aa844" opacity="0.49"/></g>
<g id="i_cd2"><ellipse cx="5.9" cy="4.9" rx="1.8" ry="2.4" fill="#2aa844"/><path d="M41,4 L47,5" fill="none" stroke="#2aa844" stroke-width="2.4" stroke-linecap="round" stroke-linejoin="round"/><ellipse cx="42" cy="10.8" rx="2" ry="1.9" fill="#2aa844"/><ellipse cx="8.3" cy="19.6" rx="1.6" ry="1.5" fill="#2aa844"/><ellipse cx="19.6" cy="20.6" rx="1.8" ry="1.5" fill="#2aa844"/><ellipse cx="25.5" cy="21" rx="1.1" ry="1" fill="#2aa844"/><ellipse cx="38.2" cy="19.1" rx="1.6" ry="1.8" fill="#2aa844"/><ellipse cx="11.3" cy="26.5" rx="2.6" ry="1.9" fill="#2aa844"/><ellipse cx="36.3" cy="26.5" rx="2.4" ry="1.9" fill="#2aa844"/><ellipse cx="44" cy="24" rx="2" ry="2.4" fill="#2aa844" transform="rotate(-30 44 24)"/><ellipse cx="12.7" cy="33.8" rx="2.5" ry="1.8" fill="#2aa844"/><ellipse cx="22" cy="34.8" rx="1.8" ry="1.6" fill="#2aa844"/><ellipse cx="28.4" cy="33.8" rx="1.6" ry="1.5" fill="#2aa844"/><ellipse cx="34.3" cy="35.8" rx="2.6" ry="1.8" fill="#2aa844"/><ellipse cx="30.9" cy="40.2" rx="1.5" ry="1.6" fill="#2aa844"/><ellipse cx="7.4" cy="43.1" rx="1.5" ry="1.3" fill="#2aa844"/><ellipse cx="38.2" cy="45" rx="1.8" ry="1.5" fill="#2aa844"/><ellipse cx="48" cy="43" rx="1.5" ry="1.6" fill="#2aa844"/><ellipse cx="0.2" cy="22.5" rx="0.8" ry="1.6" fill="#2aa844"/><ellipse cx="7.35" cy="30.55" rx="0.37" ry="0.59" fill="#2aac46" opacity="0.48"/><ellipse cx="19.06" cy="30.63" rx="0.53" ry="0.32" fill="#2aac46" opacity="0.46"/><ellipse cx="30.74" cy="25.77" rx="0.65" ry="0.59" fill="#2aac46" opacity="0.41"/><ellipse cx="11.25" cy="6.35" rx="0.62" ry="0.58" fill="#2aac46" opacity="0.48"/><ellipse cx="21.91" cy="24.85" rx="0.39" ry="0.51" fill="#2aac46" opacity="0.34"/><ellipse cx="30.81" cy="31.26" rx="0.57" ry="0.4" fill="#2aac46" opacity="0.33"/><ellipse cx="16.52" cy="34.11" rx="0.5" ry="0.6" fill="#2aac46" opacity="0.43"/><ellipse cx="19.76" cy="45.02" rx="0.37" ry="0.38" fill="#2aac46" opacity="0.48"/><ellipse cx="31.32" cy="21.47" rx="0.52" ry="0.48" fill="#2aac46" opacity="0.5"/><ellipse cx="44.09" cy="40.92" rx="0.56" ry="0.49" fill="#2aac46" opacity="0.58"/><ellipse cx="22.18" cy="31.04" rx="0.65" ry="0.57" fill="#2aac46" opacity="0.42"/><ellipse cx="36.85" cy="29.77" rx="0.67" ry="0.55" fill="#2aac46" opacity="0.46"/><ellipse cx="48.31" cy="26.17" rx="0.46" ry="0.68" fill="#2aac46" opacity="0.58"/><ellipse cx="8.53" cy="3.59" rx="0.64" ry="0.65" fill="#2aac46" opacity="0.42"/><ellipse cx="12.63" cy="33.95" rx="0.68" ry="0.39" fill="#2aac46" opacity="0.43"/><ellipse cx="32.87" cy="10.95" rx="0.47" ry="0.36" fill="#2aac46" opacity="0.44"/><ellipse cx="11.4" cy="4" rx="0.46" ry="0.36" fill="#2aac46" opacity="0.34"/><ellipse cx="7.47" cy="20.72" rx="0.43" ry="0.59" fill="#2aac46" opacity="0.42"/><ellipse cx="12.06" cy="9.33" rx="0.42" ry="0.6" fill="#2aac46" opacity="0.36"/><ellipse cx="23.08" cy="40.01" rx="0.63" ry="0.48" fill="#2aac46" opacity="0.55"/><g opacity="0.75"><ellipse cx="23.99" cy="32.9" rx="0.59" ry="0.62" fill="#2aac46" transform="rotate(81.86285246079397 23.99 32.9)"/><ellipse cx="23.97" cy="32.83" rx="0.61" ry="0.56" fill="#2aac46" transform="rotate(40.927057207024816 23.97 32.83)"/></g><g opacity="0.57"><ellipse cx="29.4" cy="45.36" rx="0.55" ry="0.46" fill="#2aac46" transform="rotate(121.76961273056554 29.4 45.36)"/><ellipse cx="29.65" cy="45.59" rx="0.62" ry="0.75" fill="#2aac46" transform="rotate(144.46697877770455 29.65 45.59)"/></g><g opacity="0.76"><ellipse cx="2.66" cy="12.31" rx="0.73" ry="0.64" fill="#2aac46" transform="rotate(93.85909514264604 2.66 12.31)"/><ellipse cx="3.13" cy="11.77" rx="0.58" ry="0.68" fill="#2aac46" transform="rotate(38.92297351577268 3.13 11.77)"/></g><g opacity="0.85"><ellipse cx="12.92" cy="28.28" rx="0.41" ry="0.37" fill="#2aac46" transform="rotate(134.60800143001455 12.92 28.28)"/><ellipse cx="13.08" cy="28.25" rx="0.54" ry="0.72" fill="#2aac46" transform="rotate(87.68109477779457 13.08 28.25)"/></g><g opacity="0.53"><ellipse cx="25.39" cy="8.15" rx="0.88" ry="0.62" fill="#2aac46" transform="rotate(70.39266112832752 25.39 8.15)"/><ellipse cx="25.22" cy="8.13" rx="0.74" ry="0.44" fill="#2aac46" transform="rotate(103.57774856821585 25.22 8.13)"/></g><g opacity="0.67"><ellipse cx="37.47" cy="36.79" rx="0.57" ry="0.39" fill="#2aac46" transform="rotate(58.53614114859242 37.47 36.79)"/><ellipse cx="37.22" cy="37.12" rx="0.55" ry="0.59" fill="#2aac46" transform="rotate(174.47160182311515 37.22 37.12)"/></g><g opacity="0.88"><ellipse cx="38.38" cy="13.4" rx="1.01" ry="1.05" fill="#2aac46" transform="rotate(120.7252685667285 38.38 13.4)"/><ellipse cx="38.6" cy="13.59" rx="0.76" ry="0.72" fill="#2aac46" transform="rotate(124.5504332798706 38.6 13.59)"/></g><g opacity="0.74"><ellipse cx="43.84" cy="21.24" rx="0.96" ry="0.81" fill="#2aac46" transform="rotate(82.04900866213261 43.84 21.24)"/><ellipse cx="43.71" cy="21.94" rx="0.59" ry="0.57" fill="#2aac46" transform="rotate(113.1963982412395 43.71 21.94)"/></g><g opacity="0.53"><ellipse cx="23.87" cy="15.4" rx="0.71" ry="0.55" fill="#2aac46" transform="rotate(11.956411030282279 23.87 15.4)"/><ellipse cx="23.97" cy="15.64" rx="0.55" ry="0.61" fill="#2aac46" transform="rotate(27.387389354431456 23.97 15.64)"/></g><g opacity="0.66"><ellipse cx="10.44" cy="34.67" rx="0.83" ry="0.51" fill="#2aac46" transform="rotate(105.59159176812187 10.44 34.67)"/><ellipse cx="10.21" cy="35.23" rx="0.65" ry="0.61" fill="#2aac46" transform="rotate(118.8114417957274 10.21 35.23)"/></g><g opacity="0.54"><ellipse cx="45.82" cy="2.65" rx="0.9" ry="0.79" fill="#2aac46" transform="rotate(126.76701081352071 45.82 2.65)"/><ellipse cx="46.62" cy="2.75" rx="0.54" ry="0.52" fill="#2aac46" transform="rotate(144.36769753043544 46.62 2.75)"/></g><g opacity="0.59"><ellipse cx="48.76" cy="18.8" rx="0.63" ry="0.62" fill="#2aac46" transform="rotate(32.38481485868467 48.76 18.8)"/><ellipse cx="49.28" cy="18.63" rx="0.61" ry="0.61" fill="#2aac46" transform="rotate(156.84949616275455 49.28 18.63)"/></g><g opacity="0.73"><ellipse cx="0.23" cy="42.57" rx="0.67" ry="1.05" fill="#2aac46" transform="rotate(105.99731990573193 0.23 42.57)"/><ellipse cx="0.66" cy="43.02" rx="0.76" ry="0.59" fill="#2aac46" transform="rotate(12.53825871219619 0.66 43.02)"/></g><g opacity="0.79"><ellipse cx="4.02" cy="1.65" rx="0.62" ry="0.61" fill="#2aac46" transform="rotate(65.62369866499768 4.02 1.65)"/><ellipse cx="3.21" cy="1.57" rx="0.69" ry="0.57" fill="#2aac46" transform="rotate(102.93995137663191 3.21 1.57)"/></g></g>
<g id="i_cd3"><path d="M4.9,4.9 L9.8,2 L28.4,1.5 L29.4,5.9 L33.3,8.8 L37.3,11.8 L41.2,17.6 L46,21.6 L50,23.5 L50,50 L27.5,50 L19.6,42.2 L15.7,35.3 L11.8,28.4 L5.9,24.5 L4.9,17.6 L4.4,9.8 Z" fill="#2aac46" opacity="0.95"/><ellipse cx="4.78" cy="5.26" rx="1.29" ry="1.29" fill="#2aac46" opacity="0.95"/><ellipse cx="7.3" cy="3.13" rx="1.47" ry="1.47" fill="#2aac46" opacity="0.95"/><ellipse cx="9.51" cy="2.57" rx="1.04" ry="1.04" fill="#2aac46" opacity="0.95"/><ellipse cx="12.42" cy="1.46" rx="1.25" ry="1.25" fill="#2aac46" opacity="0.95"/><ellipse cx="14" cy="2.43" rx="1.64" ry="1.64" fill="#2aac46" opacity="0.95"/><ellipse cx="15.77" cy="1.99" rx="1.66" ry="1.66" fill="#2aac46" opacity="0.95"/><ellipse cx="17.68" cy="2.16" rx="1.61" ry="1.61" fill="#2aac46" opacity="0.95"/><ellipse cx="20.69" cy="1.39" rx="1.54" ry="1.54" fill="#2aac46" opacity="0.95"/><ellipse cx="22.15" cy="2.21" rx="1.57" ry="1.57" fill="#2aac46" opacity="0.95"/><ellipse cx="23.69" cy="2.14" rx="1.62" ry="1.62" fill="#2aac46" opacity="0.95"/><ellipse cx="26.07" cy="2.11" rx="0.96" ry="0.96" fill="#2aac46" opacity="0.95"/><ellipse cx="28.93" cy="1.62" rx="0.82" ry="0.82" fill="#2aac46" opacity="0.95"/><ellipse cx="29.27" cy="3.48" rx="0.87" ry="0.87" fill="#2aac46" opacity="0.95"/><ellipse cx="29" cy="5.4" rx="1.25" ry="1.25" fill="#2aac46" opacity="0.95"/><ellipse cx="31.09" cy="7.85" rx="1.18" ry="1.18" fill="#2aac46" opacity="0.95"/><ellipse cx="32.83" cy="8.2" rx="1.51" ry="1.51" fill="#2aac46" opacity="0.95"/><ellipse cx="34.83" cy="10.85" rx="1.55" ry="1.55" fill="#2aac46" opacity="0.95"/><ellipse cx="37.38" cy="11.89" rx="1.08" ry="1.08" fill="#2aac46" opacity="0.95"/><ellipse cx="39.08" cy="13.5" rx="0.94" ry="0.94" fill="#2aac46" opacity="0.95"/><ellipse cx="39.99" cy="16.1" rx="1.77" ry="1.77" fill="#2aac46" opacity="0.95"/><ellipse cx="41.06" cy="17.29" rx="1.26" ry="1.26" fill="#2aac46" opacity="0.95"/><ellipse cx="42.33" cy="19.05" rx="1.02" ry="1.02" fill="#2aac46" opacity="0.95"/><ellipse cx="44.16" cy="20.61" rx="1.74" ry="1.74" fill="#2aac46" opacity="0.95"/><ellipse cx="46.14" cy="21.34" rx="1.75" ry="1.75" fill="#2aac46" opacity="0.95"/><ellipse cx="48.11" cy="22.61" rx="1.2" ry="1.2" fill="#2aac46" opacity="0.95"/><ellipse cx="50.39" cy="23.29" rx="0.96" ry="0.96" fill="#2aac46" opacity="0.95"/><ellipse cx="49.83" cy="25.32" rx="0.96" ry="0.96" fill="#2aac46" opacity="0.95"/><ellipse cx="49.55" cy="27.81" rx="1.04" ry="1.04" fill="#2aac46" opacity="0.95"/><ellipse cx="50.44" cy="29.8" rx="1.64" ry="1.64" fill="#2aac46" opacity="0.95"/><ellipse cx="50.2" cy="31.12" rx="1.61" ry="1.61" fill="#2aac46" opacity="0.95"/><ellipse cx="49.43" cy="33.59" rx="1.64" ry="1.64" fill="#2aac46" opacity="0.95"/><ellipse cx="50.06" cy="36.22" rx="1.31" ry="1.31" fill="#2aac46" opacity="0.95"/><ellipse cx="50.33" cy="37.65" rx="1.14" ry="1.14" fill="#2aac46" opacity="0.95"/><ellipse cx="50.17" cy="39.78" rx="1.15" ry="1.15" fill="#2aac46" opacity="0.95"/><ellipse cx="50.35" cy="41.72" rx="1.74" ry="1.74" fill="#2aac46" opacity="0.95"/><ellipse cx="50.02" cy="43.78" rx="1.75" ry="1.75" fill="#2aac46" opacity="0.95"/><ellipse cx="50.04" cy="45.79" rx="1.41" ry="1.41" fill="#2aac46" opacity="0.95"/><ellipse cx="50" cy="47.41" rx="1.03" ry="1.03" fill="#2aac46" opacity="0.95"/><ellipse cx="49.75" cy="50.14" rx="1.26" ry="1.26" fill="#2aac46" opacity="0.95"/><ellipse cx="47.85" cy="49.81" rx="1.59" ry="1.59" fill="#2aac46" opacity="0.95"/><ellipse cx="45.74" cy="49.63" rx="1" ry="1" fill="#2aac46" opacity="0.95"/><ellipse cx="44.21" cy="49.78" rx="1.14" ry="1.14" fill="#2aac46" opacity="0.95"/><ellipse cx="41.38" cy="49.45" rx="1.76" ry="1.76" fill="#2aac46" opacity="0.95"/><ellipse cx="39.21" cy="49.7" rx="1.03" ry="1.03" fill="#2aac46" opacity="0.95"/><ellipse cx="37.45" cy="50.43" rx="0.86" ry="0.86" fill="#2aac46" opacity="0.95"/><ellipse cx="36.23" cy="49.98" rx="1.28" ry="1.28" fill="#2aac46" opacity="0.95"/><ellipse cx="33.65" cy="50.46" rx="0.96" ry="0.96" fill="#2aac46" opacity="0.95"/><ellipse cx="31.56" cy="49.63" rx="1.5" ry="1.5" fill="#2aac46" opacity="0.95"/><ellipse cx="29.22" cy="50.44" rx="1.37" ry="1.37" fill="#2aac46" opacity="0.95"/><ellipse cx="28.09" cy="50.5" rx="1.46" ry="1.46" fill="#2aac46" opacity="0.95"/><ellipse cx="25.34" cy="48.29" rx="1.47" ry="1.47" fill="#2aac46" opacity="0.95"/><ellipse cx="24.39" cy="47" rx="0.94" ry="0.94" fill="#2aac46" opacity="0.95"/><ellipse cx="22.29" cy="45.3" rx="1.5" ry="1.5" fill="#2aac46" opacity="0.95"/><ellipse cx="20.61" cy="44.11" rx="1.1" ry="1.1" fill="#2aac46" opacity="0.95"/><ellipse cx="19.39" cy="42.29" rx="1.4" ry="1.4" fill="#2aac46" opacity="0.95"/><ellipse cx="17.92" cy="40.09" rx="1.63" ry="1.63" fill="#2aac46" opacity="0.95"/><ellipse cx="16.79" cy="38.11" rx="1.61" ry="1.61" fill="#2aac46" opacity="0.95"/><ellipse cx="16.11" cy="35.37" rx="1.39" ry="1.39" fill="#2aac46" opacity="0.95"/><ellipse cx="13.82" cy="32.98" rx="1.8" ry="1.8" fill="#2aac46" opacity="0.95"/><ellipse cx="13.67" cy="30.16" rx="1.78" ry="1.78" fill="#2aac46" opacity="0.95"/><ellipse cx="11.41" cy="28.31" rx="0.97" ry="0.97" fill="#2aac46" opacity="0.95"/><ellipse cx="9.48" cy="27.24" rx="1.64" ry="1.64" fill="#2aac46" opacity="0.95"/><ellipse cx="7.7" cy="26.1" rx="1.31" ry="1.31" fill="#2aac46" opacity="0.95"/><ellipse cx="5.51" cy="24.02" rx="1.61" ry="1.61" fill="#2aac46" opacity="0.95"/><ellipse cx="5.51" cy="22.76" rx="1.1" ry="1.1" fill="#2aac46" opacity="0.95"/><ellipse cx="4.75" cy="20.36" rx="1.58" ry="1.58" fill="#2aac46" opacity="0.95"/><ellipse cx="5.49" cy="17.38" rx="1.67" ry="1.67" fill="#2aac46" opacity="0.95"/><ellipse cx="4.37" cy="15.44" rx="1.45" ry="1.45" fill="#2aac46" opacity="0.95"/><ellipse cx="4.3" cy="11.99" rx="1.34" ry="1.34" fill="#2aac46" opacity="0.95"/><ellipse cx="4.6" cy="9.8" rx="1.71" ry="1.71" fill="#2aac46" opacity="0.95"/><ellipse cx="4.29" cy="7.2" rx="0.86" ry="0.86" fill="#2aac46" opacity="0.95"/><ellipse cx="47.16" cy="23.53" rx="1" ry="1.01" fill="#0d5a22" opacity="0.51"/><ellipse cx="11.12" cy="30.12" rx="0.59" ry="0.77" fill="#0d5a22" opacity="0.84"/><ellipse cx="42.89" cy="8.34" rx="0.56" ry="0.66" fill="#0d5a22" opacity="0.81"/><ellipse cx="8.99" cy="13.13" rx="0.58" ry="0.59" fill="#0d5a22" opacity="0.66"/><ellipse cx="15.34" cy="21.42" rx="1.01" ry="1.01" fill="#0d5a22" opacity="0.61"/><ellipse cx="39.45" cy="28.76" rx="1.08" ry="0.67" fill="#0d5a22" opacity="0.58"/><ellipse cx="31.21" cy="45.57" rx="0.93" ry="0.83" fill="#0d5a22" opacity="0.53"/><ellipse cx="19.25" cy="12.71" rx="1.19" ry="1.12" fill="#0d5a22" opacity="0.85"/><ellipse cx="29.14" cy="34.88" rx="0.71" ry="0.84" fill="#0d5a22" opacity="0.47"/><ellipse cx="24.81" cy="14.37" rx="0.57" ry="1.14" fill="#0d5a22" opacity="0.45"/><ellipse cx="40.52" cy="34.48" rx="0.56" ry="0.84" fill="#0d5a22" opacity="0.9"/><ellipse cx="47.47" cy="28.35" rx="1.04" ry="1" fill="#0d5a22" opacity="0.55"/><ellipse cx="30" cy="29.86" rx="0.78" ry="1.07" fill="#0d5a22" opacity="0.62"/><ellipse cx="37.98" cy="5.91" rx="0.81" ry="0.53" fill="#0d5a22" opacity="0.72"/><ellipse cx="42.91" cy="27.46" rx="0.9" ry="0.94" fill="#0d5a22" opacity="0.51"/><ellipse cx="23.45" cy="29.03" rx="0.95" ry="0.77" fill="#0d5a22" opacity="0.64"/><ellipse cx="21.23" cy="27.94" rx="0.97" ry="0.73" fill="#0d5a22" opacity="0.74"/><ellipse cx="41.96" cy="27.14" rx="1.19" ry="0.72" fill="#0d5a22" opacity="0.86"/><ellipse cx="15.28" cy="19.35" rx="1.07" ry="0.52" fill="#0d5a22" opacity="0.71"/><ellipse cx="42.85" cy="45.48" rx="0.98" ry="0.74" fill="#0d5a22" opacity="0.57"/><ellipse cx="33.25" cy="6" rx="0.52" ry="1.12" fill="#0d5a22" opacity="0.71"/><ellipse cx="14.51" cy="22.29" rx="0.7" ry="1.11" fill="#0d5a22" opacity="0.54"/><ellipse cx="36.98" cy="36.47" rx="0.72" ry="0.68" fill="#0d5a22" opacity="0.66"/><ellipse cx="23.99" cy="29.73" rx="0.73" ry="1.06" fill="#0d5a22" opacity="0.61"/><ellipse cx="13.45" cy="37.85" rx="1.13" ry="0.98" fill="#0d5a22" opacity="0.67"/><ellipse cx="42.87" cy="45.02" rx="0.51" ry="0.84" fill="#0d5a22" opacity="0.41"/><ellipse cx="21.34" cy="13.88" rx="0.82" ry="0.97" fill="#0d5a22" opacity="0.83"/><ellipse cx="18.43" cy="3.53" rx="1.2" ry="1.05" fill="#0d5a22" opacity="0.68"/><ellipse cx="12.5" cy="5.36" rx="1.15" ry="0.87" fill="#0d5a22" opacity="0.83"/><ellipse cx="39.35" cy="36.8" rx="1.06" ry="0.68" fill="#0d5a22" opacity="0.52"/><ellipse cx="25.35" cy="37.54" rx="1.06" ry="1.03" fill="#0d5a22" opacity="0.69"/><ellipse cx="27.07" cy="11.74" rx="0.97" ry="0.96" fill="#0d5a22" opacity="0.66"/><ellipse cx="37.07" cy="47.07" rx="1.16" ry="0.58" fill="#0d5a22" opacity="0.54"/><ellipse cx="32.52" cy="34.04" rx="0.7" ry="1.15" fill="#0d5a22" opacity="0.63"/><ellipse cx="38.61" cy="5.35" rx="0.7" ry="0.52" fill="#0d5a22" opacity="0.8"/><ellipse cx="28.88" cy="45.88" rx="0.92" ry="0.73" fill="#0d5a22" opacity="0.58"/><ellipse cx="23" cy="11.91" rx="0.58" ry="0.95" fill="#0d5a22" opacity="0.56"/><ellipse cx="26.15" cy="34.91" rx="0.69" ry="0.81" fill="#0d5a22" opacity="0.56"/><ellipse cx="20.96" cy="32.98" rx="0.57" ry="0.78" fill="#0d5a22" opacity="0.45"/><ellipse cx="34.8" cy="16.41" rx="1.18" ry="0.84" fill="#0d5a22" opacity="0.73"/><ellipse cx="28.95" cy="39.89" rx="0.99" ry="0.95" fill="#0d5a22" opacity="0.42"/><ellipse cx="13.68" cy="36.79" rx="0.79" ry="1.18" fill="#0d5a22" opacity="0.72"/><ellipse cx="40.93" cy="36.53" rx="1.17" ry="0.96" fill="#0d5a22" opacity="0.87"/><ellipse cx="25.03" cy="15.03" rx="0.58" ry="0.68" fill="#0d5a22" opacity="0.85"/><ellipse cx="34.32" cy="4.95" rx="0.52" ry="0.82" fill="#0d5a22" opacity="0.67"/><ellipse cx="22.44" cy="3.89" rx="0.68" ry="1.11" fill="#0d5a22" opacity="0.76"/><ellipse cx="40.74" cy="15.13" rx="0.97" ry="0.64" fill="#0d5a22" opacity="0.55"/><ellipse cx="46.25" cy="12.6" rx="0.7" ry="0.65" fill="#0d5a22" opacity="0.83"/><ellipse cx="35.49" cy="29.59" rx="1.1" ry="0.82" fill="#0d5a22" opacity="0.86"/><ellipse cx="39.08" cy="16.47" rx="0.67" ry="0.88" fill="#0d5a22" opacity="0.62"/><ellipse cx="39.59" cy="32.35" rx="1.02" ry="0.92" fill="#0d5a22" opacity="0.53"/><ellipse cx="37.76" cy="47.17" rx="0.95" ry="1" fill="#0d5a22" opacity="0.52"/><ellipse cx="12.72" cy="23.16" rx="0.92" ry="1.01" fill="#0d5a22" opacity="0.64"/><ellipse cx="29.75" cy="6.98" rx="0.53" ry="0.59" fill="#0d5a22" opacity="0.56"/><ellipse cx="17.73" cy="9.43" rx="0.74" ry="0.74" fill="#0d5a22" opacity="0.81"/><ellipse cx="45.41" cy="47.72" rx="1.02" ry="0.51" fill="#0d5a22" opacity="0.52"/><ellipse cx="47.96" cy="34.31" rx="1.1" ry="0.64" fill="#0d5a22" opacity="0.52"/><ellipse cx="11.93" cy="26.62" rx="0.76" ry="0.83" fill="#0d5a22" opacity="0.47"/><ellipse cx="9.03" cy="20.38" rx="1.15" ry="0.96" fill="#0d5a22" opacity="0.69"/><ellipse cx="10.52" cy="22.5" rx="0.76" ry="0.94" fill="#0d5a22" opacity="0.6"/><ellipse cx="9.22" cy="42.04" rx="1.11" ry="0.61" fill="#4ad068" opacity="0.62"/><ellipse cx="17.55" cy="42.68" rx="1.2" ry="0.81" fill="#4ad068" opacity="0.64"/><ellipse cx="27.8" cy="15.67" rx="0.9" ry="0.88" fill="#4ad068" opacity="0.59"/><ellipse cx="46.08" cy="35.88" rx="0.63" ry="0.85" fill="#4ad068" opacity="0.79"/><ellipse cx="38.43" cy="30.29" rx="1.05" ry="1.08" fill="#4ad068" opacity="0.47"/><ellipse cx="24.27" cy="15.5" rx="0.73" ry="1.08" fill="#4ad068" opacity="0.41"/><ellipse cx="15.16" cy="34.95" rx="1.23" ry="0.81" fill="#4ad068" opacity="0.74"/><ellipse cx="41.3" cy="9.91" rx="1.24" ry="0.72" fill="#4ad068" opacity="0.59"/><ellipse cx="11.34" cy="7.27" rx="1.06" ry="1.19" fill="#4ad068" opacity="0.44"/><ellipse cx="21.09" cy="30.5" rx="1.02" ry="0.7" fill="#4ad068" opacity="0.68"/><ellipse cx="12.21" cy="44.99" rx="1.07" ry="1.06" fill="#4ad068" opacity="0.77"/><ellipse cx="17.42" cy="12.04" rx="1.04" ry="1.23" fill="#4ad068" opacity="0.77"/><ellipse cx="39.8" cy="30.1" rx="0.85" ry="1.15" fill="#4ad068" opacity="0.65"/><ellipse cx="43.13" cy="37" rx="0.94" ry="1.05" fill="#4ad068" opacity="0.48"/><ellipse cx="19.34" cy="37.41" rx="1.09" ry="0.62" fill="#4ad068" opacity="0.48"/><ellipse cx="24.78" cy="28.71" rx="0.85" ry="0.86" fill="#4ad068" opacity="0.78"/><ellipse cx="23.44" cy="22.99" rx="1.26" ry="0.83" fill="#4ad068" opacity="0.61"/><ellipse cx="14.71" cy="41.22" rx="1.18" ry="0.77" fill="#4ad068" opacity="0.65"/><ellipse cx="17.65" cy="40.7" rx="0.95" ry="0.8" fill="#4ad068" opacity="0.79"/><ellipse cx="27.35" cy="28.36" rx="1.28" ry="0.8" fill="#4ad068" opacity="0.58"/><ellipse cx="44.27" cy="19.03" rx="1.2" ry="1.03" fill="#4ad068" opacity="0.78"/><ellipse cx="31.31" cy="42.95" rx="0.94" ry="0.76" fill="#4ad068" opacity="0.54"/><ellipse cx="27.63" cy="30.66" rx="0.92" ry="0.85" fill="#4ad068" opacity="0.51"/><ellipse cx="28.34" cy="34.03" rx="1.05" ry="0.62" fill="#4ad068" opacity="0.5"/><ellipse cx="35.03" cy="24.9" rx="0.8" ry="1.01" fill="#4ad068" opacity="0.42"/><ellipse cx="28.31" cy="45.19" rx="0.85" ry="0.71" fill="#4ad068" opacity="0.67"/><ellipse cx="32.22" cy="17.91" rx="0.77" ry="0.6" fill="#4ad068" opacity="0.44"/><ellipse cx="39.8" cy="21.66" rx="1.2" ry="1.28" fill="#4ad068" opacity="0.69"/><ellipse cx="22.22" cy="8.13" rx="1.24" ry="0.72" fill="#4ad068" opacity="0.46"/><ellipse cx="24.82" cy="15.2" rx="0.79" ry="0.72" fill="#4ad068" opacity="0.42"/><ellipse cx="4" cy="29" rx="1" ry="1" fill="#2aac46" opacity="0.5"/></g>
<g id="i_cd4"><path d="M26.5,0 L43,0 L46,4.9 L45,11.8 L50,24.5 L50,50 L37.3,50 L29.4,37.3 L20.6,33.3 L18.6,25.5 L16.2,22.5 L17.6,18.6 L13.7,13.7 L15.7,9.8 L21.6,5.9 Z" fill="#2aac46" opacity="0.9"/><ellipse cx="27.06" cy="0.05" rx="1.35" ry="1.35" fill="#2aac46" opacity="0.9"/><ellipse cx="28.53" cy="-0.37" rx="0.84" ry="0.84" fill="#2aac46" opacity="0.9"/><ellipse cx="30.5" cy="0" rx="1.58" ry="1.58" fill="#2aac46" opacity="0.9"/><ellipse cx="32.49" cy="0.56" rx="0.91" ry="0.91" fill="#2aac46" opacity="0.9"/><ellipse cx="34.94" cy="-0.57" rx="1.02" ry="1.02" fill="#2aac46" opacity="0.9"/><ellipse cx="36.37" cy="0.57" rx="1.48" ry="1.48" fill="#2aac46" opacity="0.9"/><ellipse cx="38.94" cy="0.43" rx="1.75" ry="1.75" fill="#2aac46" opacity="0.9"/><ellipse cx="40.79" cy="0.43" rx="1.09" ry="1.09" fill="#2aac46" opacity="0.9"/><ellipse cx="43.24" cy="0.39" rx="1.18" ry="1.18" fill="#2aac46" opacity="0.9"/><ellipse cx="44.69" cy="2.73" rx="0.89" ry="0.89" fill="#2aac46" opacity="0.9"/><ellipse cx="46.31" cy="4.54" rx="1.09" ry="1.09" fill="#2aac46" opacity="0.9"/><ellipse cx="45.36" cy="6.94" rx="1.74" ry="1.74" fill="#2aac46" opacity="0.9"/><ellipse cx="45.25" cy="9.93" rx="0.94" ry="0.94" fill="#2aac46" opacity="0.9"/><ellipse cx="44.7" cy="11.21" rx="1.27" ry="1.27" fill="#2aac46" opacity="0.9"/><ellipse cx="46.37" cy="13.94" rx="1.52" ry="1.52" fill="#2aac46" opacity="0.9"/><ellipse cx="46.26" cy="15.5" rx="1.02" ry="1.02" fill="#2aac46" opacity="0.9"/><ellipse cx="48.04" cy="18.39" rx="1.73" ry="1.73" fill="#2aac46" opacity="0.9"/><ellipse cx="48.66" cy="19.98" rx="0.99" ry="0.99" fill="#2aac46" opacity="0.9"/><ellipse cx="49.3" cy="21.95" rx="1.28" ry="1.28" fill="#2aac46" opacity="0.9"/><ellipse cx="50.05" cy="24.2" rx="1.77" ry="1.77" fill="#2aac46" opacity="0.9"/><ellipse cx="49.47" cy="27.13" rx="0.84" ry="0.84" fill="#2aac46" opacity="0.9"/><ellipse cx="50.56" cy="28.64" rx="0.95" ry="0.95" fill="#2aac46" opacity="0.9"/><ellipse cx="50.15" cy="31.12" rx="1.2" ry="1.2" fill="#2aac46" opacity="0.9"/><ellipse cx="49.97" cy="33.2" rx="1.07" ry="1.07" fill="#2aac46" opacity="0.9"/><ellipse cx="49.77" cy="35.36" rx="1.26" ry="1.26" fill="#2aac46" opacity="0.9"/><ellipse cx="50.4" cy="37.19" rx="1.53" ry="1.53" fill="#2aac46" opacity="0.9"/><ellipse cx="50.05" cy="39.06" rx="1.16" ry="1.16" fill="#2aac46" opacity="0.9"/><ellipse cx="50.07" cy="41.47" rx="1.5" ry="1.5" fill="#2aac46" opacity="0.9"/><ellipse cx="50.21" cy="43.86" rx="1.04" ry="1.04" fill="#2aac46" opacity="0.9"/><ellipse cx="50.44" cy="46.25" rx="1.16" ry="1.16" fill="#2aac46" opacity="0.9"/><ellipse cx="50.48" cy="47.85" rx="1.07" ry="1.07" fill="#2aac46" opacity="0.9"/><ellipse cx="49.47" cy="50.22" rx="1.49" ry="1.49" fill="#2aac46" opacity="0.9"/><ellipse cx="48.07" cy="49.91" rx="0.9" ry="0.9" fill="#2aac46" opacity="0.9"/><ellipse cx="45.17" cy="50.14" rx="1.45" ry="1.45" fill="#2aac46" opacity="0.9"/><ellipse cx="44.19" cy="50.37" rx="1.35" ry="1.35" fill="#2aac46" opacity="0.9"/><ellipse cx="42.11" cy="49.42" rx="1.74" ry="1.74" fill="#2aac46" opacity="0.9"/><ellipse cx="39.43" cy="49.96" rx="1.42" ry="1.42" fill="#2aac46" opacity="0.9"/><ellipse cx="37.12" cy="50" rx="1.68" ry="1.68" fill="#2aac46" opacity="0.9"/><ellipse cx="36.4" cy="48.68" rx="1.29" ry="1.29" fill="#2aac46" opacity="0.9"/><ellipse cx="34.66" cy="46.36" rx="1.55" ry="1.55" fill="#2aac46" opacity="0.9"/><ellipse cx="33.69" cy="44.7" rx="1.47" ry="1.47" fill="#2aac46" opacity="0.9"/><ellipse cx="32.62" cy="42.14" rx="1.51" ry="1.51" fill="#2aac46" opacity="0.9"/><ellipse cx="31.42" cy="41.51" rx="0.81" ry="0.81" fill="#2aac46" opacity="0.9"/><ellipse cx="30.77" cy="39.22" rx="1.69" ry="1.69" fill="#2aac46" opacity="0.9"/><ellipse cx="29.81" cy="37.75" rx="1.53" ry="1.53" fill="#2aac46" opacity="0.9"/><ellipse cx="27.39" cy="36.58" rx="1.53" ry="1.53" fill="#2aac46" opacity="0.9"/><ellipse cx="24.98" cy="35.15" rx="0.97" ry="0.97" fill="#2aac46" opacity="0.9"/><ellipse cx="22.67" cy="34.33" rx="1.7" ry="1.7" fill="#2aac46" opacity="0.9"/><ellipse cx="20.29" cy="33.77" rx="1.58" ry="1.58" fill="#2aac46" opacity="0.9"/><ellipse cx="19.92" cy="31.56" rx="1.78" ry="1.78" fill="#2aac46" opacity="0.9"/><ellipse cx="20.06" cy="29.71" rx="1.14" ry="1.14" fill="#2aac46" opacity="0.9"/><ellipse cx="18.96" cy="27.32" rx="1.08" ry="1.08" fill="#2aac46" opacity="0.9"/><ellipse cx="18.54" cy="25.9" rx="1.53" ry="1.53" fill="#2aac46" opacity="0.9"/><ellipse cx="15.94" cy="22.69" rx="1.38" ry="1.38" fill="#2aac46" opacity="0.9"/><ellipse cx="16.42" cy="20.23" rx="1.06" ry="1.06" fill="#2aac46" opacity="0.9"/><ellipse cx="17.1" cy="18.82" rx="1.44" ry="1.44" fill="#2aac46" opacity="0.9"/><ellipse cx="16.14" cy="17.49" rx="1.21" ry="1.21" fill="#2aac46" opacity="0.9"/><ellipse cx="14.63" cy="15.25" rx="1.22" ry="1.22" fill="#2aac46" opacity="0.9"/><ellipse cx="13.31" cy="13.52" rx="1.5" ry="1.5" fill="#2aac46" opacity="0.9"/><ellipse cx="14.85" cy="11.26" rx="1.46" ry="1.46" fill="#2aac46" opacity="0.9"/><ellipse cx="15.81" cy="9.32" rx="1.09" ry="1.09" fill="#2aac46" opacity="0.9"/><ellipse cx="17.92" cy="8.85" rx="1.58" ry="1.58" fill="#2aac46" opacity="0.9"/><ellipse cx="19.43" cy="7.66" rx="1.34" ry="1.34" fill="#2aac46" opacity="0.9"/><ellipse cx="21.79" cy="5.65" rx="1.12" ry="1.12" fill="#2aac46" opacity="0.9"/><ellipse cx="22.8" cy="3.49" rx="1.51" ry="1.51" fill="#2aac46" opacity="0.9"/><ellipse cx="24.37" cy="2.16" rx="1.22" ry="1.22" fill="#2aac46" opacity="0.9"/><ellipse cx="37" cy="14" rx="7" ry="6" fill="#0d5a20" opacity="0.3"/><ellipse cx="34" cy="18" rx="4" ry="4" fill="#0d5a20" opacity="0.25"/><ellipse cx="5.4" cy="12.3" rx="1.4" ry="1.4" fill="#2aac46" opacity="0.8"/><ellipse cx="46.88" cy="42.23" rx="1.01" ry="0.66" fill="#0d5a22" opacity="0.53"/><ellipse cx="39.99" cy="39.3" rx="0.51" ry="0.62" fill="#0d5a22" opacity="0.76"/><ellipse cx="23.31" cy="32.49" rx="0.73" ry="0.95" fill="#0d5a22" opacity="0.74"/><ellipse cx="36.28" cy="20.6" rx="0.73" ry="0.93" fill="#0d5a22" opacity="0.65"/><ellipse cx="31.47" cy="23.99" rx="0.88" ry="0.68" fill="#0d5a22" opacity="0.47"/><ellipse cx="35.92" cy="7.51" rx="0.92" ry="1.06" fill="#0d5a22" opacity="0.73"/><ellipse cx="27.06" cy="21.67" rx="1.15" ry="0.74" fill="#0d5a22" opacity="0.8"/><ellipse cx="25.6" cy="40.83" rx="0.53" ry="0.97" fill="#0d5a22" opacity="0.72"/><ellipse cx="35.33" cy="31.47" rx="1.14" ry="1.2" fill="#0d5a22" opacity="0.47"/><ellipse cx="34.64" cy="4.79" rx="0.76" ry="0.6" fill="#0d5a22" opacity="0.46"/><ellipse cx="37.5" cy="6.8" rx="0.61" ry="0.51" fill="#0d5a22" opacity="0.73"/><ellipse cx="26.82" cy="6.25" rx="0.93" ry="1" fill="#0d5a22" opacity="0.65"/><ellipse cx="35.33" cy="27.06" rx="1" ry="0.72" fill="#0d5a22" opacity="0.74"/><ellipse cx="39.43" cy="41.62" rx="1.12" ry="1.09" fill="#0d5a22" opacity="0.61"/><ellipse cx="34.63" cy="36.02" rx="0.91" ry="0.52" fill="#0d5a22" opacity="0.77"/><ellipse cx="25.57" cy="24.8" rx="0.82" ry="0.57" fill="#0d5a22" opacity="0.63"/><ellipse cx="36.53" cy="39.59" rx="0.93" ry="0.71" fill="#0d5a22" opacity="0.63"/><ellipse cx="46.86" cy="31.65" rx="1.09" ry="0.51" fill="#0d5a22" opacity="0.68"/><ellipse cx="25.91" cy="10.33" rx="0.73" ry="0.62" fill="#0d5a22" opacity="0.43"/><ellipse cx="25.91" cy="13.37" rx="0.67" ry="1.06" fill="#0d5a22" opacity="0.43"/><ellipse cx="25.6" cy="5.46" rx="0.85" ry="0.66" fill="#0d5a22" opacity="0.61"/><ellipse cx="26.66" cy="11.84" rx="0.84" ry="0.55" fill="#0d5a22" opacity="0.75"/><ellipse cx="35.75" cy="20.79" rx="0.88" ry="1.16" fill="#0d5a22" opacity="0.6"/><ellipse cx="31.04" cy="12.76" rx="0.77" ry="1.04" fill="#0d5a22" opacity="0.65"/><ellipse cx="27.72" cy="43.43" rx="0.59" ry="0.75" fill="#0d5a22" opacity="0.71"/><ellipse cx="45.62" cy="23.66" rx="0.51" ry="0.89" fill="#0d5a22" opacity="0.57"/><ellipse cx="20.82" cy="18.7" rx="1.12" ry="0.53" fill="#0d5a22" opacity="0.47"/><ellipse cx="24.68" cy="38.9" rx="0.72" ry="0.98" fill="#0d5a22" opacity="0.67"/><ellipse cx="20.34" cy="22.71" rx="0.58" ry="1.06" fill="#0d5a22" opacity="0.6"/><ellipse cx="30.32" cy="39.56" rx="1.08" ry="0.55" fill="#0d5a22" opacity="0.44"/><ellipse cx="29.04" cy="17.08" rx="0.81" ry="0.8" fill="#0d5a22" opacity="0.79"/><ellipse cx="38.8" cy="46.26" rx="0.93" ry="0.66" fill="#0d5a22" opacity="0.63"/><ellipse cx="24.48" cy="29.29" rx="0.6" ry="1.15" fill="#0d5a22" opacity="0.52"/><ellipse cx="45.04" cy="12.91" rx="0.65" ry="0.67" fill="#0d5a22" opacity="0.73"/><ellipse cx="43.18" cy="36.53" rx="0.9" ry="0.6" fill="#0d5a22" opacity="0.5"/><ellipse cx="20.91" cy="44.87" rx="0.59" ry="1" fill="#0d5a22" opacity="0.4"/><ellipse cx="27.97" cy="30.14" rx="0.63" ry="0.55" fill="#0d5a22" opacity="0.76"/><ellipse cx="28.04" cy="3.3" rx="0.99" ry="1.19" fill="#0d5a22" opacity="0.62"/><ellipse cx="20.98" cy="21.79" rx="0.93" ry="0.67" fill="#0d5a22" opacity="0.57"/><ellipse cx="40.76" cy="32.59" rx="1.08" ry="1.17" fill="#0d5a22" opacity="0.61"/><ellipse cx="47.47" cy="8.29" rx="0.86" ry="0.97" fill="#0d5a22" opacity="0.77"/><ellipse cx="33.17" cy="22.65" rx="1.12" ry="0.83" fill="#0d5a22" opacity="0.42"/><ellipse cx="32.64" cy="15.15" rx="0.96" ry="1.07" fill="#0d5a22" opacity="0.42"/><ellipse cx="28.87" cy="43.48" rx="1.07" ry="1.05" fill="#0d5a22" opacity="0.56"/><ellipse cx="46.72" cy="41.17" rx="1.07" ry="0.88" fill="#0d5a22" opacity="0.66"/><ellipse cx="23.69" cy="4.59" rx="0.51" ry="0.54" fill="#0d5a22" opacity="0.6"/><ellipse cx="46.46" cy="28.9" rx="1.05" ry="1.03" fill="#0d5a22" opacity="0.78"/><ellipse cx="27.74" cy="25.37" rx="1.15" ry="0.73" fill="#0d5a22" opacity="0.68"/><ellipse cx="31.55" cy="9.89" rx="0.64" ry="0.75" fill="#0d5a22" opacity="0.41"/><ellipse cx="44.69" cy="18.99" rx="0.67" ry="1.06" fill="#0d5a22" opacity="0.4"/><ellipse cx="26.75" cy="7.4" rx="1.07" ry="0.77" fill="#4ad068" opacity="0.55"/><ellipse cx="24.3" cy="47.14" rx="1.07" ry="0.81" fill="#4ad068" opacity="0.33"/><ellipse cx="43.44" cy="43.4" rx="0.84" ry="0.67" fill="#4ad068" opacity="0.69"/><ellipse cx="45.04" cy="23.81" rx="0.68" ry="1.13" fill="#4ad068" opacity="0.69"/><ellipse cx="28.44" cy="19.63" rx="1.21" ry="1.12" fill="#4ad068" opacity="0.67"/><ellipse cx="37.41" cy="13.39" rx="1.27" ry="1.17" fill="#4ad068" opacity="0.65"/><ellipse cx="29.37" cy="16.65" rx="1.28" ry="1.25" fill="#4ad068" opacity="0.34"/><ellipse cx="22.22" cy="9" rx="1.06" ry="0.78" fill="#4ad068" opacity="0.37"/><ellipse cx="34.54" cy="46.33" rx="0.94" ry="0.66" fill="#4ad068" opacity="0.36"/><ellipse cx="28.38" cy="18" rx="0.75" ry="0.66" fill="#4ad068" opacity="0.44"/><ellipse cx="26.11" cy="12.28" rx="0.66" ry="1" fill="#4ad068" opacity="0.6"/><ellipse cx="29.86" cy="7.91" rx="0.9" ry="0.65" fill="#4ad068" opacity="0.35"/><ellipse cx="27.33" cy="43.65" rx="0.64" ry="0.94" fill="#4ad068" opacity="0.31"/><ellipse cx="29.95" cy="47.11" rx="1.19" ry="0.93" fill="#4ad068" opacity="0.41"/><ellipse cx="27.38" cy="27.45" rx="0.91" ry="0.78" fill="#4ad068" opacity="0.31"/><ellipse cx="41.89" cy="47.97" rx="1.27" ry="0.96" fill="#4ad068" opacity="0.46"/><ellipse cx="23.25" cy="47.49" rx="0.91" ry="0.65" fill="#4ad068" opacity="0.69"/><ellipse cx="38.25" cy="36.42" rx="0.98" ry="0.75" fill="#4ad068" opacity="0.62"/><ellipse cx="40.87" cy="25.98" rx="1.26" ry="0.73" fill="#4ad068" opacity="0.68"/><ellipse cx="36.26" cy="8.01" rx="1.19" ry="1.2" fill="#4ad068" opacity="0.63"/><ellipse cx="32.33" cy="30.21" rx="1.02" ry="1.1" fill="#4ad068" opacity="0.47"/><ellipse cx="23.37" cy="18.16" rx="0.85" ry="0.63" fill="#4ad068" opacity="0.37"/><ellipse cx="38.75" cy="26.26" rx="0.73" ry="1.19" fill="#4ad068" opacity="0.32"/><ellipse cx="20.02" cy="32.54" rx="1.23" ry="1.2" fill="#4ad068" opacity="0.56"/><ellipse cx="32.65" cy="14.57" rx="1.26" ry="1.06" fill="#4ad068" opacity="0.38"/></g>
<g id="i_da1"><ellipse cx="24.5" cy="31" rx="1.6" ry="1.6" fill="#4a44d0" opacity="0.7"/><ellipse cx="45.7" cy="12.8" rx="1.5" ry="1.5" fill="#4a44d0" opacity="0.8"/><ellipse cx="24" cy="0.5" rx="1.2" ry="1" fill="#4a44d0" opacity="0.6"/></g>
<g id="i_ne1"><ellipse cx="24.5" cy="31" rx="1.3" ry="1.3" fill="#30c8c0" opacity="0.6"/><ellipse cx="46.1" cy="12.3" rx="1.4" ry="1.4" fill="#30c8c0" opacity="0.8"/></g>
<g id="i_ci1"><ellipse cx="24.5" cy="31" rx="1.3" ry="1.3" fill="#f03020" opacity="0.35"/><ellipse cx="45" cy="12" rx="1.3" ry="1.3" fill="#f03020" opacity="0.3"/><ellipse cx="10" cy="12" rx="1.5" ry="1.5" fill="#f03020" opacity="0.2"/><ellipse cx="30" cy="42" rx="1.5" ry="1.5" fill="#f03020" opacity="0.2"/></g>
<g id="i_da2"><ellipse cx="33.3" cy="23.5" rx="1.8" ry="1.8" fill="#4a44d0" opacity="0.8"/><ellipse cx="29.4" cy="32.7" rx="1.8" ry="1.8" fill="#4a44d0" opacity="0.8"/></g>
<g id="i_ne2"><ellipse cx="33.3" cy="23.3" rx="1.6" ry="1.6" fill="#30c8c0" opacity="0.7"/><ellipse cx="29.4" cy="33" rx="1.6" ry="1.6" fill="#30c8c0" opacity="0.7"/></g>
<g id="i_ci2"><ellipse cx="33" cy="23.5" rx="1.6" ry="1.6" fill="#f03020" opacity="0.35"/><ellipse cx="29.4" cy="32.7" rx="1.8" ry="1.8" fill="#f03020" opacity="0.45"/><ellipse cx="12" cy="24" rx="1.5" ry="1.5" fill="#f03020" opacity="0.2"/><ellipse cx="20" cy="10" rx="1.2" ry="1.2" fill="#f03020" opacity="0.2"/></g>
<g id="i_da3"><path d="M8,2 L20,0 L33,1 L38,10 L46,18 L49,30 L46,44 L38,49.6 L22,49.6 L15,40 L10,30 L5,18 Z" fill="#2828a0" opacity="0.22"/><ellipse cx="7.44" cy="2.56" rx="1.19" ry="1.19" fill="#2828a0" opacity="0.2"/><ellipse cx="11.59" cy="2.04" rx="1.26" ry="1.26" fill="#2828a0" opacity="0.2"/><ellipse cx="14.02" cy="0.88" rx="1.41" ry="1.41" fill="#2828a0" opacity="0.2"/><ellipse cx="17.35" cy="0.89" rx="1.26" ry="1.26" fill="#2828a0" opacity="0.2"/><ellipse cx="20.05" cy="0.22" rx="1.59" ry="1.59" fill="#2828a0" opacity="0.2"/><ellipse cx="22.15" cy="0.07" rx="1.49" ry="1.49" fill="#2828a0" opacity="0.2"/><ellipse cx="25.71" cy="0.79" rx="1.67" ry="1.67" fill="#2828a0" opacity="0.2"/><ellipse cx="27.54" cy="1.13" rx="1.23" ry="1.23" fill="#2828a0" opacity="0.2"/><ellipse cx="30.21" cy="0.39" rx="1.59" ry="1.59" fill="#2828a0" opacity="0.2"/><ellipse cx="33.35" cy="1.24" rx="1.83" ry="1.83" fill="#2828a0" opacity="0.2"/><ellipse cx="34.49" cy="3.43" rx="1.25" ry="1.25" fill="#2828a0" opacity="0.2"/><ellipse cx="36.05" cy="6.09" rx="1.73" ry="1.73" fill="#2828a0" opacity="0.2"/><ellipse cx="37.35" cy="8.21" rx="1.88" ry="1.88" fill="#2828a0" opacity="0.2"/><ellipse cx="38.31" cy="10.37" rx="1.69" ry="1.69" fill="#2828a0" opacity="0.2"/><ellipse cx="39.55" cy="12.4" rx="1.35" ry="1.35" fill="#2828a0" opacity="0.2"/><ellipse cx="42.17" cy="14.48" rx="1.49" ry="1.49" fill="#2828a0" opacity="0.2"/><ellipse cx="43.72" cy="16.06" rx="1.88" ry="1.88" fill="#2828a0" opacity="0.2"/><ellipse cx="46.41" cy="18.59" rx="1.91" ry="1.91" fill="#2828a0" opacity="0.2"/><ellipse cx="47.12" cy="20.98" rx="1.18" ry="1.18" fill="#2828a0" opacity="0.2"/><ellipse cx="48.02" cy="23.45" rx="1.95" ry="1.95" fill="#2828a0" opacity="0.2"/><ellipse cx="48.42" cy="26.68" rx="1.17" ry="1.17" fill="#2828a0" opacity="0.2"/><ellipse cx="49.26" cy="29.49" rx="1.43" ry="1.43" fill="#2828a0" opacity="0.2"/><ellipse cx="47.93" cy="32.36" rx="1.25" ry="1.25" fill="#2828a0" opacity="0.2"/><ellipse cx="47.98" cy="35.03" rx="1.85" ry="1.85" fill="#2828a0" opacity="0.2"/><ellipse cx="47.36" cy="38.11" rx="1.71" ry="1.71" fill="#2828a0" opacity="0.2"/><ellipse cx="46.08" cy="40.9" rx="1.5" ry="1.5" fill="#2828a0" opacity="0.2"/><ellipse cx="46.43" cy="44.21" rx="1.04" ry="1.04" fill="#2828a0" opacity="0.2"/><ellipse cx="43.88" cy="45.45" rx="1.18" ry="1.18" fill="#2828a0" opacity="0.2"/><ellipse cx="40.76" cy="47.22" rx="1.41" ry="1.41" fill="#2828a0" opacity="0.2"/><ellipse cx="37.65" cy="49.54" rx="1.35" ry="1.35" fill="#2828a0" opacity="0.2"/><ellipse cx="35.24" cy="49.41" rx="1.48" ry="1.48" fill="#2828a0" opacity="0.2"/><ellipse cx="32.86" cy="49.5" rx="1.53" ry="1.53" fill="#2828a0" opacity="0.2"/><ellipse cx="29.76" cy="49.48" rx="1.08" ry="1.08" fill="#2828a0" opacity="0.2"/><ellipse cx="27.28" cy="49.61" rx="1.16" ry="1.16" fill="#2828a0" opacity="0.2"/><ellipse cx="24.45" cy="49.67" rx="1.49" ry="1.49" fill="#2828a0" opacity="0.2"/><ellipse cx="22.16" cy="49.31" rx="1.82" ry="1.82" fill="#2828a0" opacity="0.2"/><ellipse cx="19.83" cy="47.7" rx="1.34" ry="1.34" fill="#2828a0" opacity="0.2"/><ellipse cx="18.22" cy="44.6" rx="1.95" ry="1.95" fill="#2828a0" opacity="0.2"/><ellipse cx="16.98" cy="42.93" rx="1.99" ry="1.99" fill="#2828a0" opacity="0.2"/><ellipse cx="14.96" cy="40.36" rx="1.04" ry="1.04" fill="#2828a0" opacity="0.2"/><ellipse cx="14.13" cy="37.21" rx="1.33" ry="1.33" fill="#2828a0" opacity="0.2"/><ellipse cx="12.7" cy="35.01" rx="1.55" ry="1.55" fill="#2828a0" opacity="0.2"/><ellipse cx="11.03" cy="32.37" rx="1.92" ry="1.92" fill="#2828a0" opacity="0.2"/><ellipse cx="9.43" cy="29.42" rx="1.64" ry="1.64" fill="#2828a0" opacity="0.2"/><ellipse cx="8.5" cy="27.31" rx="1.27" ry="1.27" fill="#2828a0" opacity="0.2"/><ellipse cx="7.43" cy="25.07" rx="1.97" ry="1.97" fill="#2828a0" opacity="0.2"/><ellipse cx="7.43" cy="22.25" rx="1.99" ry="1.99" fill="#2828a0" opacity="0.2"/><ellipse cx="6.48" cy="20.83" rx="1.18" ry="1.18" fill="#2828a0" opacity="0.2"/><ellipse cx="4.78" cy="17.59" rx="1.74" ry="1.74" fill="#2828a0" opacity="0.2"/><ellipse cx="5.76" cy="15.07" rx="1.96" ry="1.96" fill="#2828a0" opacity="0.2"/><ellipse cx="6.27" cy="12.92" rx="1.42" ry="1.42" fill="#2828a0" opacity="0.2"/><ellipse cx="6.93" cy="10.06" rx="1.78" ry="1.78" fill="#2828a0" opacity="0.2"/><ellipse cx="7.5" cy="6.82" rx="1.05" ry="1.05" fill="#2828a0" opacity="0.2"/><ellipse cx="7.18" cy="5.17" rx="1.33" ry="1.33" fill="#2828a0" opacity="0.2"/><ellipse cx="17.41" cy="7.48" rx="1.49" ry="1.49" fill="#3c3cc0" opacity="0.58"/><ellipse cx="22.21" cy="41.01" rx="1.17" ry="1.17" fill="#3c3cc0" opacity="0.63"/><ellipse cx="31.87" cy="47.01" rx="1.45" ry="1.45" fill="#3c3cc0" opacity="0.69"/><ellipse cx="42.86" cy="14.36" rx="1.19" ry="1.19" fill="#3c3cc0" opacity="0.59"/><ellipse cx="16.68" cy="40.48" rx="1.21" ry="1.21" fill="#3c3cc0" opacity="0.75"/><ellipse cx="32.41" cy="18.47" rx="1.43" ry="1.43" fill="#3c3cc0" opacity="0.57"/><ellipse cx="34.39" cy="21.21" rx="1.29" ry="1.29" fill="#3c3cc0" opacity="0.75"/><ellipse cx="39.81" cy="34.67" rx="1.25" ry="1.25" fill="#3c3cc0" opacity="0.75"/><ellipse cx="27" cy="43.41" rx="1.54" ry="1.54" fill="#3c3cc0" opacity="0.65"/><ellipse cx="21.9" cy="37.55" rx="1.19" ry="1.19" fill="#3c3cc0" opacity="0.72"/><ellipse cx="38.39" cy="28.42" rx="1.63" ry="1.63" fill="#3c3cc0" opacity="0.66"/><ellipse cx="35.1" cy="29.48" rx="1.45" ry="1.45" fill="#3c3cc0" opacity="0.71"/><ellipse cx="24.57" cy="32.94" rx="1.14" ry="1.14" fill="#3c3cc0" opacity="0.8"/><ellipse cx="41.12" cy="14.12" rx="1.33" ry="1.33" fill="#3c3cc0" opacity="0.78"/><ellipse cx="8.16" cy="12.28" rx="1.33" ry="1.33" fill="#3c3cc0" opacity="0.85"/><ellipse cx="5.84" cy="22.28" rx="1.43" ry="1.43" fill="#3c3cc0" opacity="0.86"/><ellipse cx="41" cy="42.85" rx="1.27" ry="1.27" fill="#3c3cc0" opacity="0.7"/><ellipse cx="19.08" cy="43.86" rx="1.67" ry="1.67" fill="#3c3cc0" opacity="0.6"/><ellipse cx="10.39" cy="11.51" rx="1.24" ry="1.24" fill="#3c3cc0" opacity="0.72"/><ellipse cx="30.04" cy="13.03" rx="1.1" ry="1.1" fill="#3c3cc0" opacity="0.7"/><ellipse cx="19.58" cy="28.09" rx="1.67" ry="1.67" fill="#3c3cc0" opacity="0.79"/><ellipse cx="26.54" cy="30.63" rx="1.51" ry="1.51" fill="#3c3cc0" opacity="0.57"/><ellipse cx="44.82" cy="38.69" rx="1.62" ry="1.62" fill="#3c3cc0" opacity="0.83"/><ellipse cx="6.93" cy="31.46" rx="1.14" ry="1.14" fill="#3c3cc0" opacity="0.57"/><ellipse cx="11.94" cy="8.05" rx="1.3" ry="1.3" fill="#3c3cc0" opacity="0.57"/><ellipse cx="6.83" cy="18.04" rx="1.12" ry="1.12" fill="#3c3cc0" opacity="0.86"/><ellipse cx="31.23" cy="7.37" rx="1.25" ry="1.25" fill="#3c3cc0" opacity="0.67"/><ellipse cx="19.33" cy="6.09" rx="1.61" ry="1.61" fill="#3c3cc0" opacity="0.9"/><ellipse cx="41.45" cy="8.01" rx="1.11" ry="1.11" fill="#3c3cc0" opacity="0.88"/><ellipse cx="27.15" cy="7.27" rx="1.43" ry="1.43" fill="#3c3cc0" opacity="0.56"/><ellipse cx="27.14" cy="48.53" rx="1.62" ry="1.62" fill="#3c3cc0" opacity="0.79"/><ellipse cx="14.43" cy="18.19" rx="1.2" ry="1.2" fill="#3c3cc0" opacity="0.82"/><ellipse cx="27.35" cy="38.64" rx="1.3" ry="1.3" fill="#3c3cc0" opacity="0.63"/><ellipse cx="42.59" cy="39.98" rx="1.59" ry="1.59" fill="#3c3cc0" opacity="0.81"/><ellipse cx="12.79" cy="25.67" rx="1.31" ry="1.31" fill="#3c3cc0" opacity="0.56"/><ellipse cx="14.34" cy="34.35" rx="1.67" ry="1.67" fill="#3c3cc0" opacity="0.71"/><ellipse cx="47.46" cy="18.09" rx="1.23" ry="1.23" fill="#3c3cc0" opacity="0.63"/><ellipse cx="11.36" cy="10.14" rx="1.47" ry="1.47" fill="#3c3cc0" opacity="0.87"/><ellipse cx="42" cy="23.78" rx="1.49" ry="1.49" fill="#3c3cc0" opacity="0.83"/><ellipse cx="37.71" cy="23.71" rx="1.21" ry="1.21" fill="#3c3cc0" opacity="0.83"/><ellipse cx="17.83" cy="39.72" rx="1.68" ry="1.68" fill="#3c3cc0" opacity="0.69"/><ellipse cx="21.11" cy="46.96" rx="1.53" ry="1.53" fill="#3c3cc0" opacity="0.61"/><ellipse cx="18.68" cy="27.21" rx="1.18" ry="1.18" fill="#3c3cc0" opacity="0.55"/><ellipse cx="27.07" cy="46.31" rx="1.36" ry="1.36" fill="#3c3cc0" opacity="0.86"/><ellipse cx="41.32" cy="10.47" rx="1.25" ry="1.25" fill="#3c3cc0" opacity="0.65"/><ellipse cx="13.45" cy="29.09" rx="1.26" ry="1.26" fill="#3c3cc0" opacity="0.7"/><ellipse cx="29.77" cy="44.85" rx="1.35" ry="1.35" fill="#3c3cc0" opacity="0.87"/><ellipse cx="25.88" cy="26.38" rx="1.41" ry="1.41" fill="#3c3cc0" opacity="0.56"/><ellipse cx="22.95" cy="9.08" rx="1.1" ry="1.1" fill="#3c3cc0" opacity="0.83"/><ellipse cx="10.2" cy="23.49" rx="1.54" ry="1.54" fill="#3c3cc0" opacity="0.74"/><ellipse cx="17.52" cy="25.71" rx="1.43" ry="1.43" fill="#3c3cc0" opacity="0.82"/><ellipse cx="7.05" cy="27.79" rx="1.25" ry="1.25" fill="#3c3cc0" opacity="0.65"/><ellipse cx="38.76" cy="25.18" rx="1.44" ry="1.44" fill="#3c3cc0" opacity="0.82"/><ellipse cx="45.43" cy="21.99" rx="1.47" ry="1.47" fill="#3c3cc0" opacity="0.73"/><ellipse cx="26.38" cy="34.36" rx="1.37" ry="1.37" fill="#3c3cc0" opacity="0.74"/><ellipse cx="24.75" cy="46.7" rx="1.52" ry="1.52" fill="#3c3cc0" opacity="0.86"/><ellipse cx="46.85" cy="12.88" rx="1.44" ry="1.44" fill="#3c3cc0" opacity="0.88"/><ellipse cx="41.98" cy="6.8" rx="1.17" ry="1.17" fill="#3c3cc0" opacity="0.7"/><ellipse cx="39.32" cy="44.49" rx="1.19" ry="1.19" fill="#3c3cc0" opacity="0.8"/><ellipse cx="33.43" cy="7.09" rx="1.63" ry="1.63" fill="#3c3cc0" opacity="0.89"/><ellipse cx="9.69" cy="21.4" rx="1.41" ry="1.41" fill="#3c3cc0" opacity="0.67"/><ellipse cx="11.32" cy="15.8" rx="1.53" ry="1.53" fill="#3c3cc0" opacity="0.56"/><ellipse cx="28.37" cy="21.85" rx="1.11" ry="1.11" fill="#3c3cc0" opacity="0.67"/><ellipse cx="31.7" cy="25.41" rx="1.14" ry="1.14" fill="#3c3cc0" opacity="0.89"/><ellipse cx="14.87" cy="6.43" rx="1.35" ry="1.35" fill="#3c3cc0" opacity="0.87"/><ellipse cx="40.98" cy="12.83" rx="1.19" ry="1.19" fill="#3c3cc0" opacity="0.87"/><ellipse cx="29.16" cy="34.74" rx="1.15" ry="1.15" fill="#3c3cc0" opacity="0.57"/><ellipse cx="34.76" cy="21.1" rx="1.14" ry="1.14" fill="#3c3cc0" opacity="0.88"/><ellipse cx="32.2" cy="39.76" rx="1.15" ry="1.15" fill="#3c3cc0" opacity="0.85"/><ellipse cx="28.33" cy="45.96" rx="1.26" ry="1.26" fill="#3c3cc0" opacity="0.6"/><ellipse cx="27.08" cy="11.83" rx="1.17" ry="1.17" fill="#3c3cc0" opacity="0.61"/><ellipse cx="38.15" cy="14.38" rx="1.4" ry="1.4" fill="#3c3cc0" opacity="0.61"/><ellipse cx="18.52" cy="0.9" rx="1.25" ry="1.25" fill="#3c3cc0" opacity="0.56"/><ellipse cx="36.89" cy="27.33" rx="1.21" ry="1.21" fill="#3c3cc0" opacity="0.72"/><ellipse cx="40.98" cy="21.44" rx="1.4" ry="1.4" fill="#3c3cc0" opacity="0.84"/><ellipse cx="18.31" cy="41.28" rx="1.52" ry="1.52" fill="#3c3cc0" opacity="0.77"/><ellipse cx="14.17" cy="8.1" rx="1.15" ry="1.15" fill="#3c3cc0" opacity="0.84"/><ellipse cx="43.44" cy="33.26" rx="1.27" ry="1.27" fill="#3c3cc0" opacity="0.63"/><ellipse cx="15.95" cy="22.79" rx="1.19" ry="1.19" fill="#3c3cc0" opacity="0.71"/><ellipse cx="48.3" cy="27.13" rx="1.25" ry="1.25" fill="#3c3cc0" opacity="0.89"/><ellipse cx="24.59" cy="24.94" rx="1.22" ry="1.22" fill="#3c3cc0" opacity="0.73"/><ellipse cx="6.27" cy="19.82" rx="1.13" ry="1.13" fill="#3c3cc0" opacity="0.56"/><ellipse cx="16.48" cy="11.55" rx="1.45" ry="1.45" fill="#3c3cc0" opacity="0.74"/><ellipse cx="37.73" cy="32.61" rx="1.53" ry="1.53" fill="#3c3cc0" opacity="0.86"/><ellipse cx="36.47" cy="31.9" rx="1.13" ry="1.13" fill="#3c3cc0" opacity="0.84"/><ellipse cx="44.46" cy="31.12" rx="1.54" ry="1.54" fill="#3c3cc0" opacity="0.83"/><ellipse cx="8.63" cy="25.98" rx="1.4" ry="1.4" fill="#3c3cc0" opacity="0.84"/><ellipse cx="40.3" cy="40.99" rx="1.45" ry="1.45" fill="#3c3cc0" opacity="0.86"/><ellipse cx="34.51" cy="34.39" rx="1.24" ry="1.24" fill="#3c3cc0" opacity="0.56"/><ellipse cx="8.34" cy="17.89" rx="1.16" ry="1.16" fill="#3c3cc0" opacity="0.84"/><ellipse cx="28.59" cy="31.14" rx="1.48" ry="1.48" fill="#3c3cc0" opacity="0.79"/><ellipse cx="25.29" cy="0.16" rx="1.58" ry="1.58" fill="#3c3cc0" opacity="0.81"/><ellipse cx="25.94" cy="26.55" rx="1.5" ry="1.5" fill="#3c3cc0" opacity="0.57"/><ellipse cx="37.07" cy="12.51" rx="1.14" ry="1.14" fill="#3c3cc0" opacity="0.64"/><ellipse cx="36.72" cy="10.18" rx="1.54" ry="1.54" fill="#3c3cc0" opacity="0.89"/></g>
<g id="i_ne3"><path d="M8,2 L20,0 L33,1 L38,10 L46,18 L49,30 L46,44 L38,49.6 L22,49.6 L15,40 L10,30 L5,18 Z" fill="#1a8a8a" opacity="0.1"/><ellipse cx="17.41" cy="7.48" rx="1.49" ry="1.49" fill="#2cbcb8" opacity="0.63"/><ellipse cx="22.21" cy="41.01" rx="1.17" ry="1.17" fill="#2cbcb8" opacity="0.68"/><ellipse cx="31.87" cy="47.01" rx="1.45" ry="1.45" fill="#2cbcb8" opacity="0.74"/><ellipse cx="42.86" cy="14.36" rx="1.19" ry="1.19" fill="#2cbcb8" opacity="0.64"/><ellipse cx="16.68" cy="40.48" rx="1.21" ry="1.21" fill="#2cbcb8" opacity="0.8"/><ellipse cx="32.41" cy="18.47" rx="1.43" ry="1.43" fill="#2cbcb8" opacity="0.62"/><ellipse cx="34.39" cy="21.21" rx="1.29" ry="1.29" fill="#2cbcb8" opacity="0.8"/><ellipse cx="39.81" cy="34.67" rx="1.25" ry="1.25" fill="#2cbcb8" opacity="0.8"/><ellipse cx="27" cy="43.41" rx="1.54" ry="1.54" fill="#2cbcb8" opacity="0.7"/><ellipse cx="21.9" cy="37.55" rx="1.19" ry="1.19" fill="#2cbcb8" opacity="0.77"/><ellipse cx="38.39" cy="28.42" rx="1.63" ry="1.63" fill="#2cbcb8" opacity="0.71"/><ellipse cx="35.1" cy="29.48" rx="1.45" ry="1.45" fill="#2cbcb8" opacity="0.76"/><ellipse cx="24.57" cy="32.94" rx="1.14" ry="1.14" fill="#2cbcb8" opacity="0.85"/><ellipse cx="41.12" cy="14.12" rx="1.33" ry="1.33" fill="#2cbcb8" opacity="0.83"/><ellipse cx="8.16" cy="12.28" rx="1.33" ry="1.33" fill="#2cbcb8" opacity="0.9"/><ellipse cx="5.84" cy="22.28" rx="1.43" ry="1.43" fill="#2cbcb8" opacity="0.91"/><ellipse cx="41" cy="42.85" rx="1.27" ry="1.27" fill="#2cbcb8" opacity="0.75"/><ellipse cx="19.08" cy="43.86" rx="1.67" ry="1.67" fill="#2cbcb8" opacity="0.65"/><ellipse cx="10.39" cy="11.51" rx="1.24" ry="1.24" fill="#2cbcb8" opacity="0.77"/><ellipse cx="30.04" cy="13.03" rx="1.1" ry="1.1" fill="#2cbcb8" opacity="0.75"/><ellipse cx="19.58" cy="28.09" rx="1.67" ry="1.67" fill="#2cbcb8" opacity="0.84"/><ellipse cx="26.54" cy="30.63" rx="1.51" ry="1.51" fill="#2cbcb8" opacity="0.62"/><ellipse cx="44.82" cy="38.69" rx="1.62" ry="1.62" fill="#2cbcb8" opacity="0.88"/><ellipse cx="6.93" cy="31.46" rx="1.14" ry="1.14" fill="#2cbcb8" opacity="0.62"/><ellipse cx="11.94" cy="8.05" rx="1.3" ry="1.3" fill="#2cbcb8" opacity="0.62"/><ellipse cx="6.83" cy="18.04" rx="1.12" ry="1.12" fill="#2cbcb8" opacity="0.91"/><ellipse cx="31.23" cy="7.37" rx="1.25" ry="1.25" fill="#2cbcb8" opacity="0.72"/><ellipse cx="19.33" cy="6.09" rx="1.61" ry="1.61" fill="#2cbcb8" opacity="0.95"/><ellipse cx="41.45" cy="8.01" rx="1.11" ry="1.11" fill="#2cbcb8" opacity="0.93"/><ellipse cx="27.15" cy="7.27" rx="1.43" ry="1.43" fill="#2cbcb8" opacity="0.61"/><ellipse cx="27.14" cy="48.53" rx="1.62" ry="1.62" fill="#2cbcb8" opacity="0.84"/><ellipse cx="14.43" cy="18.19" rx="1.2" ry="1.2" fill="#2cbcb8" opacity="0.87"/><ellipse cx="27.35" cy="38.64" rx="1.3" ry="1.3" fill="#2cbcb8" opacity="0.68"/><ellipse cx="42.59" cy="39.98" rx="1.59" ry="1.59" fill="#2cbcb8" opacity="0.86"/><ellipse cx="12.79" cy="25.67" rx="1.31" ry="1.31" fill="#2cbcb8" opacity="0.61"/><ellipse cx="14.34" cy="34.35" rx="1.67" ry="1.67" fill="#2cbcb8" opacity="0.76"/><ellipse cx="47.46" cy="18.09" rx="1.23" ry="1.23" fill="#2cbcb8" opacity="0.68"/><ellipse cx="11.36" cy="10.14" rx="1.47" ry="1.47" fill="#2cbcb8" opacity="0.92"/><ellipse cx="42" cy="23.78" rx="1.49" ry="1.49" fill="#2cbcb8" opacity="0.88"/><ellipse cx="37.71" cy="23.71" rx="1.21" ry="1.21" fill="#2cbcb8" opacity="0.88"/><ellipse cx="17.83" cy="39.72" rx="1.68" ry="1.68" fill="#2cbcb8" opacity="0.74"/><ellipse cx="21.11" cy="46.96" rx="1.53" ry="1.53" fill="#2cbcb8" opacity="0.66"/><ellipse cx="18.68" cy="27.21" rx="1.18" ry="1.18" fill="#2cbcb8" opacity="0.6"/><ellipse cx="27.07" cy="46.31" rx="1.36" ry="1.36" fill="#2cbcb8" opacity="0.91"/><ellipse cx="41.32" cy="10.47" rx="1.25" ry="1.25" fill="#2cbcb8" opacity="0.7"/><ellipse cx="13.45" cy="29.09" rx="1.26" ry="1.26" fill="#2cbcb8" opacity="0.75"/><ellipse cx="29.77" cy="44.85" rx="1.35" ry="1.35" fill="#2cbcb8" opacity="0.92"/><ellipse cx="25.88" cy="26.38" rx="1.41" ry="1.41" fill="#2cbcb8" opacity="0.61"/><ellipse cx="22.95" cy="9.08" rx="1.1" ry="1.1" fill="#2cbcb8" opacity="0.88"/><ellipse cx="10.2" cy="23.49" rx="1.54" ry="1.54" fill="#2cbcb8" opacity="0.79"/><ellipse cx="17.52" cy="25.71" rx="1.43" ry="1.43" fill="#2cbcb8" opacity="0.87"/><ellipse cx="7.05" cy="27.79" rx="1.25" ry="1.25" fill="#2cbcb8" opacity="0.7"/><ellipse cx="38.76" cy="25.18" rx="1.44" ry="1.44" fill="#2cbcb8" opacity="0.87"/><ellipse cx="45.43" cy="21.99" rx="1.47" ry="1.47" fill="#2cbcb8" opacity="0.78"/><ellipse cx="26.38" cy="34.36" rx="1.37" ry="1.37" fill="#2cbcb8" opacity="0.79"/><ellipse cx="24.75" cy="46.7" rx="1.52" ry="1.52" fill="#2cbcb8" opacity="0.91"/><ellipse cx="46.85" cy="12.88" rx="1.44" ry="1.44" fill="#2cbcb8" opacity="0.93"/><ellipse cx="41.98" cy="6.8" rx="1.17" ry="1.17" fill="#2cbcb8" opacity="0.75"/><ellipse cx="39.32" cy="44.49" rx="1.19" ry="1.19" fill="#2cbcb8" opacity="0.85"/><ellipse cx="33.43" cy="7.09" rx="1.63" ry="1.63" fill="#2cbcb8" opacity="0.94"/><ellipse cx="9.69" cy="21.4" rx="1.41" ry="1.41" fill="#2cbcb8" opacity="0.72"/><ellipse cx="11.32" cy="15.8" rx="1.53" ry="1.53" fill="#2cbcb8" opacity="0.61"/><ellipse cx="28.37" cy="21.85" rx="1.11" ry="1.11" fill="#2cbcb8" opacity="0.72"/><ellipse cx="31.7" cy="25.41" rx="1.14" ry="1.14" fill="#2cbcb8" opacity="0.94"/><ellipse cx="14.87" cy="6.43" rx="1.35" ry="1.35" fill="#2cbcb8" opacity="0.92"/><ellipse cx="40.98" cy="12.83" rx="1.19" ry="1.19" fill="#2cbcb8" opacity="0.92"/><ellipse cx="29.16" cy="34.74" rx="1.15" ry="1.15" fill="#2cbcb8" opacity="0.62"/><ellipse cx="34.76" cy="21.1" rx="1.14" ry="1.14" fill="#2cbcb8" opacity="0.93"/><ellipse cx="32.2" cy="39.76" rx="1.15" ry="1.15" fill="#2cbcb8" opacity="0.9"/><ellipse cx="28.33" cy="45.96" rx="1.26" ry="1.26" fill="#2cbcb8" opacity="0.65"/><ellipse cx="27.08" cy="11.83" rx="1.17" ry="1.17" fill="#2cbcb8" opacity="0.66"/><ellipse cx="38.15" cy="14.38" rx="1.4" ry="1.4" fill="#2cbcb8" opacity="0.66"/><ellipse cx="18.52" cy="0.9" rx="1.25" ry="1.25" fill="#2cbcb8" opacity="0.61"/><ellipse cx="36.89" cy="27.33" rx="1.21" ry="1.21" fill="#2cbcb8" opacity="0.77"/><ellipse cx="40.98" cy="21.44" rx="1.4" ry="1.4" fill="#2cbcb8" opacity="0.89"/><ellipse cx="18.31" cy="41.28" rx="1.52" ry="1.52" fill="#2cbcb8" opacity="0.82"/><ellipse cx="14.17" cy="8.1" rx="1.15" ry="1.15" fill="#2cbcb8" opacity="0.89"/><ellipse cx="43.44" cy="33.26" rx="1.27" ry="1.27" fill="#2cbcb8" opacity="0.68"/><ellipse cx="15.95" cy="22.79" rx="1.19" ry="1.19" fill="#2cbcb8" opacity="0.76"/><ellipse cx="48.3" cy="27.13" rx="1.25" ry="1.25" fill="#2cbcb8" opacity="0.94"/><ellipse cx="24.59" cy="24.94" rx="1.22" ry="1.22" fill="#2cbcb8" opacity="0.78"/><ellipse cx="6.27" cy="19.82" rx="1.13" ry="1.13" fill="#2cbcb8" opacity="0.61"/><ellipse cx="16.48" cy="11.55" rx="1.45" ry="1.45" fill="#2cbcb8" opacity="0.79"/><ellipse cx="37.73" cy="32.61" rx="1.53" ry="1.53" fill="#2cbcb8" opacity="0.91"/><ellipse cx="36.47" cy="31.9" rx="1.13" ry="1.13" fill="#2cbcb8" opacity="0.89"/><ellipse cx="44.46" cy="31.12" rx="1.54" ry="1.54" fill="#2cbcb8" opacity="0.88"/><ellipse cx="8.63" cy="25.98" rx="1.4" ry="1.4" fill="#2cbcb8" opacity="0.89"/><ellipse cx="40.3" cy="40.99" rx="1.45" ry="1.45" fill="#2cbcb8" opacity="0.91"/><ellipse cx="34.51" cy="34.39" rx="1.24" ry="1.24" fill="#2cbcb8" opacity="0.61"/><ellipse cx="8.34" cy="17.89" rx="1.16" ry="1.16" fill="#2cbcb8" opacity="0.89"/><ellipse cx="28.59" cy="31.14" rx="1.48" ry="1.48" fill="#2cbcb8" opacity="0.84"/><ellipse cx="25.29" cy="0.16" rx="1.58" ry="1.58" fill="#2cbcb8" opacity="0.86"/><ellipse cx="25.94" cy="26.55" rx="1.5" ry="1.5" fill="#2cbcb8" opacity="0.62"/><ellipse cx="37.07" cy="12.51" rx="1.14" ry="1.14" fill="#2cbcb8" opacity="0.69"/><ellipse cx="36.72" cy="10.18" rx="1.54" ry="1.54" fill="#2cbcb8" opacity="0.94"/></g>
<g id="i_ci3"><path d="M8,2 L20,0 L33,1 L38,10 L46,18 L49,30 L46,44 L38,49.6 L22,49.6 L15,40 L10,30 L5,18 Z" fill="#b01808" opacity="0.3"/><ellipse cx="7.56" cy="1.91" rx="1.85" ry="1.85" fill="#c02010" opacity="0.3"/><ellipse cx="10.94" cy="1.18" rx="1.67" ry="1.67" fill="#c02010" opacity="0.3"/><ellipse cx="13.77" cy="1.1" rx="1.23" ry="1.23" fill="#c02010" opacity="0.3"/><ellipse cx="17.31" cy="-0.04" rx="1.29" ry="1.29" fill="#c02010" opacity="0.3"/><ellipse cx="20.52" cy="-0.5" rx="1.39" ry="1.39" fill="#c02010" opacity="0.3"/><ellipse cx="22.22" cy="0.06" rx="1.57" ry="1.57" fill="#c02010" opacity="0.3"/><ellipse cx="25.75" cy="0.94" rx="1.31" ry="1.31" fill="#c02010" opacity="0.3"/><ellipse cx="28.12" cy="0.55" rx="1.1" ry="1.1" fill="#c02010" opacity="0.3"/><ellipse cx="30.12" cy="0.58" rx="1.4" ry="1.4" fill="#c02010" opacity="0.3"/><ellipse cx="33.6" cy="1.36" rx="1.1" ry="1.1" fill="#c02010" opacity="0.3"/><ellipse cx="34.35" cy="3" rx="1.26" ry="1.26" fill="#c02010" opacity="0.3"/><ellipse cx="35.95" cy="4.98" rx="1.73" ry="1.73" fill="#c02010" opacity="0.3"/><ellipse cx="37.22" cy="7.15" rx="1.29" ry="1.29" fill="#c02010" opacity="0.3"/><ellipse cx="38.35" cy="9.46" rx="1.36" ry="1.36" fill="#c02010" opacity="0.3"/><ellipse cx="39.68" cy="12.46" rx="1.81" ry="1.81" fill="#c02010" opacity="0.3"/><ellipse cx="42.32" cy="13.73" rx="1.11" ry="1.11" fill="#c02010" opacity="0.3"/><ellipse cx="44.49" cy="15.67" rx="1.22" ry="1.22" fill="#c02010" opacity="0.3"/><ellipse cx="45.5" cy="18.39" rx="1.45" ry="1.45" fill="#c02010" opacity="0.3"/><ellipse cx="46.36" cy="20.43" rx="1.46" ry="1.46" fill="#c02010" opacity="0.3"/><ellipse cx="46.95" cy="23.4" rx="1.48" ry="1.48" fill="#c02010" opacity="0.3"/><ellipse cx="48.33" cy="27.05" rx="1.92" ry="1.92" fill="#c02010" opacity="0.3"/><ellipse cx="48.45" cy="29.48" rx="1.09" ry="1.09" fill="#c02010" opacity="0.3"/><ellipse cx="48.54" cy="32.99" rx="1.23" ry="1.23" fill="#c02010" opacity="0.3"/><ellipse cx="47.89" cy="35.07" rx="1.13" ry="1.13" fill="#c02010" opacity="0.3"/><ellipse cx="46.93" cy="37.96" rx="1.27" ry="1.27" fill="#c02010" opacity="0.3"/><ellipse cx="46.36" cy="41.09" rx="1.86" ry="1.86" fill="#c02010" opacity="0.3"/><ellipse cx="46.31" cy="44.37" rx="1.16" ry="1.16" fill="#c02010" opacity="0.3"/><ellipse cx="43.69" cy="45.72" rx="1.91" ry="1.91" fill="#c02010" opacity="0.3"/><ellipse cx="40.81" cy="47.95" rx="1.59" ry="1.59" fill="#c02010" opacity="0.3"/><ellipse cx="37.43" cy="49.36" rx="1.18" ry="1.18" fill="#c02010" opacity="0.3"/><ellipse cx="35.05" cy="49.91" rx="1.4" ry="1.4" fill="#c02010" opacity="0.3"/><ellipse cx="32.23" cy="49.96" rx="1.29" ry="1.29" fill="#c02010" opacity="0.3"/><ellipse cx="29.53" cy="49.45" rx="1.35" ry="1.35" fill="#c02010" opacity="0.3"/><ellipse cx="27.38" cy="49.79" rx="1.78" ry="1.78" fill="#c02010" opacity="0.3"/><ellipse cx="24.77" cy="49.57" rx="1.3" ry="1.3" fill="#c02010" opacity="0.3"/><ellipse cx="22.21" cy="49.87" rx="1.9" ry="1.9" fill="#c02010" opacity="0.3"/><ellipse cx="20.44" cy="47.65" rx="1.02" ry="1.02" fill="#c02010" opacity="0.3"/><ellipse cx="18.28" cy="44.58" rx="1.66" ry="1.66" fill="#c02010" opacity="0.3"/><ellipse cx="17.16" cy="42.54" rx="1.26" ry="1.26" fill="#c02010" opacity="0.3"/><ellipse cx="15.11" cy="39.64" rx="1.53" ry="1.53" fill="#c02010" opacity="0.3"/><ellipse cx="13.19" cy="37.87" rx="1.96" ry="1.96" fill="#c02010" opacity="0.3"/><ellipse cx="12.13" cy="35.19" rx="1.06" ry="1.06" fill="#c02010" opacity="0.3"/><ellipse cx="10.78" cy="32.62" rx="1.07" ry="1.07" fill="#c02010" opacity="0.3"/><ellipse cx="9.9" cy="29.95" rx="1.79" ry="1.79" fill="#c02010" opacity="0.3"/><ellipse cx="9.49" cy="27.56" rx="1.03" ry="1.03" fill="#c02010" opacity="0.3"/><ellipse cx="7.79" cy="24.78" rx="1.51" ry="1.51" fill="#c02010" opacity="0.3"/><ellipse cx="6.79" cy="22.58" rx="1.51" ry="1.51" fill="#c02010" opacity="0.3"/><ellipse cx="5.88" cy="19.93" rx="1.87" ry="1.87" fill="#c02010" opacity="0.3"/><ellipse cx="4.83" cy="17.61" rx="1.42" ry="1.42" fill="#c02010" opacity="0.3"/><ellipse cx="5.84" cy="15.15" rx="1.05" ry="1.05" fill="#c02010" opacity="0.3"/><ellipse cx="6.14" cy="13.03" rx="1.63" ry="1.63" fill="#c02010" opacity="0.3"/><ellipse cx="6.43" cy="9.66" rx="1.06" ry="1.06" fill="#c02010" opacity="0.3"/><ellipse cx="7.15" cy="6.91" rx="1.94" ry="1.94" fill="#c02010" opacity="0.3"/><ellipse cx="7.32" cy="4.68" rx="1.15" ry="1.15" fill="#c02010" opacity="0.3"/><path d="M8,22 L10,10 L18,3 L30,3 L38,10" fill="none" stroke="#e02a18" stroke-width="4" stroke-linecap="round" stroke-linejoin="round" stroke-opacity="0.55"/><ellipse cx="32" cy="38" rx="10" ry="7" fill="#d02010" opacity="0.35"/><ellipse cx="22" cy="18" rx="5" ry="6" fill="#200404" opacity="0.35"/><ellipse cx="28.38" cy="30.59" rx="1.12" ry="1.12" fill="#f03020" opacity="0.63"/><ellipse cx="35.49" cy="22.42" rx="1.54" ry="1.54" fill="#f03020" opacity="0.56"/><ellipse cx="13.33" cy="5.5" rx="1.4" ry="1.4" fill="#f03020" opacity="0.82"/><ellipse cx="30.1" cy="38.4" rx="1.33" ry="1.33" fill="#f03020" opacity="0.76"/><ellipse cx="6.84" cy="14.44" rx="1.5" ry="1.5" fill="#f03020" opacity="0.75"/><ellipse cx="22.08" cy="4.35" rx="1.26" ry="1.26" fill="#f03020" opacity="0.57"/><ellipse cx="15.38" cy="40.15" rx="1.22" ry="1.22" fill="#f03020" opacity="0.81"/><ellipse cx="30.41" cy="6.01" rx="1.45" ry="1.45" fill="#f03020" opacity="0.81"/><ellipse cx="5.97" cy="26.77" rx="1.11" ry="1.11" fill="#f03020" opacity="0.53"/><ellipse cx="25.64" cy="45.68" rx="1.35" ry="1.35" fill="#f03020" opacity="0.64"/><ellipse cx="32.4" cy="4.63" rx="1.45" ry="1.45" fill="#f03020" opacity="0.56"/><ellipse cx="30.98" cy="47.53" rx="1.13" ry="1.13" fill="#f03020" opacity="0.69"/><ellipse cx="30.86" cy="7.41" rx="1.26" ry="1.26" fill="#f03020" opacity="0.85"/><ellipse cx="35.58" cy="47.17" rx="1.24" ry="1.24" fill="#f03020" opacity="0.71"/><ellipse cx="34.09" cy="29.28" rx="1.56" ry="1.56" fill="#f03020" opacity="0.53"/><ellipse cx="18.53" cy="42.86" rx="1.45" ry="1.45" fill="#f03020" opacity="0.66"/><ellipse cx="21.14" cy="48.91" rx="1.44" ry="1.44" fill="#f03020" opacity="0.51"/><ellipse cx="40.05" cy="16.3" rx="1.36" ry="1.36" fill="#f03020" opacity="0.57"/><ellipse cx="6.23" cy="31.22" rx="1.16" ry="1.16" fill="#f03020" opacity="0.77"/><ellipse cx="40.44" cy="24.67" rx="1.53" ry="1.53" fill="#f03020" opacity="0.59"/><ellipse cx="37.11" cy="21.08" rx="1.24" ry="1.24" fill="#f03020" opacity="0.84"/><ellipse cx="42.93" cy="18.32" rx="1.5" ry="1.5" fill="#f03020" opacity="0.56"/><ellipse cx="42.14" cy="12.84" rx="1.13" ry="1.13" fill="#f03020" opacity="0.84"/><ellipse cx="11.93" cy="19.29" rx="1.47" ry="1.47" fill="#f03020" opacity="0.84"/><ellipse cx="18.88" cy="6.98" rx="1.44" ry="1.44" fill="#f03020" opacity="0.55"/><ellipse cx="6.12" cy="27.58" rx="1.52" ry="1.52" fill="#f03020" opacity="0.52"/><ellipse cx="23.49" cy="34.91" rx="1.56" ry="1.56" fill="#f03020" opacity="0.63"/><ellipse cx="44.23" cy="8.39" rx="1.53" ry="1.53" fill="#f03020" opacity="0.77"/><ellipse cx="43.9" cy="24.52" rx="1.16" ry="1.16" fill="#f03020" opacity="0.52"/><ellipse cx="27.17" cy="8.6" rx="1.48" ry="1.48" fill="#f03020" opacity="0.53"/><ellipse cx="39.14" cy="11.03" rx="1.11" ry="1.11" fill="#f03020" opacity="0.56"/><ellipse cx="23.74" cy="27.74" rx="1.33" ry="1.33" fill="#f03020" opacity="0.56"/><ellipse cx="24.95" cy="46.94" rx="1.42" ry="1.42" fill="#f03020" opacity="0.83"/><ellipse cx="44.32" cy="27" rx="1.41" ry="1.41" fill="#f03020" opacity="0.69"/><ellipse cx="32.6" cy="26.89" rx="1.28" ry="1.28" fill="#f03020" opacity="0.75"/><ellipse cx="36.3" cy="5.12" rx="1.52" ry="1.52" fill="#f03020" opacity="0.66"/><ellipse cx="25.33" cy="31.58" rx="1.13" ry="1.13" fill="#f03020" opacity="0.71"/><ellipse cx="19.76" cy="43.59" rx="1.24" ry="1.24" fill="#f03020" opacity="0.79"/><ellipse cx="36.73" cy="31" rx="1.63" ry="1.63" fill="#f03020" opacity="0.51"/><ellipse cx="30.42" cy="30.42" rx="1.51" ry="1.51" fill="#f03020" opacity="0.64"/><ellipse cx="30.95" cy="8.99" rx="1.14" ry="1.14" fill="#f03020" opacity="0.62"/><ellipse cx="24.38" cy="26.56" rx="1.12" ry="1.12" fill="#f03020" opacity="0.77"/><ellipse cx="17.89" cy="38.83" rx="1.11" ry="1.11" fill="#f03020" opacity="0.83"/><ellipse cx="30.1" cy="48.43" rx="1.69" ry="1.69" fill="#f03020" opacity="0.79"/><ellipse cx="7.06" cy="17.3" rx="1.24" ry="1.24" fill="#f03020" opacity="0.77"/><ellipse cx="11.15" cy="10.97" rx="1.17" ry="1.17" fill="#f03020" opacity="0.54"/><ellipse cx="19.73" cy="36.76" rx="1.38" ry="1.38" fill="#f03020" opacity="0.68"/><ellipse cx="19.59" cy="31.48" rx="1.24" ry="1.24" fill="#f03020" opacity="0.59"/><ellipse cx="26.65" cy="9.79" rx="1.36" ry="1.36" fill="#f03020" opacity="0.83"/><ellipse cx="13.96" cy="42.24" rx="1.46" ry="1.46" fill="#f03020" opacity="0.58"/><ellipse cx="16.29" cy="39.69" rx="1.69" ry="1.69" fill="#f03020" opacity="0.78"/><ellipse cx="17.12" cy="12.26" rx="1.46" ry="1.46" fill="#f03020" opacity="0.67"/><ellipse cx="18.51" cy="41.52" rx="1.34" ry="1.34" fill="#f03020" opacity="0.57"/><ellipse cx="15.16" cy="22.9" rx="1.47" ry="1.47" fill="#f03020" opacity="0.7"/><ellipse cx="22.94" cy="9.24" rx="1.34" ry="1.34" fill="#f03020" opacity="0.61"/><ellipse cx="10.12" cy="26.98" rx="1.21" ry="1.21" fill="#f03020" opacity="0.75"/><ellipse cx="33.36" cy="6.83" rx="1.48" ry="1.48" fill="#f03020" opacity="0.62"/><ellipse cx="23.28" cy="30.09" rx="1.56" ry="1.56" fill="#f03020" opacity="0.81"/><ellipse cx="36.92" cy="10.48" rx="1.43" ry="1.43" fill="#f03020" opacity="0.62"/><ellipse cx="24.4" cy="43" rx="1.29" ry="1.29" fill="#f03020" opacity="0.79"/><ellipse cx="26.47" cy="4.92" rx="1.53" ry="1.53" fill="#f03020" opacity="0.6"/><ellipse cx="27.39" cy="3.54" rx="1.11" ry="1.11" fill="#f03020" opacity="0.82"/><ellipse cx="32.9" cy="19.61" rx="1.63" ry="1.63" fill="#f03020" opacity="0.68"/><ellipse cx="8.42" cy="34.23" rx="1.32" ry="1.32" fill="#f03020" opacity="0.59"/><ellipse cx="10.68" cy="30.38" rx="1.62" ry="1.62" fill="#f03020" opacity="0.7"/><ellipse cx="43.21" cy="33.59" rx="1.64" ry="1.64" fill="#f03020" opacity="0.76"/><ellipse cx="14.99" cy="7.13" rx="1.37" ry="1.37" fill="#f03020" opacity="0.74"/><ellipse cx="13.05" cy="16.42" rx="1.55" ry="1.55" fill="#f03020" opacity="0.62"/><ellipse cx="30.6" cy="27.05" rx="1.66" ry="1.66" fill="#f03020" opacity="0.51"/><ellipse cx="10.87" cy="38.62" rx="1.5" ry="1.5" fill="#f03020" opacity="0.53"/><ellipse cx="26" cy="37" rx="4" ry="3" fill="#ff6a3a" opacity="0.8"/><ellipse cx="34" cy="44" rx="3" ry="2" fill="#ff5a3a" opacity="0.7"/><ellipse cx="14" cy="8" rx="6" ry="3" fill="#ff3a20" opacity="0.5" transform="rotate(-30 14 8)"/></g>
<g id="i_da4"><ellipse cx="42" cy="31" rx="1.8" ry="1.8" fill="#4a44d0" opacity="0.6"/><ellipse cx="40" cy="43" rx="1.6" ry="1.6" fill="#4a44d0" opacity="0.5"/><path d="M26.5,0 L43,0 L46,4.9 L45,11.8 L50,24.5 L50,50 L37.3,50 L29.4,37.3 L20.6,33.3 L18.6,25.5 L16.2,22.5 L17.6,18.6 L13.7,13.7 L15.7,9.8 L21.6,5.9 Z" fill="#4a44d0" opacity="0.05"/></g>
<g id="i_ne4"><ellipse cx="43" cy="30" rx="1.8" ry="1.8" fill="#30c8c0" opacity="0.8"/><ellipse cx="41" cy="43" rx="1.6" ry="1.6" fill="#30c8c0" opacity="0.6"/></g>
<g id="i_ci4"><path d="M26.5,0 L43,0 L46,4.9 L45,11.8 L50,24.5 L50,50 L37.3,50 L29.4,37.3 L20.6,33.3 L18.6,25.5 L16.2,22.5 L17.6,18.6 L13.7,13.7 L15.7,9.8 L21.6,5.9 Z" fill="#f03020" opacity="0.06"/><ellipse cx="42" cy="31" rx="1.5" ry="1.5" fill="#f03020" opacity="0.4"/><ellipse cx="40" cy="43" rx="1.3" ry="1.3" fill="#f03020" opacity="0.3"/></g>
<g id="i_mx3"><ellipse cx="28.17" cy="1.2" rx="1.29" ry="1.29" fill="#a8f0ff" opacity="0.75"/><ellipse cx="25.82" cy="1.91" rx="1.08" ry="1.08" fill="#a8f0ff" opacity="0.75"/><ellipse cx="23.61" cy="2.06" rx="1.13" ry="1.13" fill="#a8f0ff" opacity="0.75"/><ellipse cx="20.96" cy="1.46" rx="0.93" ry="0.93" fill="#a8f0ff" opacity="0.75"/><ellipse cx="18.25" cy="2.33" rx="1.27" ry="1.27" fill="#a8f0ff" opacity="0.75"/><ellipse cx="15.38" cy="1.31" rx="0.95" ry="0.95" fill="#a8f0ff" opacity="0.75"/><ellipse cx="12.79" cy="1.34" rx="0.98" ry="0.98" fill="#a8f0ff" opacity="0.75"/><ellipse cx="9.8" cy="1.91" rx="1.29" ry="1.29" fill="#a8f0ff" opacity="0.75"/><ellipse cx="7.7" cy="3.8" rx="1.04" ry="1.04" fill="#a8f0ff" opacity="0.75"/><ellipse cx="5.29" cy="4.42" rx="1.19" ry="1.19" fill="#a8f0ff" opacity="0.75"/><ellipse cx="4.1" cy="9.61" rx="1.27" ry="1.27" fill="#a8f0ff" opacity="0.75"/><ellipse cx="5.04" cy="12.99" rx="1.24" ry="1.24" fill="#a8f0ff" opacity="0.75"/><ellipse cx="4.71" cy="15.59" rx="1.33" ry="1.33" fill="#a8f0ff" opacity="0.75"/><ellipse cx="4.4" cy="17.49" rx="0.8" ry="0.8" fill="#a8f0ff" opacity="0.75"/><ellipse cx="4.91" cy="21.17" rx="1" ry="1" fill="#a8f0ff" opacity="0.75"/><ellipse cx="5.35" cy="25.06" rx="1.23" ry="1.23" fill="#a8f0ff" opacity="0.75"/><ellipse cx="9.25" cy="26.86" rx="1.17" ry="1.17" fill="#a8f0ff" opacity="0.75"/><ellipse cx="11.71" cy="28.3" rx="1.04" ry="1.04" fill="#a8f0ff" opacity="0.75"/><ellipse cx="12.86" cy="30.24" rx="0.82" ry="0.82" fill="#a8f0ff" opacity="0.75"/><ellipse cx="13.96" cy="33.46" rx="0.99" ry="0.99" fill="#a8f0ff" opacity="0.75"/><ellipse cx="15.89" cy="34.82" rx="1.29" ry="1.29" fill="#a8f0ff" opacity="0.75"/><ellipse cx="17.05" cy="37.44" rx="1.25" ry="1.25" fill="#a8f0ff" opacity="0.75"/><ellipse cx="18.52" cy="39.91" rx="0.84" ry="0.84" fill="#a8f0ff" opacity="0.75"/><ellipse cx="19.96" cy="42.13" rx="1.37" ry="1.37" fill="#a8f0ff" opacity="0.75"/><ellipse cx="21.26" cy="44.23" rx="1.06" ry="1.06" fill="#a8f0ff" opacity="0.75"/><ellipse cx="23.25" cy="45.59" rx="1.26" ry="1.26" fill="#a8f0ff" opacity="0.75"/><ellipse cx="25.56" cy="48.16" rx="1.28" ry="1.28" fill="#a8f0ff" opacity="0.75"/><ellipse cx="13.44" cy="43.2" rx="0.71" ry="0.86" fill="#b8f4ff" opacity="0.8"/><ellipse cx="32.85" cy="22.99" rx="0.8" ry="0.78" fill="#b8f4ff" opacity="0.42"/><ellipse cx="40.89" cy="38.1" rx="1.04" ry="0.75" fill="#b8f4ff" opacity="0.46"/><ellipse cx="28.77" cy="23" rx="1.06" ry="1.17" fill="#b8f4ff" opacity="0.73"/><ellipse cx="22.91" cy="4.16" rx="1.16" ry="0.75" fill="#b8f4ff" opacity="0.52"/><ellipse cx="31.4" cy="21.09" rx="0.75" ry="1.18" fill="#b8f4ff" opacity="0.51"/><ellipse cx="39.36" cy="23.71" rx="0.97" ry="0.83" fill="#b8f4ff" opacity="0.52"/><ellipse cx="13.33" cy="7.74" rx="0.98" ry="1.19" fill="#b8f4ff" opacity="0.56"/><ellipse cx="10.98" cy="36.92" rx="1.12" ry="0.81" fill="#b8f4ff" opacity="0.79"/><ellipse cx="34.32" cy="10.71" rx="0.75" ry="1.15" fill="#b8f4ff" opacity="0.43"/><ellipse cx="8.94" cy="6.66" rx="0.97" ry="0.94" fill="#b8f4ff" opacity="0.78"/><ellipse cx="10.31" cy="44.98" rx="1.15" ry="0.81" fill="#b8f4ff" opacity="0.5"/><ellipse cx="27.03" cy="11.7" rx="1.02" ry="1.15" fill="#b8f4ff" opacity="0.72"/><ellipse cx="18.47" cy="23.85" rx="0.85" ry="0.99" fill="#b8f4ff" opacity="0.4"/><ellipse cx="19.37" cy="8.78" rx="1.09" ry="0.91" fill="#b8f4ff" opacity="0.75"/><ellipse cx="16.98" cy="5.36" rx="0.88" ry="0.74" fill="#b8f4ff" opacity="0.48"/><ellipse cx="26.69" cy="5.25" rx="1.18" ry="1.1" fill="#b8f4ff" opacity="0.67"/><ellipse cx="33.99" cy="10.94" rx="1.1" ry="0.87" fill="#b8f4ff" opacity="0.43"/><ellipse cx="9.84" cy="15.59" rx="1.07" ry="0.81" fill="#b8f4ff" opacity="0.42"/><ellipse cx="25.42" cy="31.31" rx="0.99" ry="1.01" fill="#b8f4ff" opacity="0.47"/><ellipse cx="39.09" cy="24.67" rx="1.1" ry="1.11" fill="#b8f4ff" opacity="0.52"/><ellipse cx="18.5" cy="11.27" rx="1.07" ry="0.75" fill="#b8f4ff" opacity="0.63"/><ellipse cx="19.67" cy="38.26" rx="0.9" ry="1.17" fill="#b8f4ff" opacity="0.52"/><ellipse cx="41.92" cy="35.67" rx="0.92" ry="1.06" fill="#b8f4ff" opacity="0.78"/><ellipse cx="22.54" cy="32.33" rx="1.04" ry="0.95" fill="#b8f4ff" opacity="0.7"/></g></defs>
<rect x="0" y="0" width="520" height="720" fill="#fff"/>
<text x="7.4" y="17" font-size="11.5" fill="#111" stroke="#111" font-weight="bold" stroke="none" textLength="8.4" lengthAdjust="spacingAndGlyphs">A</text>
<rect x="87.95" y="93.81" width="11" height="19.99" fill="#b39bc3"/>
<rect x="105.2" y="83.23" width="11" height="30.57" fill="#b39bc3"/>
<rect x="122.45" y="56.93" width="11" height="56.87" fill="#b39bc3"/>
<rect x="139.7" y="53.18" width="11" height="60.62" fill="#b39bc3"/>
<rect x="156.95" y="53.18" width="11" height="60.62" fill="#b39bc3"/>
<line x1="93.45" y1="99.99" x2="93.45" y2="87.7" stroke="#4a2058" stroke-width="0.8"/>
<line x1="91.45" y1="87.7" x2="95.45" y2="87.7" stroke="#4a2058" stroke-width="0.8"/>
<line x1="91.45" y1="99.99" x2="95.45" y2="99.99" stroke="#4a2058" stroke-width="0.8"/>
<line x1="110.7" y1="87.5" x2="110.7" y2="79.28" stroke="#4a2058" stroke-width="0.8"/>
<line x1="108.7" y1="79.28" x2="112.7" y2="79.28" stroke="#4a2058" stroke-width="0.8"/>
<line x1="108.7" y1="87.5" x2="112.7" y2="87.5" stroke="#4a2058" stroke-width="0.8"/>
<line x1="127.95" y1="59.23" x2="127.95" y2="54.43" stroke="#4a2058" stroke-width="0.8"/>
<line x1="125.95" y1="54.43" x2="129.95" y2="54.43" stroke="#4a2058" stroke-width="0.8"/>
<line x1="125.95" y1="59.23" x2="129.95" y2="59.23" stroke="#4a2058" stroke-width="0.8"/>
<line x1="145.2" y1="57.25" x2="145.2" y2="49.83" stroke="#4a2058" stroke-width="0.8"/>
<line x1="143.2" y1="49.83" x2="147.2" y2="49.83" stroke="#4a2058" stroke-width="0.8"/>
<line x1="143.2" y1="57.25" x2="147.2" y2="57.25" stroke="#4a2058" stroke-width="0.8"/>
<line x1="162.45" y1="53.64" x2="162.45" y2="52.98" stroke="#4a2058" stroke-width="0.8"/>
<line x1="160.45" y1="52.98" x2="164.45" y2="52.98" stroke="#4a2058" stroke-width="0.8"/>
<line x1="160.45" y1="53.64" x2="164.45" y2="53.64" stroke="#4a2058" stroke-width="0.8"/>
<line x1="47.5" y1="34.4" x2="47.5" y2="114.3" stroke="#111" stroke-width="1"/>
<line x1="47" y1="113.8" x2="171" y2="113.8" stroke="#111" stroke-width="1"/>
<line x1="44.5" y1="113.8" x2="47.5" y2="113.8" stroke="#111" stroke-width="0.9"/>
<text x="41.6" y="116.14" font-size="6.5" text-anchor="end">0</text>
<line x1="44.5" y1="100.65" x2="47.5" y2="100.65" stroke="#111" stroke-width="0.9"/>
<text x="41.6" y="102.99" font-size="6.5" text-anchor="end">20</text>
<line x1="44.5" y1="87.5" x2="47.5" y2="87.5" stroke="#111" stroke-width="0.9"/>
<text x="41.6" y="89.84" font-size="6.5" text-anchor="end">40</text>
<line x1="44.5" y1="74.35" x2="47.5" y2="74.35" stroke="#111" stroke-width="0.9"/>
<text x="41.6" y="76.69" font-size="6.5" text-anchor="end">60</text>
<line x1="44.5" y1="61.2" x2="47.5" y2="61.2" stroke="#111" stroke-width="0.9"/>
<text x="41.6" y="63.54" font-size="6.5" text-anchor="end">80</text>
<line x1="44.5" y1="48.05" x2="47.5" y2="48.05" stroke="#111" stroke-width="0.9"/>
<text x="41.6" y="50.39" font-size="6.5" text-anchor="end">100</text>
<line x1="44.5" y1="34.9" x2="47.5" y2="34.9" stroke="#111" stroke-width="0.9"/>
<text x="41.6" y="37.24" font-size="6.5" text-anchor="end">120</text>
<line x1="58.95" y1="113.8" x2="58.95" y2="116.3" stroke="#111" stroke-width="0.8"/>
<line x1="76.2" y1="113.8" x2="76.2" y2="116.3" stroke="#111" stroke-width="0.8"/>
<line x1="93.45" y1="113.8" x2="93.45" y2="116.3" stroke="#111" stroke-width="0.8"/>
<line x1="110.7" y1="113.8" x2="110.7" y2="116.3" stroke="#111" stroke-width="0.8"/>
<line x1="127.95" y1="113.8" x2="127.95" y2="116.3" stroke="#111" stroke-width="0.8"/>
<line x1="145.2" y1="113.8" x2="145.2" y2="116.3" stroke="#111" stroke-width="0.8"/>
<line x1="162.45" y1="113.8" x2="162.45" y2="116.3" stroke="#111" stroke-width="0.8"/>
<circle cx="55.25" cy="113.8" r="1.35" fill="#3a1046"/>
<circle cx="58.95" cy="113.8" r="1.35" fill="#3a1046"/>
<circle cx="62.65" cy="113.8" r="1.35" fill="#3a1046"/>
<circle cx="72.5" cy="113.8" r="1.35" fill="#3a1046"/>
<circle cx="76.2" cy="113.8" r="1.35" fill="#3a1046"/>
<circle cx="79.9" cy="113.8" r="1.35" fill="#3a1046"/>
<circle cx="93.45" cy="82.57" r="1.35" fill="#3a1046"/>
<circle cx="91.75" cy="99.2" r="1.35" fill="#3a1046"/>
<circle cx="95.95" cy="95.52" r="1.35" fill="#3a1046"/>
<circle cx="108.8" cy="78.1" r="1.35" fill="#3a1046"/>
<circle cx="113.4" cy="79.81" r="1.35" fill="#3a1046"/>
<circle cx="110.9" cy="90.33" r="1.35" fill="#3a1046"/>
<circle cx="127.95" cy="52.72" r="1.35" fill="#3a1046"/>
<circle cx="125.75" cy="59.49" r="1.35" fill="#3a1046"/>
<circle cx="130.25" cy="57.78" r="1.35" fill="#3a1046"/>
<circle cx="145.2" cy="47.59" r="1.35" fill="#3a1046"/>
<circle cx="145.2" cy="52.72" r="1.35" fill="#3a1046"/>
<circle cx="145.2" cy="56.93" r="1.35" fill="#3a1046"/>
<circle cx="158.85" cy="53.11" r="1.35" fill="#3a1046"/>
<circle cx="162.85" cy="53.38" r="1.35" fill="#3a1046"/>
<circle cx="166.35" cy="53.38" r="1.35" fill="#3a1046"/>
<text x="22.1" y="73.4" font-size="7.2" text-anchor="middle" textLength="45" lengthAdjust="spacingAndGlyphs" transform="rotate(-90 22.1 73.4)">IL-1<tspan font-style="italic">β</tspan> (pg/mL)</text>
<text x="58.95" y="126.8" font-size="6.5" text-anchor="middle">–</text>
<text x="76.2" y="126.8" font-size="6.5" text-anchor="middle">1.0</text>
<text x="93.45" y="126.8" font-size="6.5" text-anchor="middle">–</text>
<text x="110.7" y="126.8" font-size="6.5" text-anchor="middle">0.1</text>
<text x="127.95" y="126.8" font-size="6.5" text-anchor="middle">0.5</text>
<text x="145.2" y="126.8" font-size="6.5" text-anchor="middle">1.0</text>
<text x="162.45" y="126.8" font-size="6.5" text-anchor="middle">Nig</text>
<line x1="68.3" y1="128.7" x2="150.4" y2="128.7" stroke="#555" stroke-width="0.8"/>
<text x="110.4" y="135.1" font-size="6.6" text-anchor="middle" textLength="37" lengthAdjust="spacingAndGlyphs">CC (mg/mL)</text>
<line x1="88" y1="139.2" x2="166.5" y2="139.2" stroke="#555" stroke-width="0.8"/>
<text x="127.2" y="147" font-size="6.6" text-anchor="middle">LPS</text>
<line x1="94" y1="34.7" x2="128.6" y2="34.7" stroke="#6a6a6a" stroke-width="1.1"/>
<circle cx="108.5" cy="32.8" r="1.0" fill="#1a1a1a"/><circle cx="111.5" cy="32.8" r="1.0" fill="#1a1a1a"/><circle cx="114.5" cy="32.8" r="1.0" fill="#1a1a1a"/>
<line x1="94" y1="28.7" x2="146.4" y2="28.7" stroke="#6a6a6a" stroke-width="1.1"/>
<circle cx="117.2" cy="26.8" r="1.0" fill="#1a1a1a"/><circle cx="120.2" cy="26.8" r="1.0" fill="#1a1a1a"/><circle cx="123.2" cy="26.8" r="1.0" fill="#1a1a1a"/>
<line x1="94" y1="23.3" x2="162.9" y2="23.3" stroke="#6a6a6a" stroke-width="1.1"/>
<circle cx="125.5" cy="21.4" r="1.0" fill="#1a1a1a"/><circle cx="128.5" cy="21.4" r="1.0" fill="#1a1a1a"/><circle cx="131.5" cy="21.4" r="1.0" fill="#1a1a1a"/>
<text x="7.8" y="176" font-size="11.5" fill="#111" stroke="#111" font-weight="bold" stroke="none" textLength="7.6" lengthAdjust="spacingAndGlyphs">B</text>
<text x="55.4" y="178" font-size="6.4" textLength="20.6" lengthAdjust="spacingAndGlyphs">Human</text>
<text x="55.4" y="186.2" font-size="6.4" textLength="35.4" lengthAdjust="spacingAndGlyphs">Neutrophils</text>
<line x1="50.8" y1="189.3" x2="101" y2="189.3" stroke="#555" stroke-width="0.8"/>
<text x="34.5" y="198.6" font-size="6.5">CC</text>
<text x="34.5" y="208.3" font-size="6.5">LPS</text>
<text x="64" y="198.6" font-size="6.5" text-anchor="middle">–</text>
<text x="89.2" y="198.6" font-size="6.5" text-anchor="middle">1.0</text>
<text x="64" y="208.3" font-size="6.5" text-anchor="middle">+</text>
<text x="89.2" y="208.3" font-size="6.5" text-anchor="middle">+</text>
<rect x="50.3" y="212.3" width="51" height="13.1" fill="#f4f4f4" stroke="#777" stroke-width="0.7"/>
<rect x="50.3" y="228" width="51" height="41.4" fill="#f4f4f4" stroke="#777" stroke-width="0.7"/>
<rect x="50.3" y="272.2" width="51" height="14.3" fill="#f4f4f4" stroke="#777" stroke-width="0.7"/>
<rect x="50.3" y="291.2" width="51" height="17" fill="#f4f4f4" stroke="#777" stroke-width="0.7"/>
<rect x="50.3" y="310.3" width="51" height="15.6" fill="#f4f4f4" stroke="#777" stroke-width="0.7"/>
<text x="40.5" y="221.1" font-size="6.5" text-anchor="end">42</text>
<line x1="42" y1="218.8" x2="47.6" y2="218.8" stroke="#333" stroke-width="0.8"/>
<text x="40.5" y="235.9" font-size="6.5" text-anchor="end">53</text>
<line x1="42" y1="233.6" x2="47.6" y2="233.6" stroke="#333" stroke-width="0.8"/>
<text x="40.5" y="265.1" font-size="6.5" text-anchor="end">30</text>
<line x1="42" y1="262.8" x2="47.6" y2="262.8" stroke="#333" stroke-width="0.8"/>
<text x="40.5" y="281.7" font-size="6.5" text-anchor="end">30</text>
<line x1="42" y1="279.4" x2="47.6" y2="279.4" stroke="#333" stroke-width="0.8"/>
<text x="40.5" y="301.9" font-size="6.5" text-anchor="end">30</text>
<line x1="42" y1="299.6" x2="47.6" y2="299.6" stroke="#333" stroke-width="0.8"/>
<text x="40.5" y="320.5" font-size="6.5" text-anchor="end">17</text>
<line x1="42" y1="318.2" x2="47.6" y2="318.2" stroke="#333" stroke-width="0.8"/>
<line x1="28.7" y1="214.5" x2="28.7" y2="285.8" stroke="#555" stroke-width="0.8"/>
<line x1="28.7" y1="292.5" x2="28.7" y2="326.4" stroke="#555" stroke-width="0.8"/>
<text x="24.2" y="250" font-size="6.5" text-anchor="middle" transform="rotate(-90 24.2 250)">Lys</text>
<text x="24.2" y="308.5" font-size="6.5" text-anchor="middle" transform="rotate(-90 24.2 308.5)">Sup</text>
<text x="105.4" y="221.2" font-size="6.7">β-actin</text>
<text x="105.4" y="236.3" font-size="6.7">GSDMD-pro</text>
<text x="105.4" y="265.3" font-size="6.7">GSDMD-p30</text>
<text x="105.4" y="281.4" font-size="6.7">GSDMD-p30</text>
<text x="105.4" y="290" font-size="6.7">(long exp.)</text>
<text x="105.4" y="302.4" font-size="6.7">GSDMD-p30</text>
<text x="105.4" y="321.2" font-size="6.7">IL-1β-p17</text>
<g filter="url(#blur06)"><rect x="51" y="273" width="50" height="13" fill="#e6e6e6"/>
<rect x="51" y="311" width="50" height="14.5" fill="#e9e9e9"/>
<rect x="51" y="292" width="50" height="16" fill="#f0f0f0"/>
<rect x="55" y="217.2" width="20.5" height="4.4" rx="2.2" fill="#000" opacity="1"/>
<rect x="80.8" y="217.15" width="17" height="3.9" rx="1.95" fill="#000" opacity="1"/>
<rect x="93" y="216.4" width="5.5" height="4.4" rx="2.2" fill="#000" opacity="1"/>
<rect x="54.5" y="231" width="18.5" height="5.2" rx="2.6" fill="#000" opacity="1"/>
<rect x="55" y="237.7" width="17" height="2.4" rx="1.2" fill="#9a9a9a" opacity="1"/>
<rect x="55" y="240.3" width="17" height="2.4" rx="1.2" fill="#8a8a8a" opacity="1"/>
<rect x="55" y="244.1" width="17" height="2.6" rx="1.3" fill="#6a6a6a" opacity="1"/>
<rect x="56" y="260.1" width="18" height="3.4" rx="1.7" fill="#c4c4c4" opacity="1"/>
<rect x="79.2" y="230.75" width="18.8" height="6.5" rx="3.25" fill="#000" opacity="1"/>
<rect x="79.5" y="237.9" width="18" height="3.2" rx="1.6" fill="#111" opacity="1"/>
<rect x="79.5" y="241.4" width="18" height="2.8" rx="1.4" fill="#333" opacity="1"/>
<rect x="79.5" y="244.9" width="18" height="3.4" rx="1.7" fill="#222" opacity="1"/>
<rect x="80" y="249" width="17" height="4" rx="2" fill="#999" opacity="1"/>
<rect x="80" y="254" width="17" height="4" rx="2" fill="#c4c4c4" opacity="1"/>
<rect x="80" y="260.2" width="17" height="6" rx="3" fill="#a8a8a8" opacity="1"/>
<rect x="55" y="277.5" width="19" height="3.4" rx="1.7" fill="#8a8a8a" opacity="1"/>
<rect x="81.4" y="275" width="15.1" height="9" rx="4.5" fill="#000" opacity="1"/>
<rect x="55" y="296.3" width="12.5" height="5" rx="2.5" fill="#8a8a8a" opacity="1"/>
<rect x="83.5" y="296.75" width="13" height="8.5" rx="4.25" fill="#000" opacity="1"/>
<rect x="57" y="316.5" width="7" height="5" rx="2.5" fill="#c4c4c4" opacity="1"/>
<rect x="83.5" y="316.7" width="14" height="4.6" rx="2.3" fill="#1a1a1a" opacity="1"/></g>
<rect x="50.3" y="212.3" width="51" height="13.1" fill="none" stroke="#777" stroke-width="0.7"/>
<rect x="50.3" y="228" width="51" height="41.4" fill="none" stroke="#777" stroke-width="0.7"/>
<rect x="50.3" y="272.2" width="51" height="14.3" fill="none" stroke="#777" stroke-width="0.7"/>
<rect x="50.3" y="291.2" width="51" height="17" fill="none" stroke="#777" stroke-width="0.7"/>
<rect x="50.3" y="310.3" width="51" height="15.6" fill="none" stroke="#777" stroke-width="0.7"/>
<text x="7.1" y="353.7" font-size="11.5" fill="#111" stroke="#111" font-weight="bold" stroke="none" textLength="8" lengthAdjust="spacingAndGlyphs">C</text>
<rect x="52" y="428.88" width="10" height="20.92" fill="#b39bc3"/>
<rect x="67.2" y="378.92" width="10" height="70.88" fill="#b39bc3"/>
<rect x="82.4" y="394.62" width="10" height="55.18" fill="#b39bc3"/>
<rect x="97.6" y="406.9" width="10" height="42.9" fill="#b39bc3"/>
<rect x="112.8" y="423.8" width="10" height="26" fill="#b39bc3"/>
<rect x="128" y="382.68" width="10" height="67.12" fill="#b39bc3"/>
<rect x="143.2" y="393.11" width="10" height="56.69" fill="#b39bc3"/>
<rect x="158.4" y="376.87" width="10" height="72.93" fill="#b39bc3"/>
<line x1="57" y1="435.61" x2="57" y2="422.28" stroke="#4a2058" stroke-width="0.8"/>
<line x1="55" y1="422.28" x2="59" y2="422.28" stroke="#4a2058" stroke-width="0.8"/>
<line x1="55" y1="435.61" x2="59" y2="435.61" stroke="#4a2058" stroke-width="0.8"/>
<line x1="72.2" y1="381.82" x2="72.2" y2="375.42" stroke="#4a2058" stroke-width="0.8"/>
<line x1="70.2" y1="375.42" x2="74.2" y2="375.42" stroke="#4a2058" stroke-width="0.8"/>
<line x1="70.2" y1="381.82" x2="74.2" y2="381.82" stroke="#4a2058" stroke-width="0.8"/>
<line x1="87.4" y1="404.99" x2="87.4" y2="383.47" stroke="#4a2058" stroke-width="0.8"/>
<line x1="85.4" y1="383.47" x2="89.4" y2="383.47" stroke="#4a2058" stroke-width="0.8"/>
<line x1="85.4" y1="404.99" x2="89.4" y2="404.99" stroke="#4a2058" stroke-width="0.8"/>
<line x1="102.6" y1="415.15" x2="102.6" y2="398.52" stroke="#4a2058" stroke-width="0.8"/>
<line x1="100.6" y1="398.52" x2="104.6" y2="398.52" stroke="#4a2058" stroke-width="0.8"/>
<line x1="100.6" y1="415.15" x2="104.6" y2="415.15" stroke="#4a2058" stroke-width="0.8"/>
<line x1="117.8" y1="426.7" x2="117.8" y2="420.3" stroke="#4a2058" stroke-width="0.8"/>
<line x1="115.8" y1="420.3" x2="119.8" y2="420.3" stroke="#4a2058" stroke-width="0.8"/>
<line x1="115.8" y1="426.7" x2="119.8" y2="426.7" stroke="#4a2058" stroke-width="0.8"/>
<line x1="133" y1="384.46" x2="133" y2="380.63" stroke="#4a2058" stroke-width="0.8"/>
<line x1="131" y1="380.63" x2="135" y2="380.63" stroke="#4a2058" stroke-width="0.8"/>
<line x1="131" y1="384.46" x2="135" y2="384.46" stroke="#4a2058" stroke-width="0.8"/>
<line x1="148.2" y1="395.68" x2="148.2" y2="389.41" stroke="#4a2058" stroke-width="0.8"/>
<line x1="146.2" y1="389.41" x2="150.2" y2="389.41" stroke="#4a2058" stroke-width="0.8"/>
<line x1="146.2" y1="395.68" x2="150.2" y2="395.68" stroke="#4a2058" stroke-width="0.8"/>
<line x1="163.4" y1="379.84" x2="163.4" y2="374.56" stroke="#4a2058" stroke-width="0.8"/>
<line x1="161.4" y1="374.56" x2="165.4" y2="374.56" stroke="#4a2058" stroke-width="0.8"/>
<line x1="161.4" y1="379.84" x2="165.4" y2="379.84" stroke="#4a2058" stroke-width="0.8"/>
<line x1="46.8" y1="370.1" x2="46.8" y2="450.3" stroke="#111" stroke-width="1"/>
<line x1="46.3" y1="449.8" x2="172" y2="449.8" stroke="#111" stroke-width="1"/>
<line x1="43.8" y1="449.8" x2="46.8" y2="449.8" stroke="#111" stroke-width="0.9"/>
<text x="40.6" y="452.14" font-size="6.5" text-anchor="end">0</text>
<line x1="43.8" y1="436.6" x2="46.8" y2="436.6" stroke="#111" stroke-width="0.9"/>
<text x="40.6" y="438.94" font-size="6.5" text-anchor="end">20</text>
<line x1="43.8" y1="423.4" x2="46.8" y2="423.4" stroke="#111" stroke-width="0.9"/>
<text x="40.6" y="425.74" font-size="6.5" text-anchor="end">40</text>
<line x1="43.8" y1="410.2" x2="46.8" y2="410.2" stroke="#111" stroke-width="0.9"/>
<text x="40.6" y="412.54" font-size="6.5" text-anchor="end">60</text>
<line x1="43.8" y1="397" x2="46.8" y2="397" stroke="#111" stroke-width="0.9"/>
<text x="40.6" y="399.34" font-size="6.5" text-anchor="end">80</text>
<line x1="43.8" y1="383.8" x2="46.8" y2="383.8" stroke="#111" stroke-width="0.9"/>
<text x="40.6" y="386.14" font-size="6.5" text-anchor="end">100</text>
<line x1="43.8" y1="370.6" x2="46.8" y2="370.6" stroke="#111" stroke-width="0.9"/>
<text x="40.6" y="372.94" font-size="6.5" text-anchor="end">120</text>
<line x1="57" y1="449.8" x2="57" y2="452.3" stroke="#111" stroke-width="0.8"/>
<line x1="72.2" y1="449.8" x2="72.2" y2="452.3" stroke="#111" stroke-width="0.8"/>
<line x1="87.4" y1="449.8" x2="87.4" y2="452.3" stroke="#111" stroke-width="0.8"/>
<line x1="102.6" y1="449.8" x2="102.6" y2="452.3" stroke="#111" stroke-width="0.8"/>
<line x1="117.8" y1="449.8" x2="117.8" y2="452.3" stroke="#111" stroke-width="0.8"/>
<line x1="133" y1="449.8" x2="133" y2="452.3" stroke="#111" stroke-width="0.8"/>
<line x1="148.2" y1="449.8" x2="148.2" y2="452.3" stroke="#111" stroke-width="0.8"/>
<line x1="163.4" y1="449.8" x2="163.4" y2="452.3" stroke="#111" stroke-width="0.8"/>
<circle cx="56.9" cy="415.81" r="1.35" fill="#3a1046"/>
<circle cx="54.9" cy="436.93" r="1.35" fill="#3a1046"/>
<circle cx="59.5" cy="434.29" r="1.35" fill="#3a1046"/>
<circle cx="71.8" cy="372.78" r="1.35" fill="#3a1046"/>
<circle cx="70" cy="382.28" r="1.35" fill="#3a1046"/>
<circle cx="74.5" cy="380.5" r="1.35" fill="#3a1046"/>
<circle cx="87.5" cy="374.23" r="1.35" fill="#3a1046"/>
<circle cx="87.5" cy="398.78" r="1.35" fill="#3a1046"/>
<circle cx="87.5" cy="410.53" r="1.35" fill="#3a1046"/>
<circle cx="102.3" cy="390.8" r="1.35" fill="#3a1046"/>
<circle cx="100.8" cy="414.29" r="1.35" fill="#3a1046"/>
<circle cx="105.2" cy="413.83" r="1.35" fill="#3a1046"/>
<circle cx="117.7" cy="417.2" r="1.35" fill="#3a1046"/>
<circle cx="115.7" cy="428.81" r="1.35" fill="#3a1046"/>
<circle cx="120" cy="425.38" r="1.35" fill="#3a1046"/>
<circle cx="132.9" cy="378.72" r="1.35" fill="#3a1046"/>
<circle cx="130.9" cy="385.12" r="1.35" fill="#3a1046"/>
<circle cx="135.3" cy="382.88" r="1.35" fill="#3a1046"/>
<circle cx="148" cy="385.91" r="1.35" fill="#3a1046"/>
<circle cx="146.2" cy="397" r="1.35" fill="#3a1046"/>
<circle cx="150.5" cy="394.1" r="1.35" fill="#3a1046"/>
<circle cx="161.8" cy="373.7" r="1.35" fill="#3a1046"/>
<circle cx="165.5" cy="374.43" r="1.35" fill="#3a1046"/>
<circle cx="163.2" cy="381.62" r="1.35" fill="#3a1046"/>
<text x="22.8" y="409" font-size="7.2" text-anchor="middle" textLength="45" lengthAdjust="spacingAndGlyphs" transform="rotate(-90 22.8 409)">IL-1<tspan font-style="italic">β</tspan> (pg/mL)</text>
<line x1="71.9" y1="359.1" x2="117.5" y2="359.1" stroke="#6a6a6a" stroke-width="1.1"/>
<circle cx="92" cy="356.2" r="1.0" fill="#1a1a1a"/><circle cx="95" cy="356.2" r="1.0" fill="#1a1a1a"/><circle cx="98" cy="356.2" r="1.0" fill="#1a1a1a"/>
<line x1="71.9" y1="365.8" x2="102.5" y2="365.8" stroke="#6a6a6a" stroke-width="1.1"/>
<circle cx="87" cy="362.9" r="1.0" fill="#1a1a1a"/>
<text x="43.2" y="461.7" font-size="6.4" text-anchor="end">DSF</text>
<text x="57" y="461.7" font-size="6.4" text-anchor="middle">–</text>
<text x="72.2" y="461.7" font-size="6.4" text-anchor="middle">–</text>
<text x="87.4" y="461.7" font-size="6.4" text-anchor="middle">35</text>
<text x="102.6" y="461.7" font-size="6.4" text-anchor="middle">40</text>
<text x="117.8" y="461.7" font-size="6.4" text-anchor="middle">50</text>
<text x="133" y="461.7" font-size="6.4" text-anchor="middle">–</text>
<text x="148.2" y="461.7" font-size="6.4" text-anchor="middle">–</text>
<text x="163.4" y="461.7" font-size="6.4" text-anchor="middle">–</text>
<text x="43.2" y="472.7" font-size="6.4" text-anchor="end">VX-765</text>
<text x="57" y="472.7" font-size="6.4" text-anchor="middle">–</text>
<text x="72.2" y="472.7" font-size="6.4" text-anchor="middle">–</text>
<text x="87.4" y="472.7" font-size="6.4" text-anchor="middle">–</text>
<text x="102.6" y="472.7" font-size="6.4" text-anchor="middle">–</text>
<text x="117.8" y="472.7" font-size="6.4" text-anchor="middle">–</text>
<text x="133" y="472.7" font-size="6.4" text-anchor="middle">50</text>
<text x="148.2" y="472.7" font-size="6.4" text-anchor="middle">–</text>
<text x="163.4" y="472.7" font-size="6.4" text-anchor="middle">–</text>
<text x="43.2" y="483.5" font-size="6.4" text-anchor="end">Nec-1s</text>
<text x="57" y="483.5" font-size="6.4" text-anchor="middle">–</text>
<text x="72.2" y="483.5" font-size="6.4" text-anchor="middle">–</text>
<text x="87.4" y="483.5" font-size="6.4" text-anchor="middle">–</text>
<text x="102.6" y="483.5" font-size="6.4" text-anchor="middle">–</text>
<text x="117.8" y="483.5" font-size="6.4" text-anchor="middle">–</text>
<text x="133" y="483.5" font-size="6.4" text-anchor="middle">–</text>
<text x="148.2" y="483.5" font-size="6.4" text-anchor="middle">50</text>
<text x="163.4" y="483.5" font-size="6.4" text-anchor="middle">–</text>
<text x="43.2" y="494.2" font-size="6.4" text-anchor="end">NSA</text>
<text x="57" y="494.2" font-size="6.4" text-anchor="middle">–</text>
<text x="72.2" y="494.2" font-size="6.4" text-anchor="middle">–</text>
<text x="87.4" y="494.2" font-size="6.4" text-anchor="middle">–</text>
<text x="102.6" y="494.2" font-size="6.4" text-anchor="middle">–</text>
<text x="117.8" y="494.2" font-size="6.4" text-anchor="middle">–</text>
<text x="133" y="494.2" font-size="6.4" text-anchor="middle">–</text>
<text x="148.2" y="494.2" font-size="6.4" text-anchor="middle">–</text>
<text x="163.4" y="494.2" font-size="6.4" text-anchor="middle">15</text>
<text x="43.2" y="506.2" font-size="6.4" text-anchor="end">(μM)</text>
<line x1="66.8" y1="498.2" x2="170.8" y2="498.2" stroke="#555" stroke-width="0.8"/>
<text x="117" y="506.3" font-size="6.6" text-anchor="middle">CC 1.0</text>
<line x1="66.8" y1="510" x2="170.8" y2="510" stroke="#555" stroke-width="0.8"/>
<text x="117" y="518" font-size="6.6" text-anchor="middle">LPS</text>
<text x="7.5" y="546.7" font-size="11.5" fill="#111" stroke="#111" font-weight="bold" stroke="none" textLength="8.2" lengthAdjust="spacingAndGlyphs">D</text>
<rect x="54.2" y="602.39" width="10" height="40.71" fill="#b39bc3"/>
<rect x="69.5" y="579.01" width="10" height="64.09" fill="#b39bc3"/>
<rect x="84.8" y="607.11" width="10" height="35.99" fill="#b39bc3"/>
<rect x="100.1" y="617.1" width="10" height="26" fill="#b39bc3"/>
<rect x="115.4" y="606.33" width="10" height="36.77" fill="#b39bc3"/>
<rect x="130.7" y="587.15" width="10" height="55.95" fill="#b39bc3"/>
<rect x="146" y="586.36" width="10" height="56.74" fill="#b39bc3"/>
<rect x="161.3" y="589.38" width="10" height="53.72" fill="#b39bc3"/>
<line x1="59.2" y1="611.32" x2="59.2" y2="595.16" stroke="#4a2058" stroke-width="0.8"/>
<line x1="57.2" y1="595.16" x2="61.2" y2="595.16" stroke="#4a2058" stroke-width="0.8"/>
<line x1="57.2" y1="611.32" x2="61.2" y2="611.32" stroke="#4a2058" stroke-width="0.8"/>
<line x1="74.5" y1="582.29" x2="74.5" y2="573.62" stroke="#4a2058" stroke-width="0.8"/>
<line x1="72.5" y1="573.62" x2="76.5" y2="573.62" stroke="#4a2058" stroke-width="0.8"/>
<line x1="72.5" y1="582.29" x2="76.5" y2="582.29" stroke="#4a2058" stroke-width="0.8"/>
<line x1="89.8" y1="613.42" x2="89.8" y2="598.45" stroke="#4a2058" stroke-width="0.8"/>
<line x1="87.8" y1="598.45" x2="91.8" y2="598.45" stroke="#4a2058" stroke-width="0.8"/>
<line x1="87.8" y1="613.42" x2="91.8" y2="613.42" stroke="#4a2058" stroke-width="0.8"/>
<line x1="105.1" y1="622.09" x2="105.1" y2="611.84" stroke="#4a2058" stroke-width="0.8"/>
<line x1="103.1" y1="611.84" x2="107.1" y2="611.84" stroke="#4a2058" stroke-width="0.8"/>
<line x1="103.1" y1="622.09" x2="107.1" y2="622.09" stroke="#4a2058" stroke-width="0.8"/>
<line x1="120.4" y1="608.69" x2="120.4" y2="603.7" stroke="#4a2058" stroke-width="0.8"/>
<line x1="118.4" y1="603.7" x2="122.4" y2="603.7" stroke="#4a2058" stroke-width="0.8"/>
<line x1="118.4" y1="608.69" x2="122.4" y2="608.69" stroke="#4a2058" stroke-width="0.8"/>
<line x1="135.7" y1="589.25" x2="135.7" y2="584" stroke="#4a2058" stroke-width="0.8"/>
<line x1="133.7" y1="584" x2="137.7" y2="584" stroke="#4a2058" stroke-width="0.8"/>
<line x1="133.7" y1="589.25" x2="137.7" y2="589.25" stroke="#4a2058" stroke-width="0.8"/>
<line x1="151" y1="589.25" x2="151" y2="583.34" stroke="#4a2058" stroke-width="0.8"/>
<line x1="149" y1="583.34" x2="153" y2="583.34" stroke="#4a2058" stroke-width="0.8"/>
<line x1="149" y1="589.25" x2="153" y2="589.25" stroke="#4a2058" stroke-width="0.8"/>
<line x1="166.3" y1="590.57" x2="166.3" y2="587.68" stroke="#4a2058" stroke-width="0.8"/>
<line x1="164.3" y1="587.68" x2="168.3" y2="587.68" stroke="#4a2058" stroke-width="0.8"/>
<line x1="164.3" y1="590.57" x2="168.3" y2="590.57" stroke="#4a2058" stroke-width="0.8"/>
<line x1="48.9" y1="563.8" x2="48.9" y2="643.6" stroke="#111" stroke-width="1"/>
<line x1="48.4" y1="643.1" x2="175" y2="643.1" stroke="#111" stroke-width="1"/>
<line x1="45.9" y1="643.1" x2="48.9" y2="643.1" stroke="#111" stroke-width="0.9"/>
<text x="43.4" y="645.55" font-size="6.8" text-anchor="end">0.14</text>
<line x1="45.9" y1="616.83" x2="48.9" y2="616.83" stroke="#111" stroke-width="0.9"/>
<text x="43.4" y="619.28" font-size="6.8" text-anchor="end">0.16</text>
<line x1="45.9" y1="590.57" x2="48.9" y2="590.57" stroke="#111" stroke-width="0.9"/>
<text x="43.4" y="593.01" font-size="6.8" text-anchor="end">0.18</text>
<line x1="45.9" y1="564.3" x2="48.9" y2="564.3" stroke="#111" stroke-width="0.9"/>
<text x="43.4" y="566.75" font-size="6.8" text-anchor="end">0.20</text>
<line x1="59.2" y1="643.1" x2="59.2" y2="645.6" stroke="#111" stroke-width="0.8"/>
<line x1="74.5" y1="643.1" x2="74.5" y2="645.6" stroke="#111" stroke-width="0.8"/>
<line x1="89.8" y1="643.1" x2="89.8" y2="645.6" stroke="#111" stroke-width="0.8"/>
<line x1="105.1" y1="643.1" x2="105.1" y2="645.6" stroke="#111" stroke-width="0.8"/>
<line x1="120.4" y1="643.1" x2="120.4" y2="645.6" stroke="#111" stroke-width="0.8"/>
<line x1="135.7" y1="643.1" x2="135.7" y2="645.6" stroke="#111" stroke-width="0.8"/>
<line x1="151" y1="643.1" x2="151" y2="645.6" stroke="#111" stroke-width="0.8"/>
<line x1="166.3" y1="643.1" x2="166.3" y2="645.6" stroke="#111" stroke-width="0.8"/>
<circle cx="57.5" cy="591.22" r="1.35" fill="#3a1046"/>
<circle cx="61.5" cy="594.64" r="1.35" fill="#3a1046"/>
<circle cx="59.4" cy="619.59" r="1.35" fill="#3a1046"/>
<circle cx="74.4" cy="570.21" r="1.35" fill="#3a1046"/>
<circle cx="72.7" cy="579.53" r="1.35" fill="#3a1046"/>
<circle cx="74.9" cy="585.71" r="1.35" fill="#3a1046"/>
<circle cx="89.6" cy="590.57" r="1.35" fill="#3a1046"/>
<circle cx="88.8" cy="610.4" r="1.35" fill="#3a1046"/>
<circle cx="89.6" cy="618.54" r="1.35" fill="#3a1046"/>
<circle cx="104.5" cy="609.48" r="1.35" fill="#3a1046"/>
<circle cx="104" cy="618.02" r="1.35" fill="#3a1046"/>
<circle cx="105.1" cy="625.5" r="1.35" fill="#3a1046"/>
<circle cx="118.5" cy="601.34" r="1.35" fill="#3a1046"/>
<circle cx="122" cy="602.65" r="1.35" fill="#3a1046"/>
<circle cx="120.1" cy="607.9" r="1.35" fill="#3a1046"/>
<circle cx="133.7" cy="583.08" r="1.35" fill="#3a1046"/>
<circle cx="136.9" cy="585.18" r="1.35" fill="#3a1046"/>
<circle cx="135.6" cy="587.94" r="1.35" fill="#3a1046"/>
<circle cx="150.4" cy="581.11" r="1.35" fill="#3a1046"/>
<circle cx="148.2" cy="588.47" r="1.35" fill="#3a1046"/>
<circle cx="152.5" cy="586.23" r="1.35" fill="#3a1046"/>
<circle cx="164.4" cy="587.68" r="1.35" fill="#3a1046"/>
<circle cx="167.9" cy="587.68" r="1.35" fill="#3a1046"/>
<circle cx="166" cy="591.22" r="1.35" fill="#3a1046"/>
<text x="22.8" y="602" font-size="7.2" text-anchor="middle" textLength="61" lengthAdjust="spacingAndGlyphs" transform="rotate(-90 22.8 602)">LDH (490 nm O.D.)</text>
<line x1="75" y1="565" x2="90.6" y2="565" stroke="#6a6a6a" stroke-width="1.1"/>
<circle cx="81.3" cy="562" r="1.0" fill="#1a1a1a"/><circle cx="84.3" cy="562" r="1.0" fill="#1a1a1a"/>
<line x1="75" y1="558.8" x2="105.4" y2="558.8" stroke="#6a6a6a" stroke-width="1.1"/>
<circle cx="87.2" cy="555.8" r="1.0" fill="#1a1a1a"/><circle cx="90.2" cy="555.8" r="1.0" fill="#1a1a1a"/><circle cx="93.2" cy="555.8" r="1.0" fill="#1a1a1a"/>
<line x1="75" y1="552" x2="120.2" y2="552" stroke="#6a6a6a" stroke-width="1.1"/>
<circle cx="97.6" cy="549" r="1.0" fill="#1a1a1a"/>
<text x="46" y="656" font-size="6.4" text-anchor="end">DSF</text>
<text x="59.2" y="656" font-size="6.4" text-anchor="middle">–</text>
<text x="74.5" y="656" font-size="6.4" text-anchor="middle">–</text>
<text x="89.8" y="656" font-size="6.4" text-anchor="middle">35</text>
<text x="105.1" y="656" font-size="6.4" text-anchor="middle">40</text>
<text x="120.4" y="656" font-size="6.4" text-anchor="middle">50</text>
<text x="135.7" y="656" font-size="6.4" text-anchor="middle">–</text>
<text x="151" y="656" font-size="6.4" text-anchor="middle">–</text>
<text x="166.3" y="656" font-size="6.4" text-anchor="middle">–</text>
<text x="46" y="666.2" font-size="6.4" text-anchor="end">VX-765</text>
<text x="59.2" y="666.2" font-size="6.4" text-anchor="middle">–</text>
<text x="74.5" y="666.2" font-size="6.4" text-anchor="middle">–</text>
<text x="89.8" y="666.2" font-size="6.4" text-anchor="middle">–</text>
<text x="105.1" y="666.2" font-size="6.4" text-anchor="middle">–</text>
<text x="120.4" y="666.2" font-size="6.4" text-anchor="middle">–</text>
<text x="135.7" y="666.2" font-size="6.4" text-anchor="middle">50</text>
<text x="151" y="666.2" font-size="6.4" text-anchor="middle">–</text>
<text x="166.3" y="666.2" font-size="6.4" text-anchor="middle">–</text>
<text x="46" y="677" font-size="6.4" text-anchor="end">Nec-1s</text>
<text x="59.2" y="677" font-size="6.4" text-anchor="middle">–</text>
<text x="74.5" y="677" font-size="6.4" text-anchor="middle">–</text>
<text x="89.8" y="677" font-size="6.4" text-anchor="middle">–</text>
<text x="105.1" y="677" font-size="6.4" text-anchor="middle">–</text>
<text x="120.4" y="677" font-size="6.4" text-anchor="middle">–</text>
<text x="135.7" y="677" font-size="6.4" text-anchor="middle">–</text>
<text x="151" y="677" font-size="6.4" text-anchor="middle">50</text>
<text x="166.3" y="677" font-size="6.4" text-anchor="middle">–</text>
<text x="46" y="687.7" font-size="6.4" text-anchor="end">NSA</text>
<text x="59.2" y="687.7" font-size="6.4" text-anchor="middle">–</text>
<text x="74.5" y="687.7" font-size="6.4" text-anchor="middle">–</text>
<text x="89.8" y="687.7" font-size="6.4" text-anchor="middle">–</text>
<text x="105.1" y="687.7" font-size="6.4" text-anchor="middle">–</text>
<text x="120.4" y="687.7" font-size="6.4" text-anchor="middle">–</text>
<text x="135.7" y="687.7" font-size="6.4" text-anchor="middle">–</text>
<text x="151" y="687.7" font-size="6.4" text-anchor="middle">–</text>
<text x="166.3" y="687.7" font-size="6.4" text-anchor="middle">15</text>
<text x="46" y="699.7" font-size="6.4" text-anchor="end">(μM)</text>
<line x1="69.8" y1="692.3" x2="173.2" y2="692.3" stroke="#555" stroke-width="0.8"/>
<text x="119" y="699.8" font-size="6.6" text-anchor="middle">CC 1.0</text>
<line x1="69.8" y1="703.7" x2="173.2" y2="703.7" stroke="#555" stroke-width="0.8"/>
<text x="119" y="711.5" font-size="6.6" text-anchor="middle">LPS</text>
<text x="173.6" y="209.4" font-size="11.5" fill="#111" stroke="#111" font-weight="bold" stroke="none" textLength="7.6" lengthAdjust="spacingAndGlyphs">F</text>
<rect x="216.6" y="297.51" width="10" height="4.19" fill="#b39bc3"/>
<rect x="232.1" y="249.37" width="10" height="52.33" fill="#b39bc3"/>
<rect x="247.9" y="240.99" width="10" height="60.71" fill="#b39bc3"/>
<rect x="263.4" y="254.6" width="10" height="47.1" fill="#b39bc3"/>
<rect x="279" y="272.13" width="10" height="29.57" fill="#b39bc3"/>
<line x1="221.6" y1="298.04" x2="221.6" y2="296.73" stroke="#4a2058" stroke-width="0.8"/>
<line x1="219.6" y1="296.73" x2="223.6" y2="296.73" stroke="#4a2058" stroke-width="0.8"/>
<line x1="219.6" y1="298.04" x2="223.6" y2="298.04" stroke="#4a2058" stroke-width="0.8"/>
<line x1="237.1" y1="254.6" x2="237.1" y2="244.13" stroke="#4a2058" stroke-width="0.8"/>
<line x1="235.1" y1="244.13" x2="239.1" y2="244.13" stroke="#4a2058" stroke-width="0.8"/>
<line x1="235.1" y1="254.6" x2="239.1" y2="254.6" stroke="#4a2058" stroke-width="0.8"/>
<line x1="252.9" y1="244.79" x2="252.9" y2="237.46" stroke="#4a2058" stroke-width="0.8"/>
<line x1="250.9" y1="237.46" x2="254.9" y2="237.46" stroke="#4a2058" stroke-width="0.8"/>
<line x1="250.9" y1="244.79" x2="254.9" y2="244.79" stroke="#4a2058" stroke-width="0.8"/>
<line x1="268.4" y1="260.23" x2="268.4" y2="246.36" stroke="#4a2058" stroke-width="0.8"/>
<line x1="266.4" y1="246.36" x2="270.4" y2="246.36" stroke="#4a2058" stroke-width="0.8"/>
<line x1="266.4" y1="260.23" x2="270.4" y2="260.23" stroke="#4a2058" stroke-width="0.8"/>
<line x1="284" y1="274.22" x2="284" y2="270.69" stroke="#4a2058" stroke-width="0.8"/>
<line x1="282" y1="270.69" x2="286" y2="270.69" stroke="#4a2058" stroke-width="0.8"/>
<line x1="282" y1="274.22" x2="286" y2="274.22" stroke="#4a2058" stroke-width="0.8"/>
<line x1="211.1" y1="222.7" x2="211.1" y2="302.2" stroke="#111" stroke-width="1"/>
<line x1="210.6" y1="301.7" x2="292.3" y2="301.7" stroke="#111" stroke-width="1"/>
<line x1="208.1" y1="301.7" x2="211.1" y2="301.7" stroke="#111" stroke-width="0.9"/>
<text x="206.4" y="304.04" font-size="6.5" text-anchor="end">0</text>
<line x1="208.1" y1="275.53" x2="211.1" y2="275.53" stroke="#111" stroke-width="0.9"/>
<text x="206.4" y="277.87" font-size="6.5" text-anchor="end">20</text>
<line x1="208.1" y1="249.37" x2="211.1" y2="249.37" stroke="#111" stroke-width="0.9"/>
<text x="206.4" y="251.71" font-size="6.5" text-anchor="end">40</text>
<line x1="208.1" y1="223.2" x2="211.1" y2="223.2" stroke="#111" stroke-width="0.9"/>
<text x="206.4" y="225.54" font-size="6.5" text-anchor="end">60</text>
<line x1="221.6" y1="301.7" x2="221.6" y2="304.2" stroke="#111" stroke-width="0.8"/>
<line x1="237.1" y1="301.7" x2="237.1" y2="304.2" stroke="#111" stroke-width="0.8"/>
<line x1="252.9" y1="301.7" x2="252.9" y2="304.2" stroke="#111" stroke-width="0.8"/>
<line x1="268.4" y1="301.7" x2="268.4" y2="304.2" stroke="#111" stroke-width="0.8"/>
<line x1="284" y1="301.7" x2="284" y2="304.2" stroke="#111" stroke-width="0.8"/>
<circle cx="218.9" cy="296.86" r="1.5" fill="#3a1046"/>
<circle cx="221.6" cy="297.91" r="1.5" fill="#3a1046"/>
<circle cx="224.4" cy="297.25" r="1.5" fill="#3a1046"/>
<circle cx="235.5" cy="233.8" r="1.5" fill="#3a1046"/>
<circle cx="239.2" cy="237.46" r="1.5" fill="#3a1046"/>
<circle cx="235.5" cy="251.85" r="1.5" fill="#3a1046"/>
<circle cx="238.8" cy="248.58" r="1.5" fill="#3a1046"/>
<circle cx="237" cy="256.3" r="1.5" fill="#3a1046"/>
<circle cx="237" cy="266.24" r="1.5" fill="#3a1046"/>
<circle cx="249.2" cy="231.44" r="1.5" fill="#3a1046"/>
<circle cx="252.9" cy="230.92" r="1.5" fill="#3a1046"/>
<circle cx="256.5" cy="233.54" r="1.5" fill="#3a1046"/>
<circle cx="249.8" cy="236.02" r="1.5" fill="#3a1046"/>
<circle cx="254.3" cy="237.46" r="1.5" fill="#3a1046"/>
<circle cx="252.9" cy="240.86" r="1.5" fill="#3a1046"/>
<circle cx="252.9" cy="265.59" r="1.5" fill="#3a1046"/>
<circle cx="266.2" cy="235.76" r="1.5" fill="#3a1046"/>
<circle cx="270.9" cy="234.84" r="1.5" fill="#3a1046"/>
<circle cx="268.6" cy="247.93" r="1.5" fill="#3a1046"/>
<circle cx="268" cy="267.03" r="1.5" fill="#3a1046"/>
<circle cx="268" cy="274.75" r="1.5" fill="#3a1046"/>
<circle cx="283.5" cy="260.23" r="1.5" fill="#3a1046"/>
<circle cx="281.2" cy="266.9" r="1.5" fill="#3a1046"/>
<circle cx="285.2" cy="269.25" r="1.5" fill="#3a1046"/>
<circle cx="280.1" cy="273.96" r="1.5" fill="#3a1046"/>
<circle cx="282.4" cy="275.14" r="1.5" fill="#3a1046"/>
<circle cx="285.2" cy="275.14" r="1.5" fill="#3a1046"/>
<circle cx="287.4" cy="274.49" r="1.5" fill="#3a1046"/>
<text x="191.4" y="261" font-size="7" text-anchor="middle" textLength="85" lengthAdjust="spacingAndGlyphs" transform="rotate(-90 191.4 261)">SG positive neutrophils (%)</text>
<line x1="237.5" y1="221" x2="286.1" y2="221" stroke="#555" stroke-width="0.9"/>
<circle cx="261.3" cy="218" r="1.0" fill="#1a1a1a"/>
<text x="208.2" y="313.3" font-size="6.5" text-anchor="end">DSF</text>
<text x="208.2" y="320.8" font-size="6.5" text-anchor="end">DPI</text>
<text x="221.6" y="313.3" font-size="6.5" text-anchor="middle">–</text>
<text x="221.6" y="320.8" font-size="6.5" text-anchor="middle">–</text>
<text x="237.1" y="313.3" font-size="6.5" text-anchor="middle">–</text>
<text x="237.1" y="320.8" font-size="6.5" text-anchor="middle">–</text>
<text x="252.9" y="313.3" font-size="6.5" text-anchor="middle">40</text>
<text x="252.9" y="320.8" font-size="6.5" text-anchor="middle">–</text>
<text x="268.4" y="313.3" font-size="6.5" text-anchor="middle">50</text>
<text x="268.4" y="320.8" font-size="6.5" text-anchor="middle">–</text>
<text x="284" y="313.3" font-size="6.5" text-anchor="middle">–</text>
<text x="284" y="320.8" font-size="6.5" text-anchor="middle">10</text>
<line x1="232.3" y1="323.9" x2="290.5" y2="323.9" stroke="#555" stroke-width="0.8"/>
<text x="216.5" y="332.5" font-size="6.4" text-anchor="end">(μM)</text>
<text x="261.3" y="332.5" font-size="6.6" text-anchor="middle">CC 0.6</text>
<line x1="218.6" y1="334.9" x2="290.5" y2="334.9" stroke="#555" stroke-width="0.8"/>
<text x="254.6" y="342.2" font-size="6.6" text-anchor="middle">CXCL8</text>
<text x="302.8" y="209.6" font-size="11.5" fill="#111" stroke="#111" font-weight="bold" stroke="none" textLength="9" lengthAdjust="spacingAndGlyphs">G</text>
<text x="359.2" y="223.5" font-size="8.6" text-anchor="middle" fill="#333" stroke="#333" textLength="78.4" lengthAdjust="spacingAndGlyphs">Human Neutrophils</text>
<path d="M328.6,259.3 L328.6,254.7 L331,245 L333.7,235.2 L335,244.7 L336.5,250.2 L337.5,253.6 L339,257.5 L341,259.3 Z" fill="#c9c9c9" stroke="#8a8a8a" stroke-width="0.8" fill-opacity="1" stroke-linejoin="round"/>
<line x1="336" y1="259.3" x2="386.5" y2="259.3" stroke="#8a8a8a" stroke-width="0.9"/>
<path d="M328.6,274.1 L329,270 L330.5,260 L332,254 L334.4,252 L336.1,256.3 L337.8,257.8 L339.4,258.6 L341.7,258.2 L343.3,259.1 L345,260.6 L347.2,261.9 L349.4,263 L351.7,262.4 L353.9,264.7 L356.1,266.9 L358.3,269.1 L360.6,270.8 L362.8,271.9 L365,272.4 L368,273.4 L372,274.1 L372,274.1 L328.6,274.1 Z" fill="#f3b5b8" stroke="none" stroke-width="0.8" fill-opacity="1" stroke-linejoin="round"/>
<path d="M328.6,274.1 L329,270 L330.5,260 L332,254 L334.4,252 L336.1,256.3 L337.8,257.8 L339.4,258.6 L341.7,258.2 L343.3,259.1 L345,260.6 L347.2,261.9 L349.4,263 L351.7,262.4 L353.9,264.7 L356.1,266.9 L358.3,269.1 L360.6,270.8 L362.8,271.9 L365,272.4 L368,273.4 L372,274.1" fill="none" stroke="#c8203f" stroke-width="0.9" fill-opacity="1" stroke-linejoin="round"/>
<line x1="372" y1="274.1" x2="386.5" y2="274.1" stroke="#c8203f" stroke-width="0.9"/>
<path d="M328.6,288.6 L329,281.3 L332,272 L334.8,266.9 L336,270.2 L338,271.9 L340,273 L342,272.4 L344,273 L345.5,275.8 L347,279.1 L349,281.3 L351,282.4 L353,282.2 L355,281.6 L357,282.4 L359,283 L361,283.6 L363,284.1 L365,285.2 L368,286.2 L371,286.8 L374,286.9 L377,286.4 L380,287.6 L383,288.6 L386,289.6 L386,288.6 L328.6,288.6 Z" fill="#cfe6c4" stroke="none" stroke-width="0.8" fill-opacity="1" stroke-linejoin="round"/>
<path d="M328.6,288.6 L329,281.3 L332,272 L334.8,266.9 L336,270.2 L338,271.9 L340,273 L342,272.4 L344,273 L345.5,275.8 L347,279.1 L349,281.3 L351,282.4 L353,282.2 L355,281.6 L357,282.4 L359,283 L361,283.6 L363,284.1 L365,285.2 L368,286.2 L371,286.8 L374,286.9 L377,286.4 L380,287.6 L383,288.6 L386,289.6" fill="none" stroke="#4caa48" stroke-width="0.9" fill-opacity="1" stroke-linejoin="round"/>
<path d="M328.6,305 L329,299.1 L331.5,288 L333.5,280.8 L334.5,282 L335.5,290.2 L337,296.9 L338.5,300.8 L340,301.9 L342,301.3 L344,302.2 L346,303 L350,304.5 L354,305 L328.6,305 Z" fill="#c6e2f2" stroke="none" stroke-width="0.8" fill-opacity="1" stroke-linejoin="round"/>
<path d="M328.6,305 L329,299.1 L331.5,288 L333.5,280.8 L334.5,282 L335.5,290.2 L337,296.9 L338.5,300.8 L340,301.9 L342,301.3 L344,302.2 L346,303 L350,304.5 L354,305" fill="none" stroke="#3ea0d8" stroke-width="0.9" fill-opacity="1" stroke-linejoin="round"/>
<line x1="328.6" y1="228.8" x2="328.6" y2="305.4" stroke="#111" stroke-width="1"/>
<line x1="328.1" y1="305" x2="389.3" y2="305" stroke="#111" stroke-width="1"/>
<line x1="329.6" y1="305" x2="329.6" y2="307.5" stroke="#111" stroke-width="0.5"/>
<line x1="333.82" y1="305" x2="333.82" y2="306.8" stroke="#111" stroke-width="0.5"/>
<line x1="336.29" y1="305" x2="336.29" y2="306.8" stroke="#111" stroke-width="0.5"/>
<line x1="338.05" y1="305" x2="338.05" y2="306.8" stroke="#111" stroke-width="0.5"/>
<line x1="339.41" y1="305" x2="339.41" y2="306.8" stroke="#111" stroke-width="0.5"/>
<line x1="340.52" y1="305" x2="340.52" y2="306.8" stroke="#111" stroke-width="0.5"/>
<line x1="341.46" y1="305" x2="341.46" y2="306.8" stroke="#111" stroke-width="0.5"/>
<line x1="342.27" y1="305" x2="342.27" y2="306.8" stroke="#111" stroke-width="0.5"/>
<line x1="342.99" y1="305" x2="342.99" y2="306.8" stroke="#111" stroke-width="0.5"/>
<line x1="343.63" y1="305" x2="343.63" y2="307.5" stroke="#111" stroke-width="0.5"/>
<line x1="347.85" y1="305" x2="347.85" y2="306.8" stroke="#111" stroke-width="0.5"/>
<line x1="350.32" y1="305" x2="350.32" y2="306.8" stroke="#111" stroke-width="0.5"/>
<line x1="352.08" y1="305" x2="352.08" y2="306.8" stroke="#111" stroke-width="0.5"/>
<line x1="353.44" y1="305" x2="353.44" y2="306.8" stroke="#111" stroke-width="0.5"/>
<line x1="354.55" y1="305" x2="354.55" y2="306.8" stroke="#111" stroke-width="0.5"/>
<line x1="355.49" y1="305" x2="355.49" y2="306.8" stroke="#111" stroke-width="0.5"/>
<line x1="356.3" y1="305" x2="356.3" y2="306.8" stroke="#111" stroke-width="0.5"/>
<line x1="357.02" y1="305" x2="357.02" y2="306.8" stroke="#111" stroke-width="0.5"/>
<line x1="357.66" y1="305" x2="357.66" y2="307.5" stroke="#111" stroke-width="0.5"/>
<line x1="361.88" y1="305" x2="361.88" y2="306.8" stroke="#111" stroke-width="0.5"/>
<line x1="364.35" y1="305" x2="364.35" y2="306.8" stroke="#111" stroke-width="0.5"/>
<line x1="366.11" y1="305" x2="366.11" y2="306.8" stroke="#111" stroke-width="0.5"/>
<line x1="367.47" y1="305" x2="367.47" y2="306.8" stroke="#111" stroke-width="0.5"/>
<line x1="368.58" y1="305" x2="368.58" y2="306.8" stroke="#111" stroke-width="0.5"/>
<line x1="369.52" y1="305" x2="369.52" y2="306.8" stroke="#111" stroke-width="0.5"/>
<line x1="370.33" y1="305" x2="370.33" y2="306.8" stroke="#111" stroke-width="0.5"/>
<line x1="371.05" y1="305" x2="371.05" y2="306.8" stroke="#111" stroke-width="0.5"/>
<line x1="371.69" y1="305" x2="371.69" y2="307.5" stroke="#111" stroke-width="0.5"/>
<line x1="375.91" y1="305" x2="375.91" y2="306.8" stroke="#111" stroke-width="0.5"/>
<line x1="378.38" y1="305" x2="378.38" y2="306.8" stroke="#111" stroke-width="0.5"/>
<line x1="380.14" y1="305" x2="380.14" y2="306.8" stroke="#111" stroke-width="0.5"/>
<line x1="381.5" y1="305" x2="381.5" y2="306.8" stroke="#111" stroke-width="0.5"/>
<line x1="382.61" y1="305" x2="382.61" y2="306.8" stroke="#111" stroke-width="0.5"/>
<line x1="383.55" y1="305" x2="383.55" y2="306.8" stroke="#111" stroke-width="0.5"/>
<line x1="384.36" y1="305" x2="384.36" y2="306.8" stroke="#111" stroke-width="0.5"/>
<line x1="385.08" y1="305" x2="385.08" y2="306.8" stroke="#111" stroke-width="0.5"/>
<line x1="385.7" y1="305" x2="385.7" y2="307.5" stroke="#111" stroke-width="0.5"/>
<text x="328.1" y="316.8" font-size="6.5" text-anchor="middle" fill="#2e2e2e">10<tspan dy="-2.4" font-size="4.2">0</tspan></text>
<text x="341.3" y="316.8" font-size="6.5" text-anchor="middle" fill="#2e2e2e">10<tspan dy="-2.4" font-size="4.2">1</tspan></text>
<text x="355.3" y="316.8" font-size="6.5" text-anchor="middle" fill="#2e2e2e">10<tspan dy="-2.4" font-size="4.2">2</tspan></text>
<text x="369.7" y="316.8" font-size="6.5" text-anchor="middle" fill="#2e2e2e">10<tspan dy="-2.4" font-size="4.2">3</tspan></text>
<text x="384.2" y="316.8" font-size="6.5" text-anchor="middle" fill="#2e2e2e">10<tspan dy="-2.4" font-size="4.2">4</tspan></text>
<text x="358.5" y="329" font-size="6.8" text-anchor="middle" textLength="32" lengthAdjust="spacingAndGlyphs">Sytox green</text>
<text x="322.8" y="266.6" font-size="6.8" text-anchor="middle" textLength="45.2" lengthAdjust="spacingAndGlyphs" transform="rotate(-90 322.8 266.6)">%Positive cells</text>
<text x="365.9" y="255" font-size="6.6" fill="#777" stroke="#777" textLength="25" lengthAdjust="spacingAndGlyphs" style="stroke-width:0.08px">Unstimu</text>
<text x="366.4" y="269.9" font-size="6.6" fill="#c8203f" stroke="#c8203f" textLength="35" lengthAdjust="spacingAndGlyphs" style="stroke-width:0.08px">CC +DMSO</text>
<text x="366.4" y="284.3" font-size="6.6" fill="#4caa48" stroke="#4caa48" textLength="35.8" lengthAdjust="spacingAndGlyphs" style="stroke-width:0.08px">CC +DSF40</text>
<text x="366.4" y="298.8" font-size="6.6" fill="#3ea0d8" stroke="#3ea0d8" textLength="26.6" lengthAdjust="spacingAndGlyphs" style="stroke-width:0.08px">CC +DPI</text>
<text x="410.3" y="209.5" font-size="11.5" fill="#111" stroke="#111" font-weight="bold" stroke="none" textLength="8.4" lengthAdjust="spacingAndGlyphs">H</text>
<text x="469.1" y="220.6" font-size="6.8" text-anchor="middle" textLength="39.8" lengthAdjust="spacingAndGlyphs">1st perfusion</text>
<line x1="449.2" y1="222.3" x2="489" y2="222.3" stroke="#444" stroke-width="0.6"/>
<text x="464.2" y="233.2" font-size="6.8" text-anchor="middle" textLength="78.5" lengthAdjust="spacingAndGlyphs">WT Blood (Platelets) +CC</text>
<text x="471" y="278.6" font-size="6.8" text-anchor="middle" textLength="41.4" lengthAdjust="spacingAndGlyphs">2nd perfusion</text>
<line x1="450.3" y1="280.3" x2="491.7" y2="280.3" stroke="#444" stroke-width="0.6"/>
<text x="426" y="290.8" font-size="6.8" fill="#3a3a3a" textLength="87.4" lengthAdjust="spacingAndGlyphs">WT or Gsdmd<tspan dy="-2.5" font-size="4">-/-</tspan><tspan dy="2.5"> Neutrophils</tspan></text>
<rect x="447.2" y="236.2" width="54.3" height="23" fill="#fafafa" stroke="#8c8c8c" stroke-width="0.8"/>
<rect x="447.6" y="239.7" width="53.5" height="16" fill="#f6c9c9" stroke="#8c8c8c" stroke-width="0.6"/>
<line x1="501.5" y1="247.7" x2="507.3" y2="247.7" stroke="#8a8a8a" stroke-width="1.4"/>
<line x1="441.5" y1="247.7" x2="447.2" y2="247.7" stroke="#8a8a8a" stroke-width="1.2"/>
<path d="M420.5,245.2 L426.5,245.2 L426.5,250.4 L420.5,250.4 Z" fill="#f8c4bc" stroke="#e8a8a0" stroke-width="0.4"/>
<path d="M426.5,244.6 L437,244.8 L442,247.7 L437,250.7 L426.5,250.9 Z" fill="#f2dc98" stroke="#d0b880" stroke-width="0.4"/>
<circle cx="429.5" cy="248.6" r="1.2" fill="#6a6a38"/>
<circle cx="432.5" cy="246.8" r="1.1" fill="#8a9a30"/>
<circle cx="435" cy="248.6" r="1" fill="#5a5a40"/>
<circle cx="437.5" cy="247.5" r="0.8" fill="#9a9a30"/>
<ellipse cx="453.4" cy="249.5" rx="2.3" ry="1.7" fill="#8fb050" stroke="#3a5020" stroke-width="0.5"/>
<ellipse cx="466.7" cy="251.6" rx="2.2" ry="1.5" fill="#8fb050" stroke="#3a5020" stroke-width="0.5"/>
<ellipse cx="475.5" cy="243.8" rx="1.1" ry="0.9" fill="#8fb050" stroke="#3a5020" stroke-width="0.5"/>
<ellipse cx="486" cy="248.4" rx="2.2" ry="1.7" fill="#8fb050" stroke="#3a5020" stroke-width="0.5"/>
<ellipse cx="489.5" cy="247.6" rx="2.4" ry="1.8" fill="#8fb050" stroke="#3a5020" stroke-width="0.5"/>
<ellipse cx="492.5" cy="248.8" rx="1.8" ry="1.4" fill="#8fb050" stroke="#3a5020" stroke-width="0.5"/>
<rect x="447.2" y="293.9" width="54.3" height="24.1" fill="#fafafa" stroke="#8c8c8c" stroke-width="0.8"/>
<rect x="447.6" y="298" width="53.5" height="16.4" fill="#d6e8f3" stroke="#8c8c8c" stroke-width="0.6"/>
<line x1="501.2" y1="306" x2="507" y2="306" stroke="#8a8a8a" stroke-width="1.4"/>
<line x1="441.5" y1="306" x2="447.2" y2="306" stroke="#8a8a8a" stroke-width="1.2"/>
<path d="M420.5,303.2 L425.5,303.2 L425.5,308.8 L420.5,308.8 Z" fill="#b8c8d4" stroke="#8aa0b0" stroke-width="0.4"/>
<path d="M425.5,302.8 L436.5,303 L442,306 L436.5,309 L425.5,309.2 Z" fill="#c8e0ee" stroke="#7a9ab0" stroke-width="0.4"/>
<circle cx="429" cy="306" r="1.4" fill="#1f7890"/>
<circle cx="432.5" cy="305.5" r="1.4" fill="#1f7890"/>
<circle cx="436" cy="306.2" r="1.4" fill="#1f7890"/>
<ellipse cx="454" cy="307" rx="2" ry="1.5" fill="#8fb050" stroke="#3a5020" stroke-width="0.5"/>
<ellipse cx="465.8" cy="309.5" rx="2" ry="1.4" fill="#8fb050" stroke="#3a5020" stroke-width="0.5"/>
<ellipse cx="486.5" cy="307" rx="2.6" ry="1.8" fill="#8fb050" stroke="#3a5020" stroke-width="0.5"/>
<ellipse cx="489.5" cy="305.5" rx="2" ry="1.5" fill="#8fb050" stroke="#3a5020" stroke-width="0.5"/>
<circle cx="451.6" cy="302.4" r="2.3" fill="#1f88a0" stroke="#0c4050" stroke-width="0.4"/>
<circle cx="459.6" cy="307.7" r="2.3" fill="#1f88a0" stroke="#0c4050" stroke-width="0.4"/>
<circle cx="471.1" cy="302.7" r="2.3" fill="#1f88a0" stroke="#0c4050" stroke-width="0.4"/>
<circle cx="484.5" cy="308.5" r="2" fill="#1f88a0" stroke="#0c4050" stroke-width="0.4"/>
<circle cx="488.5" cy="309.5" r="1.8" fill="#1f88a0" stroke="#0c4050" stroke-width="0.4"/>
<circle cx="490.5" cy="302.4" r="1.5" fill="#c04a80"/>
<circle cx="496.7" cy="302.6" r="1.4" fill="#3a8ad0"/>
<text x="247.3" y="591.3" font-size="11.5" fill="#111" stroke="#111" font-weight="bold" stroke="none" textLength="6" lengthAdjust="spacingAndGlyphs">J</text>
<circle cx="285.5" cy="592.2" r="1.3" fill="#3a4256"/>
<text x="290.2" y="594.2" font-size="6.6" textLength="24.8" lengthAdjust="spacingAndGlyphs">WT Neu</text>
<circle cx="285.5" cy="602.3" r="1.3" fill="#b41c2c"/>
<text x="290.8" y="604.4" font-size="6.6" fill="#3a3a3a"><tspan font-style="italic">Gsdmd</tspan><tspan x="314.6" dy="-2.8" font-size="4">-/-</tspan><tspan x="322.7" dy="2.8">Neu</tspan></text>
<rect x="285.7" y="676.22" width="11" height="12.28" fill="#b8bcc8"/>
<rect x="299.6" y="675.43" width="11" height="13.07" fill="#f3b4ac"/>
<rect x="318.9" y="636.24" width="11" height="52.26" fill="#b8bcc8"/>
<rect x="332.3" y="673.1" width="11" height="15.4" fill="#f3b4ac"/>
<line x1="291.2" y1="684.01" x2="291.2" y2="669.39" stroke="#363c4c" stroke-width="0.8"/>
<line x1="289.2" y1="669.39" x2="293.2" y2="669.39" stroke="#363c4c" stroke-width="0.8"/>
<line x1="289.2" y1="684.01" x2="293.2" y2="684.01" stroke="#363c4c" stroke-width="0.8"/>
<line x1="305.1" y1="679.92" x2="305.1" y2="669" stroke="#b41c2c" stroke-width="0.8"/>
<line x1="303.1" y1="669" x2="307.1" y2="669" stroke="#b41c2c" stroke-width="0.8"/>
<line x1="303.1" y1="679.92" x2="307.1" y2="679.92" stroke="#b41c2c" stroke-width="0.8"/>
<line x1="324.4" y1="640.34" x2="324.4" y2="630.39" stroke="#363c4c" stroke-width="0.8"/>
<line x1="322.4" y1="630.39" x2="326.4" y2="630.39" stroke="#363c4c" stroke-width="0.8"/>
<line x1="322.4" y1="640.34" x2="326.4" y2="640.34" stroke="#363c4c" stroke-width="0.8"/>
<line x1="337.8" y1="682.65" x2="337.8" y2="662.17" stroke="#b41c2c" stroke-width="0.8"/>
<line x1="335.8" y1="662.17" x2="339.8" y2="662.17" stroke="#b41c2c" stroke-width="0.8"/>
<line x1="335.8" y1="682.65" x2="339.8" y2="682.65" stroke="#b41c2c" stroke-width="0.8"/>
<line x1="280.4" y1="610" x2="280.4" y2="689" stroke="#111" stroke-width="1"/>
<line x1="279.9" y1="688.5" x2="351" y2="688.5" stroke="#111" stroke-width="1"/>
<line x1="277.4" y1="688.5" x2="280.4" y2="688.5" stroke="#111" stroke-width="0.9"/>
<text x="274.3" y="690.84" font-size="6.5" text-anchor="end">0</text>
<line x1="277.4" y1="669" x2="280.4" y2="669" stroke="#111" stroke-width="0.9"/>
<text x="274.3" y="671.34" font-size="6.5" text-anchor="end">1</text>
<line x1="277.4" y1="649.5" x2="280.4" y2="649.5" stroke="#111" stroke-width="0.9"/>
<text x="274.3" y="651.84" font-size="6.5" text-anchor="end">2</text>
<line x1="277.4" y1="630" x2="280.4" y2="630" stroke="#111" stroke-width="0.9"/>
<text x="274.3" y="632.34" font-size="6.5" text-anchor="end">3</text>
<line x1="277.4" y1="610.5" x2="280.4" y2="610.5" stroke="#111" stroke-width="0.9"/>
<text x="274.3" y="612.84" font-size="6.5" text-anchor="end">4</text>
<line x1="298.15" y1="688.5" x2="298.15" y2="691" stroke="#111" stroke-width="0.8"/>
<line x1="331.1" y1="688.5" x2="331.1" y2="691" stroke="#111" stroke-width="0.8"/>
<circle cx="287.8" cy="671.92" r="1.45" fill="#363c4c"/>
<circle cx="294.7" cy="671.92" r="1.45" fill="#363c4c"/>
<circle cx="291.6" cy="675.43" r="1.45" fill="#363c4c"/>
<circle cx="291.6" cy="684.6" r="1.45" fill="#363c4c"/>
<circle cx="305" cy="667.25" r="1.45" fill="#b41c2c"/>
<circle cx="305" cy="673.49" r="1.45" fill="#b41c2c"/>
<circle cx="300.5" cy="679.92" r="1.45" fill="#b41c2c"/>
<circle cx="305.5" cy="679.92" r="1.45" fill="#b41c2c"/>
<circle cx="310" cy="679.92" r="1.45" fill="#b41c2c"/>
<circle cx="324" cy="628.83" r="1.45" fill="#363c4c"/>
<circle cx="320.5" cy="637.22" r="1.45" fill="#363c4c"/>
<circle cx="327.5" cy="637.22" r="1.45" fill="#363c4c"/>
<circle cx="324" cy="640.34" r="1.45" fill="#363c4c"/>
<circle cx="337.5" cy="658.86" r="1.45" fill="#b41c2c"/>
<circle cx="337.5" cy="669.98" r="1.45" fill="#b41c2c"/>
<circle cx="335" cy="680.7" r="1.45" fill="#b41c2c"/>
<circle cx="340" cy="680.7" r="1.45" fill="#b41c2c"/>
<text x="264.2" y="648" font-size="7.4" text-anchor="middle" textLength="83" lengthAdjust="spacingAndGlyphs" transform="rotate(-90 264.2 648)">RedDeep-neutriphils/CD41</text>
<line x1="290.4" y1="617" x2="322.4" y2="617" stroke="#6a6a6a" stroke-width="1.1"/>
<circle cx="303.9" cy="614.1" r="1.0" fill="#1a1a1a"/><circle cx="306.9" cy="614.1" r="1.0" fill="#1a1a1a"/><circle cx="309.9" cy="614.1" r="1.0" fill="#1a1a1a"/>
<line x1="326.2" y1="617" x2="339.3" y2="617" stroke="#6a6a6a" stroke-width="1.1"/>
<circle cx="329.7" cy="614.1" r="1.0" fill="#1a1a1a"/><circle cx="332.7" cy="614.1" r="1.0" fill="#1a1a1a"/><circle cx="335.7" cy="614.1" r="1.0" fill="#1a1a1a"/>
<text x="276.3" y="701" font-size="6.6" text-anchor="end">CC</text>
<text x="297.9" y="701" font-size="6.6" text-anchor="middle">–</text>
<text x="331" y="701" font-size="6.6" text-anchor="middle">+</text>
<line x1="285.8" y1="702.3" x2="343.7" y2="702.3" stroke="#555" stroke-width="0.8"/>
<text x="312.7" y="711" font-size="6.6" text-anchor="middle">WT Plt</text>
<text x="377.3" y="592" font-size="11.5" fill="#111" stroke="#111" font-weight="bold" stroke="none" textLength="9" lengthAdjust="spacingAndGlyphs">K</text>
<circle cx="422.2" cy="591.9" r="1.3" fill="#3a4256"/>
<text x="427.2" y="594.1" font-size="6.6" textLength="24.7" lengthAdjust="spacingAndGlyphs">WT Neu</text>
<circle cx="422.2" cy="601.9" r="1.3" fill="#b41c2c"/>
<text x="427.5" y="604.4" font-size="6.6" fill="#3a3a3a"><tspan textLength="21.5" lengthAdjust="spacingAndGlyphs">Gsdmd</tspan><tspan x="451.3" dy="-2.8" font-size="4">-/-</tspan><tspan x="458.5" dy="2.8">Neu</tspan></text>
<rect x="422.2" y="676.21" width="11" height="12.29" fill="#b8bcc8"/>
<rect x="435.9" y="673.52" width="11" height="14.98" fill="#f3b4ac"/>
<rect x="455.3" y="647.32" width="11" height="41.18" fill="#b8bcc8"/>
<rect x="469.1" y="675.08" width="11" height="13.42" fill="#f3b4ac"/>
<line x1="427.7" y1="681.64" x2="427.7" y2="671.34" stroke="#363c4c" stroke-width="0.8"/>
<line x1="425.7" y1="671.34" x2="429.7" y2="671.34" stroke="#363c4c" stroke-width="0.8"/>
<line x1="425.7" y1="681.64" x2="429.7" y2="681.64" stroke="#363c4c" stroke-width="0.8"/>
<line x1="441.4" y1="675.08" x2="441.4" y2="669.78" stroke="#b41c2c" stroke-width="0.8"/>
<line x1="439.4" y1="669.78" x2="443.4" y2="669.78" stroke="#b41c2c" stroke-width="0.8"/>
<line x1="439.4" y1="675.08" x2="443.4" y2="675.08" stroke="#b41c2c" stroke-width="0.8"/>
<line x1="460.8" y1="664.48" x2="460.8" y2="629.22" stroke="#363c4c" stroke-width="0.8"/>
<line x1="458.8" y1="629.22" x2="462.8" y2="629.22" stroke="#363c4c" stroke-width="0.8"/>
<line x1="458.8" y1="664.48" x2="462.8" y2="664.48" stroke="#363c4c" stroke-width="0.8"/>
<line x1="474.6" y1="679.45" x2="474.6" y2="669.78" stroke="#b41c2c" stroke-width="0.8"/>
<line x1="472.6" y1="669.78" x2="476.6" y2="669.78" stroke="#b41c2c" stroke-width="0.8"/>
<line x1="472.6" y1="679.45" x2="476.6" y2="679.45" stroke="#b41c2c" stroke-width="0.8"/>
<line x1="416.4" y1="610" x2="416.4" y2="689" stroke="#111" stroke-width="1"/>
<line x1="415.9" y1="688.5" x2="488" y2="688.5" stroke="#111" stroke-width="1"/>
<line x1="413.4" y1="688.5" x2="416.4" y2="688.5" stroke="#111" stroke-width="0.9"/>
<text x="411.2" y="690.84" font-size="6.5" text-anchor="end">0</text>
<line x1="413.4" y1="672.9" x2="416.4" y2="672.9" stroke="#111" stroke-width="0.9"/>
<text x="411.2" y="675.24" font-size="6.5" text-anchor="end">5</text>
<line x1="413.4" y1="657.3" x2="416.4" y2="657.3" stroke="#111" stroke-width="0.9"/>
<text x="411.2" y="659.64" font-size="6.5" text-anchor="end">10</text>
<line x1="413.4" y1="641.7" x2="416.4" y2="641.7" stroke="#111" stroke-width="0.9"/>
<text x="411.2" y="644.04" font-size="6.5" text-anchor="end">15</text>
<line x1="413.4" y1="626.1" x2="416.4" y2="626.1" stroke="#111" stroke-width="0.9"/>
<text x="411.2" y="628.44" font-size="6.5" text-anchor="end">20</text>
<line x1="413.4" y1="610.5" x2="416.4" y2="610.5" stroke="#111" stroke-width="0.9"/>
<text x="411.2" y="612.84" font-size="6.5" text-anchor="end">25</text>
<line x1="434.55" y1="688.5" x2="434.55" y2="691" stroke="#111" stroke-width="0.8"/>
<line x1="467.7" y1="688.5" x2="467.7" y2="691" stroke="#111" stroke-width="0.8"/>
<circle cx="425.8" cy="671.34" r="1.45" fill="#363c4c"/>
<circle cx="430.8" cy="671.34" r="1.45" fill="#363c4c"/>
<circle cx="425" cy="681.17" r="1.45" fill="#363c4c"/>
<circle cx="430.5" cy="680.08" r="1.45" fill="#363c4c"/>
<circle cx="436.5" cy="671.34" r="1.45" fill="#b41c2c"/>
<circle cx="440.5" cy="670.5" r="1.45" fill="#b41c2c"/>
<circle cx="445.5" cy="673.84" r="1.45" fill="#b41c2c"/>
<circle cx="440.5" cy="675.4" r="1.45" fill="#b41c2c"/>
<circle cx="460.8" cy="622.04" r="1.45" fill="#363c4c"/>
<circle cx="460.8" cy="647.63" r="1.45" fill="#363c4c"/>
<circle cx="458" cy="659.17" r="1.45" fill="#363c4c"/>
<circle cx="463.5" cy="658.24" r="1.45" fill="#363c4c"/>
<circle cx="471.9" cy="669.59" r="1.45" fill="#b41c2c"/>
<circle cx="476.5" cy="670.81" r="1.45" fill="#b41c2c"/>
<circle cx="471.9" cy="679.51" r="1.45" fill="#b41c2c"/>
<circle cx="476.5" cy="678.7" r="1.45" fill="#b41c2c"/>
<text x="397.2" y="647.8" font-size="7.4" text-anchor="middle" textLength="33.5" lengthAdjust="spacingAndGlyphs" transform="rotate(-90 397.2 647.8)">CitH3/area</text>
<line x1="426.9" y1="617" x2="458.9" y2="617" stroke="#6a6a6a" stroke-width="1.1"/>
<circle cx="441.5" cy="614.1" r="1.0" fill="#1a1a1a"/><circle cx="444.5" cy="614.1" r="1.0" fill="#1a1a1a"/>
<line x1="462.8" y1="617" x2="475.8" y2="617" stroke="#6a6a6a" stroke-width="1.1"/>
<circle cx="467.7" cy="614.1" r="1.0" fill="#1a1a1a"/><circle cx="470.7" cy="614.1" r="1.0" fill="#1a1a1a"/>
<text x="413" y="701" font-size="6.6" text-anchor="end">CC</text>
<text x="434.6" y="701" font-size="6.6" text-anchor="middle">–</text>
<text x="467.5" y="701" font-size="6.6" text-anchor="middle">+</text>
<line x1="422" y1="702.3" x2="480.4" y2="702.3" stroke="#555" stroke-width="0.8"/>
<text x="450.8" y="711" font-size="6.6" text-anchor="middle">WT Plt</text>
<rect x="224.2" y="21.6" width="225.25" height="168.4" fill="#8c8c8c"/>
<rect x="457.2" y="21.6" width="55.3" height="168.4" fill="#8c8c8c"/>
<svg x="224.2" y="21.6" width="55.6" height="55.4" viewBox="0 0 55.6 55.4"><rect x="0" y="0" width="55.6" height="55.4" fill="#050514"/><use href="#e_dapi1" filter="url(#blurE)"/><rect x="48.1" y="52.2" width="5" height="1.3" fill="#f0f0f0"/></svg>
<svg x="280.75" y="21.6" width="55.6" height="55.4" viewBox="0 0 55.6 55.4"><rect x="0" y="0" width="55.6" height="55.4" fill="#040506"/><use href="#e_cit1" filter="url(#blurE)"/><rect x="48.1" y="52.2" width="5" height="1.3" fill="#f0f0f0"/></svg>
<svg x="337.3" y="21.6" width="55.6" height="55.4" viewBox="0 0 55.6 55.4"><rect x="0" y="0" width="55.6" height="55.4" fill="#070304"/><use href="#e_mpo1" filter="url(#blurE)"/><rect x="48.1" y="52.2" width="5" height="1.3" fill="#f0f0f0"/></svg>
<svg x="393.85" y="21.6" width="55.6" height="55.4" viewBox="0 0 55.6 55.4"><rect x="0" y="0" width="55.6" height="55.4" fill="#050514"/><g style="isolation:isolate"><use href="#e_dapi1" filter="url(#blurE)" opacity="1" style="mix-blend-mode:screen"/><use href="#e_cit1" filter="url(#blurE)" opacity="1" style="mix-blend-mode:screen"/><use href="#e_mpo1" filter="url(#blurE)" opacity="0.75" style="mix-blend-mode:screen"/></g><rect x="48.1" y="52.2" width="5" height="1.3" fill="#f0f0f0"/></svg>
<svg x="457.2" y="21.6" width="55.3" height="55.4" viewBox="0 0 55.3 55.4"><rect x="0" y="0" width="55.3" height="55.4" fill="#040604"/><use href="#e_syt1" filter="url(#blurE)"/><rect x="47.8" y="52.2" width="5" height="1.3" fill="#f0f0f0"/></svg>
<svg x="224.2" y="78.1" width="55.6" height="55.4" viewBox="0 0 55.6 55.4"><rect x="0" y="0" width="55.6" height="55.4" fill="#07071e"/><use href="#e_dapi2" filter="url(#blurE)"/><rect x="48.1" y="52.2" width="5" height="1.3" fill="#f0f0f0"/></svg>
<svg x="280.75" y="78.1" width="55.6" height="55.4" viewBox="0 0 55.6 55.4"><rect x="0" y="0" width="55.6" height="55.4" fill="#040805"/><use href="#e_cit2" filter="url(#blurE)"/><rect x="48.1" y="52.2" width="5" height="1.3" fill="#f0f0f0"/></svg>
<svg x="337.3" y="78.1" width="55.6" height="55.4" viewBox="0 0 55.6 55.4"><rect x="0" y="0" width="55.6" height="55.4" fill="#0c0303"/><use href="#e_mpo2" filter="url(#blurE)"/><rect x="48.1" y="52.2" width="5" height="1.3" fill="#f0f0f0"/></svg>
<svg x="393.85" y="78.1" width="55.6" height="55.4" viewBox="0 0 55.6 55.4"><rect x="0" y="0" width="55.6" height="55.4" fill="#0a0618"/><g style="isolation:isolate"><use href="#e_dapi2" filter="url(#blurE)" opacity="1" style="mix-blend-mode:screen"/><use href="#e_cit2" filter="url(#blurE)" opacity="1" style="mix-blend-mode:screen"/><use href="#e_mpo2" filter="url(#blurE)" opacity="0.75" style="mix-blend-mode:screen"/></g><rect x="48.1" y="52.2" width="5" height="1.3" fill="#f0f0f0"/></svg>
<svg x="457.2" y="78.1" width="55.3" height="55.4" viewBox="0 0 55.3 55.4"><rect x="0" y="0" width="55.3" height="55.4" fill="#040c05"/><use href="#e_syt2" filter="url(#blurE)"/><rect x="47.8" y="52.2" width="5" height="1.3" fill="#f0f0f0"/></svg>
<svg x="224.2" y="134.6" width="55.6" height="55.4" viewBox="0 0 55.6 55.4"><rect x="0" y="0" width="55.6" height="55.4" fill="#0a0a34"/><use href="#e_dapi3" filter="url(#blurE)"/><rect x="48.1" y="52.2" width="5" height="1.3" fill="#f0f0f0"/></svg>
<svg x="280.75" y="134.6" width="55.6" height="55.4" viewBox="0 0 55.6 55.4"><rect x="0" y="0" width="55.6" height="55.4" fill="#040805"/><use href="#e_cit3" filter="url(#blurE)"/><rect x="48.1" y="52.2" width="5" height="1.3" fill="#f0f0f0"/></svg>
<svg x="337.3" y="134.6" width="55.6" height="55.4" viewBox="0 0 55.6 55.4"><rect x="0" y="0" width="55.6" height="55.4" fill="#160404"/><use href="#e_mpo3" filter="url(#blurE)"/><rect x="48.1" y="52.2" width="5" height="1.3" fill="#f0f0f0"/></svg>
<svg x="393.85" y="134.6" width="55.6" height="55.4" viewBox="0 0 55.6 55.4"><rect x="0" y="0" width="55.6" height="55.4" fill="#140628"/><g style="isolation:isolate"><use href="#e_dapi3" filter="url(#blurE)" opacity="1" style="mix-blend-mode:screen"/><use href="#e_cit3" filter="url(#blurE)" opacity="1" style="mix-blend-mode:screen"/><use href="#e_mpo3" filter="url(#blurE)" opacity="0.75" style="mix-blend-mode:screen"/></g><rect x="48.1" y="52.2" width="5" height="1.3" fill="#f0f0f0"/></svg>
<svg x="457.2" y="134.6" width="55.3" height="55.4" viewBox="0 0 55.3 55.4"><rect x="0" y="0" width="55.3" height="55.4" fill="#051005"/><use href="#e_syt3" filter="url(#blurE)"/><rect x="47.8" y="52.2" width="5" height="1.3" fill="#f0f0f0"/></svg>
<text x="430.8" y="70.6" font-size="6.2" fill="#f4f4f4" stroke="#f4f4f4" textLength="16.2" lengthAdjust="spacingAndGlyphs">20 μm</text>
<text x="491.6" y="70.6" font-size="6.2" fill="#f4f4f4" stroke="#f4f4f4" textLength="19.1" lengthAdjust="spacingAndGlyphs">100 μm</text>
<text x="252" y="19.3" font-size="6.5" text-anchor="middle" textLength="15" lengthAdjust="spacingAndGlyphs">DAPI</text>
<text x="308.5" y="19.3" font-size="6.5" text-anchor="middle" textLength="18" lengthAdjust="spacingAndGlyphs">CitH3</text>
<text x="365" y="19.3" font-size="6.5" text-anchor="middle" textLength="15.5" lengthAdjust="spacingAndGlyphs">MPO</text>
<text x="421.6" y="19.3" font-size="6.5" text-anchor="middle" textLength="20" lengthAdjust="spacingAndGlyphs">Merge</text>
<text x="485.1" y="19.3" font-size="6.5" text-anchor="middle" textLength="37.3" lengthAdjust="spacingAndGlyphs">Sytox Green</text>
<text x="221.7" y="50.4" font-size="6.5" text-anchor="middle" textLength="25" lengthAdjust="spacingAndGlyphs" transform="rotate(-90 221.7 50.4)">Unstimu</text>
<text x="221.7" y="106" font-size="6.5" text-anchor="middle" textLength="19" lengthAdjust="spacingAndGlyphs" transform="rotate(-90 221.7 106)">DMSO</text>
<text x="221.7" y="162.5" font-size="6.5" text-anchor="middle" textLength="22" lengthAdjust="spacingAndGlyphs" transform="rotate(-90 221.7 162.5)">DSF 40</text>
<text x="211.5" y="134" font-size="6.5" text-anchor="middle" transform="rotate(-90 211.5 134)">CC</text>
<line x1="213.2" y1="78.7" x2="213.2" y2="189.3" stroke="#555" stroke-width="0.8"/>
<text x="194.6" y="17.3" font-size="11.5" fill="#111" stroke="#111" font-weight="bold" stroke="none" textLength="6.8" lengthAdjust="spacingAndGlyphs">E</text>
<rect x="239.6" y="368.1" width="256" height="102.2" fill="#bcbcbc"/>
<rect x="239.6" y="471.5" width="256" height="101.8" fill="#bcbcbc"/>
<svg x="240.2" y="368.6" width="49.6" height="49.6" viewBox="0 0 49.6 49.6"><rect x="0" y="0" width="49.6" height="49.6" fill="#050805"/><use href="#i_cd1" filter="url(#blurI)"/><rect x="43.1" y="46.6" width="3.6" height="1.2" fill="#f0f0f0"/></svg>
<svg x="291.5" y="368.6" width="49.6" height="49.6" viewBox="0 0 49.6 49.6"><rect x="0" y="0" width="49.6" height="49.6" fill="#05050f"/><use href="#i_da1" filter="url(#blurI)"/><rect x="43.1" y="46.6" width="3.6" height="1.2" fill="#f0f0f0"/></svg>
<svg x="342.8" y="368.6" width="49.6" height="49.6" viewBox="0 0 49.6 49.6"><rect x="0" y="0" width="49.6" height="49.6" fill="#040707"/><use href="#i_ne1" filter="url(#blurI)"/><rect x="43.1" y="46.6" width="3.6" height="1.2" fill="#f0f0f0"/></svg>
<svg x="394.1" y="368.6" width="49.6" height="49.6" viewBox="0 0 49.6 49.6"><rect x="0" y="0" width="49.6" height="49.6" fill="#0a0303"/><use href="#i_ci1" filter="url(#blurI)"/><rect x="43.1" y="46.6" width="3.6" height="1.2" fill="#f0f0f0"/></svg>
<svg x="445.4" y="368.6" width="49.6" height="49.6" viewBox="0 0 49.6 49.6"><rect x="0" y="0" width="49.6" height="49.6" fill="#050805"/><g style="isolation:isolate"><use href="#i_cd1" filter="url(#blurI)" opacity="1" style="mix-blend-mode:screen"/><use href="#i_da1" filter="url(#blurI)" opacity="0.22" style="mix-blend-mode:screen"/><use href="#i_ne1" filter="url(#blurI)" opacity="0.45" style="mix-blend-mode:screen"/><use href="#i_ci1" filter="url(#blurI)" opacity="0.08" style="mix-blend-mode:screen"/></g><rect x="43.1" y="46.6" width="3.6" height="1.2" fill="#f0f0f0"/></svg>
<svg x="240.2" y="420" width="49.6" height="49.6" viewBox="0 0 49.6 49.6"><rect x="0" y="0" width="49.6" height="49.6" fill="#050805"/><use href="#i_cd2" filter="url(#blurI)"/><rect x="43.1" y="46.6" width="3.6" height="1.2" fill="#f0f0f0"/></svg>
<svg x="291.5" y="420" width="49.6" height="49.6" viewBox="0 0 49.6 49.6"><rect x="0" y="0" width="49.6" height="49.6" fill="#05050f"/><use href="#i_da2" filter="url(#blurI)"/><rect x="43.1" y="46.6" width="3.6" height="1.2" fill="#f0f0f0"/></svg>
<svg x="342.8" y="420" width="49.6" height="49.6" viewBox="0 0 49.6 49.6"><rect x="0" y="0" width="49.6" height="49.6" fill="#040707"/><use href="#i_ne2" filter="url(#blurI)"/><rect x="43.1" y="46.6" width="3.6" height="1.2" fill="#f0f0f0"/></svg>
<svg x="394.1" y="420" width="49.6" height="49.6" viewBox="0 0 49.6 49.6"><rect x="0" y="0" width="49.6" height="49.6" fill="#0a0303"/><use href="#i_ci2" filter="url(#blurI)"/><rect x="43.1" y="46.6" width="3.6" height="1.2" fill="#f0f0f0"/></svg>
<svg x="445.4" y="420" width="49.6" height="49.6" viewBox="0 0 49.6 49.6"><rect x="0" y="0" width="49.6" height="49.6" fill="#050805"/><g style="isolation:isolate"><use href="#i_cd2" filter="url(#blurI)" opacity="1" style="mix-blend-mode:screen"/><use href="#i_da2" filter="url(#blurI)" opacity="0.22" style="mix-blend-mode:screen"/><use href="#i_ne2" filter="url(#blurI)" opacity="0.45" style="mix-blend-mode:screen"/><use href="#i_ci2" filter="url(#blurI)" opacity="0.08" style="mix-blend-mode:screen"/></g><rect x="43.1" y="46.6" width="3.6" height="1.2" fill="#f0f0f0"/></svg>
<svg x="240.2" y="472" width="49.6" height="49.6" viewBox="0 0 49.6 49.6"><rect x="0" y="0" width="49.6" height="49.6" fill="#050805"/><use href="#i_cd3" filter="url(#blurI)"/><rect x="43.1" y="46.6" width="3.6" height="1.2" fill="#f0f0f0"/></svg>
<svg x="291.5" y="472" width="49.6" height="49.6" viewBox="0 0 49.6 49.6"><rect x="0" y="0" width="49.6" height="49.6" fill="#05050f"/><use href="#i_da3" filter="url(#blurI)"/><rect x="43.1" y="46.6" width="3.6" height="1.2" fill="#f0f0f0"/></svg>
<svg x="342.8" y="472" width="49.6" height="49.6" viewBox="0 0 49.6 49.6"><rect x="0" y="0" width="49.6" height="49.6" fill="#040707"/><use href="#i_ne3" filter="url(#blurI)"/><rect x="43.1" y="46.6" width="3.6" height="1.2" fill="#f0f0f0"/></svg>
<svg x="394.1" y="472" width="49.6" height="49.6" viewBox="0 0 49.6 49.6"><rect x="0" y="0" width="49.6" height="49.6" fill="#100303"/><use href="#i_ci3" filter="url(#blurI)"/><rect x="43.1" y="46.6" width="3.6" height="1.2" fill="#f0f0f0"/></svg>
<svg x="445.4" y="472" width="49.6" height="49.6" viewBox="0 0 49.6 49.6"><rect x="0" y="0" width="49.6" height="49.6" fill="#050805"/><g style="isolation:isolate"><use href="#i_cd3" filter="url(#blurI)" opacity="1" style="mix-blend-mode:screen"/><use href="#i_da3" filter="url(#blurI)" opacity="0.22" style="mix-blend-mode:screen"/><use href="#i_ne3" filter="url(#blurI)" opacity="0.45" style="mix-blend-mode:screen"/><use href="#i_ci3" filter="url(#blurI)" opacity="0.08" style="mix-blend-mode:screen"/></g><use href="#i_mx3" filter="url(#blurI)"/><rect x="43.1" y="46.6" width="3.6" height="1.2" fill="#f0f0f0"/></svg>
<svg x="240.2" y="523" width="49.6" height="49.6" viewBox="0 0 49.6 49.6"><rect x="0" y="0" width="49.6" height="49.6" fill="#050805"/><use href="#i_cd4" filter="url(#blurI)"/><rect x="43.1" y="46.6" width="3.6" height="1.2" fill="#f0f0f0"/></svg>
<svg x="291.5" y="523" width="49.6" height="49.6" viewBox="0 0 49.6 49.6"><rect x="0" y="0" width="49.6" height="49.6" fill="#05051e"/><use href="#i_da4" filter="url(#blurI)"/><rect x="43.1" y="46.6" width="3.6" height="1.2" fill="#f0f0f0"/></svg>
<svg x="342.8" y="523" width="49.6" height="49.6" viewBox="0 0 49.6 49.6"><rect x="0" y="0" width="49.6" height="49.6" fill="#040707"/><use href="#i_ne4" filter="url(#blurI)"/><rect x="43.1" y="46.6" width="3.6" height="1.2" fill="#f0f0f0"/></svg>
<svg x="394.1" y="523" width="49.6" height="49.6" viewBox="0 0 49.6 49.6"><rect x="0" y="0" width="49.6" height="49.6" fill="#0a0303"/><use href="#i_ci4" filter="url(#blurI)"/><rect x="43.1" y="46.6" width="3.6" height="1.2" fill="#f0f0f0"/></svg>
<svg x="445.4" y="523" width="49.6" height="49.6" viewBox="0 0 49.6 49.6"><rect x="0" y="0" width="49.6" height="49.6" fill="#050805"/><g style="isolation:isolate"><use href="#i_cd4" filter="url(#blurI)" opacity="1" style="mix-blend-mode:screen"/><use href="#i_da4" filter="url(#blurI)" opacity="0.22" style="mix-blend-mode:screen"/><use href="#i_ne4" filter="url(#blurI)" opacity="0.45" style="mix-blend-mode:screen"/><use href="#i_ci4" filter="url(#blurI)" opacity="0.08" style="mix-blend-mode:screen"/></g><rect x="43.1" y="46.6" width="3.6" height="1.2" fill="#f0f0f0"/></svg>
<text x="478.7" y="411.3" font-size="5.6" fill="#c4c4c4" stroke="#c4c4c4" textLength="14.4" lengthAdjust="spacingAndGlyphs">10 μm</text>
<text x="265" y="366.1" font-size="6.6" text-anchor="middle" fill="#3aa860" stroke="#3aa860" textLength="17.4" lengthAdjust="spacingAndGlyphs">CD41</text>
<text x="316.3" y="366.1" font-size="6.6" text-anchor="middle" fill="#4a5ab8" stroke="#4a5ab8" textLength="15" lengthAdjust="spacingAndGlyphs">DAPI</text>
<text x="367.4" y="366.1" font-size="6.6" text-anchor="middle" fill="#30a8c4" stroke="#30a8c4" textLength="29.5" lengthAdjust="spacingAndGlyphs">Neutrophil</text>
<text x="418" y="366.1" font-size="6.6" text-anchor="middle" fill="#e0503c" stroke="#e0503c" textLength="18.5" lengthAdjust="spacingAndGlyphs">CitH3</text>
<text x="469.2" y="366.1" font-size="6.6" text-anchor="middle" fill="#333" stroke="#333" textLength="20" lengthAdjust="spacingAndGlyphs">Merge</text>
<text x="235.5" y="395" font-size="6.4" text-anchor="middle" textLength="24.3" lengthAdjust="spacingAndGlyphs" transform="rotate(-90 235.5 395)">WT Neu</text>
<text x="221" y="419" font-size="6.4" text-anchor="middle" textLength="21" lengthAdjust="spacingAndGlyphs" transform="rotate(-90 221 419)">WT Plt</text>
<text x="235.5" y="497" font-size="6.4" text-anchor="middle" textLength="24.3" lengthAdjust="spacingAndGlyphs" transform="rotate(-90 235.5 497)">WT Neu</text>
<text x="221" y="521.5" font-size="6.4" text-anchor="middle" textLength="36" lengthAdjust="spacingAndGlyphs" transform="rotate(-90 221 521.5)">CC + WT Plt</text>
<g transform="rotate(-90 235.5 445.5)"><text x="214" y="445.5" font-size="6.4" fill="#3a3a3a" textLength="43" lengthAdjust="spacingAndGlyphs"><tspan font-style="italic">Gsdmd</tspan><tspan dy="-2.3" font-size="3.8">-/-</tspan><tspan dy="2.3"> Neu</tspan></text></g>
<g transform="rotate(-90 235.5 548)"><text x="214" y="548" font-size="6.4" fill="#3a3a3a" textLength="43" lengthAdjust="spacingAndGlyphs"><tspan font-style="italic">Gsdmd</tspan><tspan dy="-2.3" font-size="3.8">-/-</tspan><tspan dy="2.3"> Neu</tspan></text></g>
<line x1="226.4" y1="369.9" x2="226.4" y2="468.7" stroke="#555" stroke-width="0.8"/>
<line x1="226.3" y1="472.4" x2="226.3" y2="570.8" stroke="#555" stroke-width="0.8"/>
<text x="212.2" y="363" font-size="11.5" fill="#111" stroke="#111" font-weight="bold" stroke="none" textLength="3.2" lengthAdjust="spacingAndGlyphs">I</text>
<rect x="0.5" y="0.5" width="519" height="719" fill="none" stroke="#4a4a4a" stroke-width="1"/>
</svg>
</body></html>
